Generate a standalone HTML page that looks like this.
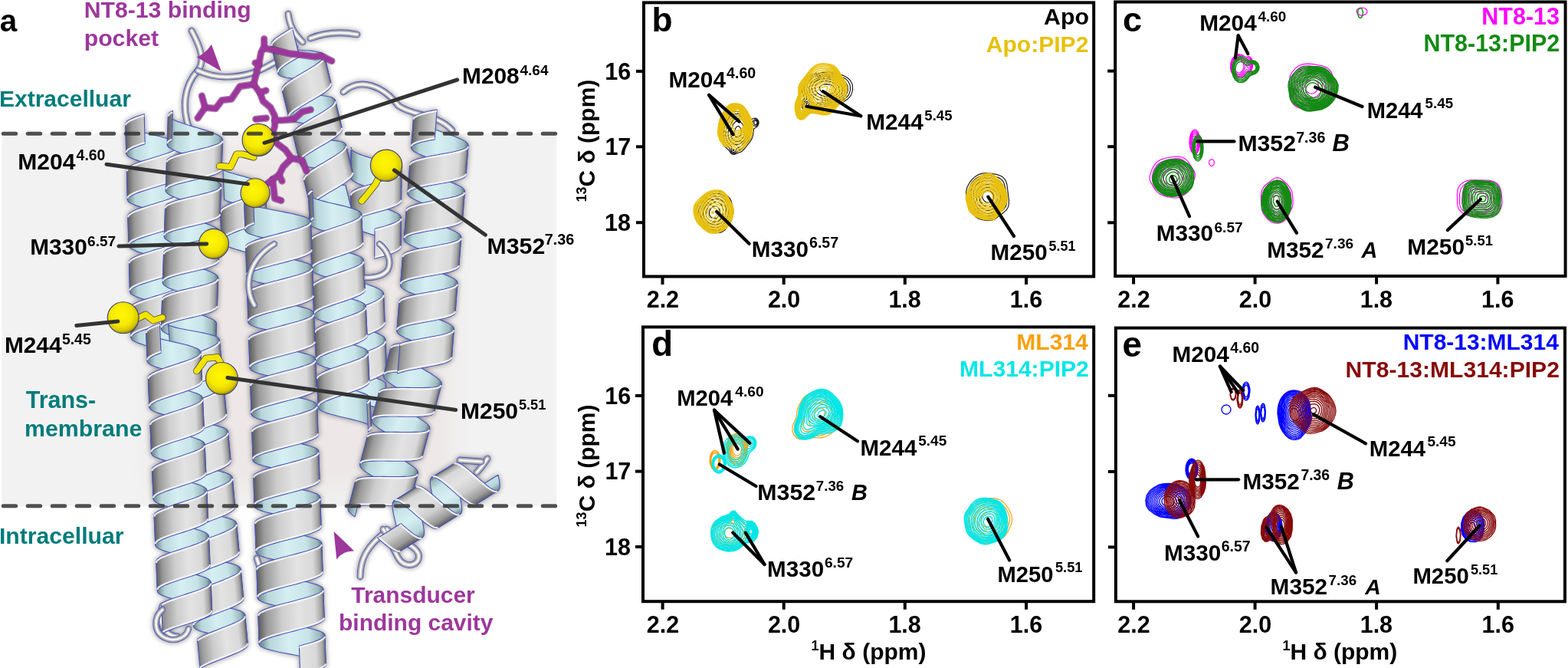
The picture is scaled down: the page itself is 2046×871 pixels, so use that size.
<!DOCTYPE html><html><head><meta charset="utf-8"><style>html,body{margin:0;padding:0;background:#fff;overflow:hidden}svg{display:block}</style></head><body><svg width="2046" height="871" viewBox="0 0 2046 871" font-family="'Liberation Sans', Arial, sans-serif" font-weight="bold"><rect width="2046" height="871" fill="#fff"/><rect x="2.4" y="174" width="723.6" height="486" fill="#f2f2f2"/><defs><filter id="ao" x="-10%" y="-10%" width="120%" height="120%"><feGaussianBlur in="SourceAlpha" stdDeviation="3.5"/><feComponentTransfer><feFuncA type="linear" slope="0.45"/></feComponentTransfer><feMerge><feMergeNode/><feMergeNode in="SourceGraphic"/></feMerge></filter></defs><defs><filter id="tb" x="-20%" y="-20%" width="140%" height="140%"><feGaussianBlur stdDeviation="18"/></filter><clipPath id="bandclip"><rect x="2.4" y="174" width="723.6" height="486"/></clipPath></defs><g clip-path="url(#bandclip)"><path d="M200 190 L590 190 L590 640 L200 640 Z" fill="#ede7e7" filter="url(#tb)"/></g><g filter="url(#ao)"><path d="M247 168 C237 140 240 112 258 92 C268 80 262 62 250 40" fill="none" stroke="#4b55b5" stroke-width="8.8" stroke-linecap="round" stroke-linejoin="round"/><path d="M247 168 C237 140 240 112 258 92 C268 80 262 62 250 40" fill="none" stroke="#a9a9a9" stroke-width="7" stroke-linecap="round" stroke-linejoin="round"/><path d="M247 168 C237 140 240 112 258 92 C268 80 262 62 250 40" fill="none" stroke="#f4f4f4" stroke-width="3.15" stroke-linecap="round" stroke-linejoin="round"/><path d="M258 92 C275 100 300 104 330 95 C350 88 365 78 385 62" fill="none" stroke="#4b55b5" stroke-width="8.8" stroke-linecap="round" stroke-linejoin="round"/><path d="M258 92 C275 100 300 104 330 95 C350 88 365 78 385 62" fill="none" stroke="#a9a9a9" stroke-width="7" stroke-linecap="round" stroke-linejoin="round"/><path d="M258 92 C275 100 300 104 330 95 C350 88 365 78 385 62" fill="none" stroke="#f4f4f4" stroke-width="3.15" stroke-linecap="round" stroke-linejoin="round"/><path d="M376 18 C378 35 385 45 395 55" fill="none" stroke="#4b55b5" stroke-width="8.8" stroke-linecap="round" stroke-linejoin="round"/><path d="M376 18 C378 35 385 45 395 55" fill="none" stroke="#a9a9a9" stroke-width="7" stroke-linecap="round" stroke-linejoin="round"/><path d="M376 18 C378 35 385 45 395 55" fill="none" stroke="#f4f4f4" stroke-width="3.15" stroke-linecap="round" stroke-linejoin="round"/><path d="M405 50 C420 44 440 40 466 45" fill="none" stroke="#4b55b5" stroke-width="8.8" stroke-linecap="round" stroke-linejoin="round"/><path d="M405 50 C420 44 440 40 466 45" fill="none" stroke="#a9a9a9" stroke-width="7" stroke-linecap="round" stroke-linejoin="round"/><path d="M405 50 C420 44 440 40 466 45" fill="none" stroke="#f4f4f4" stroke-width="3.15" stroke-linecap="round" stroke-linejoin="round"/><path d="M448 120 C470 100 500 112 520 138 C540 152 570 148 590 170" fill="none" stroke="#4b55b5" stroke-width="8.8" stroke-linecap="round" stroke-linejoin="round"/><path d="M448 120 C470 100 500 112 520 138 C540 152 570 148 590 170" fill="none" stroke="#a9a9a9" stroke-width="7" stroke-linecap="round" stroke-linejoin="round"/><path d="M448 120 C470 100 500 112 520 138 C540 152 570 148 590 170" fill="none" stroke="#f4f4f4" stroke-width="3.15" stroke-linecap="round" stroke-linejoin="round"/><path d="M470 752 C470 730 478 712 505 692" fill="none" stroke="#4b55b5" stroke-width="8.8" stroke-linecap="round" stroke-linejoin="round"/><path d="M470 752 C470 730 478 712 505 692" fill="none" stroke="#a9a9a9" stroke-width="7" stroke-linecap="round" stroke-linejoin="round"/><path d="M470 752 C470 730 478 712 505 692" fill="none" stroke="#f4f4f4" stroke-width="3.15" stroke-linecap="round" stroke-linejoin="round"/><path d="M505 690 C515 705 540 708 546 722 C550 738 528 742 520 728 C512 714 508 702 500 690" fill="none" stroke="#4b55b5" stroke-width="8.8" stroke-linecap="round" stroke-linejoin="round"/><path d="M505 690 C515 705 540 708 546 722 C550 738 528 742 520 728 C512 714 508 702 500 690" fill="none" stroke="#a9a9a9" stroke-width="7" stroke-linecap="round" stroke-linejoin="round"/><path d="M505 690 C515 705 540 708 546 722 C550 738 528 742 520 728 C512 714 508 702 500 690" fill="none" stroke="#f4f4f4" stroke-width="3.15" stroke-linecap="round" stroke-linejoin="round"/><path d="M622 616 C628 610 632 604 636 598" fill="none" stroke="#4b55b5" stroke-width="8.8" stroke-linecap="round" stroke-linejoin="round"/><path d="M622 616 C628 610 632 604 636 598" fill="none" stroke="#a9a9a9" stroke-width="7" stroke-linecap="round" stroke-linejoin="round"/><path d="M622 616 C628 610 632 604 636 598" fill="none" stroke="#f4f4f4" stroke-width="3.15" stroke-linecap="round" stroke-linejoin="round"/><path d="M335 728 C340 745 348 758 356 767" fill="none" stroke="#4b55b5" stroke-width="8.8" stroke-linecap="round" stroke-linejoin="round"/><path d="M335 728 C340 745 348 758 356 767" fill="none" stroke="#a9a9a9" stroke-width="7" stroke-linecap="round" stroke-linejoin="round"/><path d="M335 728 C340 745 348 758 356 767" fill="none" stroke="#f4f4f4" stroke-width="3.15" stroke-linecap="round" stroke-linejoin="round"/><path d="M212 790 C205 810 215 830 232 830" fill="none" stroke="#4b55b5" stroke-width="8.8" stroke-linecap="round" stroke-linejoin="round"/><path d="M212 790 C205 810 215 830 232 830" fill="none" stroke="#a9a9a9" stroke-width="7" stroke-linecap="round" stroke-linejoin="round"/><path d="M212 790 C205 810 215 830 232 830" fill="none" stroke="#f4f4f4" stroke-width="3.15" stroke-linecap="round" stroke-linejoin="round"/><path d="M600 600 L628 602" fill="none" stroke="#4b55b5" stroke-width="8.8" stroke-linecap="round" stroke-linejoin="round"/><path d="M600 600 L628 602" fill="none" stroke="#a9a9a9" stroke-width="7" stroke-linecap="round" stroke-linejoin="round"/><path d="M600 600 L628 602" fill="none" stroke="#f4f4f4" stroke-width="3.15" stroke-linecap="round" stroke-linejoin="round"/><linearGradient id="f0" gradientUnits="userSpaceOnUse" x1="448.0" y1="371.0" x2="500.0" y2="369.0"><stop offset="0" stop-color="#5e5e5e"/><stop offset="0.12" stop-color="#999"/><stop offset="0.35" stop-color="#cdcdcd"/><stop offset="0.6" stop-color="#e3e3e3"/><stop offset="0.85" stop-color="#d9d9d9"/><stop offset="0.95" stop-color="#a6a6a6"/><stop offset="1" stop-color="#666"/></linearGradient><linearGradient id="b0" gradientUnits="userSpaceOnUse" x1="448.0" y1="371.0" x2="500.0" y2="369.0"><stop offset="0" stop-color="#6a8286"/><stop offset="0.15" stop-color="#b8d6da"/><stop offset="0.45" stop-color="#d6eff3"/><stop offset="0.75" stop-color="#c8e4e8"/><stop offset="0.92" stop-color="#9ab8bc"/><stop offset="1" stop-color="#5a7276"/></linearGradient><path d="M447.4 355.1 L447.8 356.7 L448.9 358.2 L450.7 359.7 L453.1 361.2 L456.1 362.6 L459.5 364.1 L463.4 365.5 L467.5 366.9 L471.8 368.3 L476.1 369.7 L480.4 371.2 L484.6 372.6 L488.4 374.0 L491.8 375.4 L494.8 376.9 L497.2 378.4 L499.0 379.9 L500.1 381.4 L500.5 383.0 L502.1 422.0 L501.7 420.4 L500.6 418.9 L498.8 417.4 L496.4 415.9 L493.4 414.4 L490.0 413.0 L486.1 411.5 L482.0 410.1 L477.7 408.7 L473.3 407.3 L469.0 405.9 L464.9 404.5 L461.1 403.1 L457.6 401.6 L454.7 400.2 L452.3 398.7 L450.5 397.2 L449.4 395.6 L448.9 394.1Z" fill="url(#b0)" stroke="#4b55b5" stroke-width="1.15" stroke-linejoin="round"/><path d="M449.8 415.0 L450.2 416.6 L451.3 418.1 L453.1 419.7 L455.5 421.1 L458.5 422.6 L461.9 424.0 L465.8 425.5 L469.9 426.9 L474.2 428.3 L478.5 429.7 L482.8 431.1 L487.0 432.5 L490.8 433.9 L494.2 435.4 L497.2 436.9 L499.6 438.3 L501.4 439.8 L502.5 441.4 L502.9 442.9 L504.5 481.9 L504.1 480.3 L503.0 478.8 L501.2 477.3 L498.8 475.8 L495.8 474.4 L492.3 472.9 L488.5 471.5 L484.4 470.1 L480.1 468.7 L475.7 467.3 L471.4 465.9 L467.3 464.4 L463.5 463.0 L460.0 461.6 L457.1 460.1 L454.7 458.6 L452.9 457.1 L451.8 455.6 L451.3 454.0Z" fill="url(#b0)" stroke="#4b55b5" stroke-width="1.15" stroke-linejoin="round"/><path d="M452.2 475.0 L452.6 476.5 L453.7 478.1 L455.4 479.6 L457.8 481.0 L460.7 482.5 L464.1 483.9 L467.9 485.3 L472.0 486.7 L476.2 488.1 L480.5 489.5 L484.8 490.9 L488.9 492.3 L492.7 493.7 L496.2 495.1 L499.2 496.6 L501.7 498.1 L503.6 499.5 L505.1 538.5 L503.2 537.0 L500.8 535.6 L497.7 534.1 L494.3 532.7 L490.4 531.3 L486.3 529.9 L482.1 528.5 L477.8 527.1 L473.5 525.7 L469.4 524.3 L465.7 522.9 L462.3 521.4 L459.4 520.0 L457.0 518.5 L455.2 517.0 L454.1 515.5 L453.7 514.0Z" fill="url(#b0)" stroke="#4b55b5" stroke-width="1.15" stroke-linejoin="round"/><path d="M449.0 351.5 L448.1 352.7 L447.5 353.9 L447.4 355.1 L448.9 394.1 L449.1 392.9 L449.6 391.7 L450.6 390.5Z" fill="url(#f0)" stroke="#4b55b5" stroke-width="1.15" stroke-linejoin="round"/><path d="M449.1 353.3 L448.2 354.5 L447.6 355.7 L447.5 356.9 M450.5 388.7 L449.6 389.9 L449.0 391.1 L448.9 392.3" fill="none" stroke="#f6f6f6" stroke-opacity="0.9" stroke-width="2.2"/><path d="M500.5 383.0 L500.2 384.6 L499.3 386.2 L497.6 387.8 L495.3 389.5 L492.5 391.2 L489.1 392.9 L485.4 394.7 L481.4 396.4 L477.3 398.1 L473.0 399.9 L468.9 401.6 L464.9 403.4 L461.2 405.1 L457.8 406.8 L455.0 408.5 L452.7 410.2 L451.1 411.8 L450.1 413.5 L449.8 415.0 L451.3 454.0 L451.6 452.4 L452.6 450.8 L454.3 449.2 L456.6 447.5 L459.4 445.8 L462.7 444.1 L466.4 442.3 L470.4 440.6 L474.6 438.9 L478.8 437.1 L483.0 435.4 L487.0 433.6 L490.7 431.9 L494.0 430.2 L496.9 428.5 L499.2 426.8 L500.8 425.2 L501.8 423.6 L502.1 422.0Z" fill="url(#f0)" stroke="#4b55b5" stroke-width="1.15" stroke-linejoin="round"/><path d="M500.6 384.8 L500.3 386.4 L499.3 388.0 L497.7 389.6 L495.4 391.3 L492.5 393.0 L489.2 394.7 L485.5 396.5 L481.5 398.2 L477.3 399.9 L473.1 401.7 L468.9 403.4 L465.0 405.2 L461.2 406.9 L457.9 408.6 L455.1 410.3 L452.8 412.0 L451.1 413.6 L450.1 415.3 L449.9 416.8 M502.0 420.2 L501.7 421.8 L500.7 423.4 L499.1 425.0 L496.8 426.7 L494.0 428.4 L490.6 430.1 L486.9 431.8 L482.9 433.6 L478.8 435.3 L474.5 437.1 L470.4 438.8 L466.4 440.5 L462.7 442.3 L459.3 444.0 L456.5 445.7 L454.2 447.4 L452.5 449.0 L451.6 450.6 L451.3 452.2" fill="none" stroke="#f6f6f6" stroke-opacity="0.9" stroke-width="2.2"/><path d="M502.9 442.9 L502.6 444.5 L501.7 446.2 L500.0 447.8 L497.7 449.5 L494.9 451.2 L491.5 452.9 L487.8 454.6 L483.8 456.3 L479.7 458.1 L475.4 459.8 L471.3 461.6 L467.3 463.3 L463.6 465.1 L460.2 466.8 L457.4 468.5 L455.1 470.1 L453.5 471.8 L452.5 473.4 L452.2 475.0 L453.7 514.0 L454.0 512.4 L455.0 510.8 L456.7 509.1 L459.0 507.4 L461.8 505.7 L465.1 504.0 L468.8 502.3 L472.8 500.6 L477.0 498.8 L481.2 497.1 L485.4 495.3 L489.4 493.6 L493.1 491.8 L496.4 490.1 L499.3 488.4 L501.6 486.8 L503.2 485.1 L504.2 483.5 L504.5 481.9Z" fill="url(#f0)" stroke="#4b55b5" stroke-width="1.15" stroke-linejoin="round"/><path d="M503.0 444.7 L502.7 446.3 L501.7 448.0 L500.1 449.6 L497.8 451.3 L494.9 453.0 L491.6 454.7 L487.9 456.4 L483.9 458.1 L479.7 459.9 L475.5 461.6 L471.3 463.4 L467.4 465.1 L463.6 466.9 L460.3 468.6 L457.5 470.3 L455.2 471.9 L453.5 473.6 L452.5 475.2 L452.3 476.8 M504.4 480.1 L504.1 481.7 L503.1 483.3 L501.5 485.0 L499.2 486.6 L496.4 488.3 L493.0 490.0 L489.3 491.8 L485.3 493.5 L481.2 495.3 L476.9 497.0 L472.8 498.8 L468.8 500.5 L465.1 502.2 L461.7 503.9 L458.9 505.6 L456.6 507.3 L454.9 509.0 L454.0 510.6 L453.7 512.2" fill="none" stroke="#f6f6f6" stroke-opacity="0.9" stroke-width="2.2"/><linearGradient id="f1" gradientUnits="userSpaceOnUse" x1="286.0" y1="241.3" x2="346.0" y2="238.7"><stop offset="0" stop-color="#5e5e5e"/><stop offset="0.12" stop-color="#999"/><stop offset="0.35" stop-color="#cdcdcd"/><stop offset="0.6" stop-color="#e3e3e3"/><stop offset="0.85" stop-color="#d9d9d9"/><stop offset="0.95" stop-color="#a6a6a6"/><stop offset="1" stop-color="#666"/></linearGradient><linearGradient id="b1" gradientUnits="userSpaceOnUse" x1="286.0" y1="241.3" x2="346.0" y2="238.7"><stop offset="0" stop-color="#6a8286"/><stop offset="0.15" stop-color="#b8d6da"/><stop offset="0.45" stop-color="#d6eff3"/><stop offset="0.75" stop-color="#c8e4e8"/><stop offset="0.92" stop-color="#9ab8bc"/><stop offset="1" stop-color="#5a7276"/></linearGradient><path d="M290.9 221.5 L294.3 223.0 L298.2 224.4 L302.6 225.8 L307.4 227.2 L312.4 228.6 L317.5 230.0 L322.5 231.4 L327.3 232.8 L331.9 234.2 L335.9 235.7 L339.4 237.1 L342.3 238.6 L344.4 240.1 L345.7 241.6 L346.2 243.2 L347.8 282.2 L347.3 280.6 L346.0 279.1 L343.9 277.6 L341.1 276.1 L337.6 274.6 L333.5 273.2 L329.0 271.8 L324.1 270.4 L319.1 269.0 L314.0 267.6 L309.0 266.2 L304.3 264.8 L299.9 263.4 L295.9 262.0 L292.6 260.5Z" fill="url(#b1)" stroke="#4b55b5" stroke-width="1.15" stroke-linejoin="round"/><path d="M287.5 275.7 L288.0 277.3 L289.2 278.8 L291.3 280.3 L294.1 281.8 L297.5 283.2 L301.5 284.6 L305.9 286.0 L310.6 287.4 L315.6 288.8 L320.6 290.1 L325.5 291.5 L330.3 292.9 L334.7 294.3 L338.7 295.7 L342.1 297.1 L344.9 298.6 L346.9 300.1 L348.2 301.6 L348.7 303.2 L350.3 342.1 L349.9 340.6 L348.6 339.1 L346.5 337.6 L343.7 336.1 L340.3 334.7 L336.3 333.2 L331.9 331.9 L327.2 330.5 L322.2 329.1 L317.2 327.7 L312.3 326.4 L307.5 325.0 L303.1 323.6 L299.1 322.2 L295.7 320.7 L292.9 319.3 L290.9 317.8 L289.6 316.2 L289.1 314.7Z" fill="url(#b1)" stroke="#4b55b5" stroke-width="1.15" stroke-linejoin="round"/><path d="M346.2 243.2 L345.8 244.8 L344.7 246.4 L342.7 248.1 L340.1 249.8 L336.8 251.5 L333.0 253.3 L328.7 255.0 L324.1 256.8 L319.3 258.6 L314.4 260.4 L309.6 262.2 L304.9 263.9 L300.7 265.7 L296.8 267.4 L293.5 269.1 L290.9 270.8 L289.0 272.5 L287.8 274.1 L287.5 275.7 L289.1 314.7 L289.5 313.1 L290.6 311.5 L292.5 309.8 L295.2 308.1 L298.5 306.4 L302.3 304.7 L306.6 302.9 L311.2 301.1 L316.0 299.3 L320.9 297.5 L325.7 295.8 L330.3 294.0 L334.6 292.2 L338.5 290.5 L341.7 288.8 L344.4 287.1 L346.3 285.4 L347.5 283.8 L347.8 282.2Z" fill="url(#f1)" stroke="#4b55b5" stroke-width="1.15" stroke-linejoin="round"/><path d="M346.2 245.0 L345.9 246.6 L344.7 248.2 L342.8 249.9 L340.2 251.6 L336.9 253.3 L333.1 255.1 L328.8 256.8 L324.2 258.6 L319.3 260.4 L314.5 262.2 L309.6 263.9 L305.0 265.7 L300.7 267.5 L296.9 269.2 L293.6 270.9 L291.0 272.6 L289.0 274.3 L287.9 275.9 L287.6 277.5 M347.7 280.4 L347.4 282.0 L346.2 283.6 L344.3 285.3 L341.7 287.0 L338.4 288.7 L334.5 290.4 L330.3 292.2 L325.6 294.0 L320.8 295.7 L315.9 297.5 L311.1 299.3 L306.5 301.1 L302.2 302.9 L298.4 304.6 L295.1 306.3 L292.5 308.0 L290.5 309.7 L289.4 311.3 L289.0 312.9" fill="none" stroke="#f6f6f6" stroke-opacity="0.9" stroke-width="2.2"/><path d="M348.7 303.2 L348.2 305.0 L346.6 307.0 L344.0 308.9 L340.5 310.9 L336.1 313.0 L331.1 315.0 L332.7 354.0 L337.7 351.9 L342.1 349.9 L345.6 347.9 L348.3 345.9 L349.8 344.0 L350.3 342.1Z" fill="url(#f1)" stroke="#4b55b5" stroke-width="1.15" stroke-linejoin="round"/><path d="M348.8 305.0 L348.3 306.8 L346.7 308.8 L344.1 310.7 L340.5 312.7 L336.2 314.8 L331.2 316.8 M350.3 340.3 L349.8 342.2 L348.2 344.1 L345.6 346.1 L342.0 348.1 L337.7 350.1 L332.7 352.2" fill="none" stroke="#f6f6f6" stroke-opacity="0.9" stroke-width="2.2"/><linearGradient id="f2" gradientUnits="userSpaceOnUse" x1="164.0" y1="168.9" x2="234.0" y2="167.1"><stop offset="0" stop-color="#5e5e5e"/><stop offset="0.12" stop-color="#999"/><stop offset="0.35" stop-color="#cdcdcd"/><stop offset="0.6" stop-color="#e3e3e3"/><stop offset="0.85" stop-color="#d9d9d9"/><stop offset="0.95" stop-color="#a6a6a6"/><stop offset="1" stop-color="#666"/></linearGradient><linearGradient id="b2" gradientUnits="userSpaceOnUse" x1="164.0" y1="168.9" x2="234.0" y2="167.1"><stop offset="0" stop-color="#6a8286"/><stop offset="0.15" stop-color="#b8d6da"/><stop offset="0.45" stop-color="#d6eff3"/><stop offset="0.75" stop-color="#c8e4e8"/><stop offset="0.92" stop-color="#9ab8bc"/><stop offset="1" stop-color="#5a7276"/></linearGradient><path d="M163.8 161.5 L164.3 163.1 L165.8 164.6 L168.2 166.2 L171.4 167.7 L175.3 169.1 L179.9 170.6 L185.0 172.0 L190.5 173.5 L196.3 174.9 L202.1 176.3 L207.8 177.8 L213.4 179.2 L218.5 180.7 L223.1 182.1 L227.0 183.6 L230.2 185.1 L232.6 186.6 L234.1 188.2 L234.6 189.7 L235.6 228.7 L235.1 227.1 L233.6 225.6 L231.2 224.1 L228.0 222.6 L224.1 221.1 L219.5 219.7 L214.4 218.2 L208.8 216.8 L203.1 215.3 L197.3 213.9 L191.5 212.5 L186.0 211.0 L180.9 209.6 L176.3 208.1 L172.4 206.6 L169.2 205.2 L166.8 203.6 L165.3 202.1 L164.8 200.5Z" fill="url(#b2)" stroke="#4b55b5" stroke-width="1.15" stroke-linejoin="round"/><path d="M165.4 221.5 L165.9 223.1 L167.3 224.6 L169.7 226.1 L172.9 227.6 L176.9 229.1 L181.5 230.6 L186.6 232.0 L192.1 233.5 L197.8 234.9 L203.6 236.3 L209.4 237.8 L214.9 239.2 L220.0 240.6 L224.6 242.1 L228.6 243.6 L231.8 245.1 L234.1 246.6 L235.6 248.1 L236.1 249.7 L237.1 288.7 L236.6 287.1 L235.1 285.6 L232.8 284.1 L229.6 282.6 L225.6 281.1 L221.0 279.6 L215.9 278.2 L210.4 276.7 L204.7 275.3 L198.8 273.9 L193.1 272.5 L187.6 271.0 L182.5 269.6 L177.9 268.1 L173.9 266.6 L170.7 265.1 L168.3 263.6 L166.9 262.1 L166.4 260.5Z" fill="url(#b2)" stroke="#4b55b5" stroke-width="1.15" stroke-linejoin="round"/><path d="M166.9 281.5 L167.4 283.1 L168.9 284.6 L171.2 286.1 L174.4 287.6 L178.4 289.1 L183.0 290.6 L188.1 292.0 L193.6 293.4 L199.4 294.9 L205.2 296.3 L210.9 297.7 L216.4 299.2 L221.6 300.6 L226.2 302.1 L230.1 303.6 L233.3 305.1 L235.7 306.6 L237.1 308.1 L237.7 309.7 L238.7 348.7 L238.1 347.1 L236.7 345.6 L234.3 344.0 L231.1 342.6 L227.2 341.1 L222.6 339.6 L217.4 338.2 L211.9 336.7 L206.2 335.3 L200.4 333.9 L194.6 332.4 L189.1 331.0 L184.0 329.5 L179.4 328.1 L175.5 326.6 L172.3 325.1 L169.9 323.6 L168.4 322.1 L167.9 320.5Z" fill="url(#b2)" stroke="#4b55b5" stroke-width="1.15" stroke-linejoin="round"/><path d="M168.5 341.5 L169.0 343.0 L170.4 344.6 L172.8 346.1 L176.0 347.6 L179.9 349.1 L184.5 350.5 L189.7 352.0 L195.2 353.4 L200.9 354.9 L206.7 356.3 L212.5 357.7 L218.0 359.2 L223.1 360.6 L227.7 362.1 L231.7 363.5 L234.9 365.0 L237.2 366.6 L238.7 368.1 L239.2 369.7 L240.2 408.7 L239.7 407.1 L238.2 405.5 L235.9 404.0 L232.7 402.5 L228.7 401.1 L224.1 399.6 L219.0 398.1 L213.5 396.7 L207.7 395.3 L201.9 393.8 L196.2 392.4 L190.7 391.0 L185.6 389.5 L181.0 388.1 L177.0 386.6 L173.8 385.1 L171.4 383.6 L170.0 382.0 L169.5 380.5Z" fill="url(#b2)" stroke="#4b55b5" stroke-width="1.15" stroke-linejoin="round"/><path d="M170.0 401.5 L170.6 403.1 L172.2 404.7 L174.8 406.3 L178.3 407.9 L182.7 409.5 L187.7 411.0 L193.2 412.5 L199.1 414.0 L205.2 415.5 L211.4 417.0 L217.3 418.5 L222.8 420.1 L223.9 459.0 L218.3 457.5 L212.4 456.0 L206.2 454.5 L200.1 453.0 L194.2 451.5 L188.7 450.0 L183.7 448.4 L179.3 446.9 L175.8 445.3 L173.2 443.7 L171.6 442.1 L171.0 440.4Z" fill="url(#b2)" stroke="#4b55b5" stroke-width="1.15" stroke-linejoin="round"/><path d="M188.2 148.8 L182.3 150.7 L177.1 152.5 L172.5 154.4 L168.8 156.2 L166.0 158.0 L164.4 159.8 L163.8 161.5 L164.8 200.5 L165.4 198.8 L167.0 197.0 L169.8 195.2 L173.5 193.4 L178.1 191.5 L183.3 189.6 L189.2 187.8Z" fill="url(#f2)" stroke="#4b55b5" stroke-width="1.15" stroke-linejoin="round"/><path d="M188.2 150.6 L182.4 152.5 L177.1 154.3 L172.5 156.2 L168.8 158.0 L166.1 159.8 L164.4 161.6 L163.9 163.3 M189.1 186.0 L183.3 187.8 L178.0 189.7 L173.4 191.6 L169.7 193.4 L167.0 195.2 L165.3 197.0 L164.8 198.7" fill="none" stroke="#f6f6f6" stroke-opacity="0.9" stroke-width="2.2"/><path d="M234.6 189.7 L234.1 191.3 L232.8 192.9 L230.5 194.6 L227.4 196.2 L223.5 197.9 L219.0 199.6 L213.9 201.3 L208.5 203.0 L202.8 204.8 L197.1 206.5 L191.4 208.2 L186.0 209.9 L181.0 211.6 L176.5 213.3 L172.6 215.0 L169.5 216.7 L167.2 218.3 L165.8 219.9 L165.4 221.5 L166.4 260.5 L166.8 258.9 L168.2 257.3 L170.5 255.7 L173.6 254.0 L177.5 252.3 L182.0 250.6 L187.0 248.9 L192.4 247.2 L198.1 245.5 L203.8 243.7 L209.5 242.0 L214.9 240.3 L220.0 238.6 L224.5 236.9 L228.4 235.2 L231.5 233.6 L233.8 231.9 L235.1 230.3 L235.6 228.7Z" fill="url(#f2)" stroke="#4b55b5" stroke-width="1.15" stroke-linejoin="round"/><path d="M234.6 191.5 L234.2 193.1 L232.8 194.7 L230.5 196.4 L227.4 198.0 L223.5 199.7 L219.0 201.4 L214.0 203.1 L208.5 204.8 L202.9 206.6 L197.1 208.3 L191.5 210.0 L186.1 211.7 L181.0 213.4 L176.5 215.1 L172.6 216.8 L169.5 218.5 L167.2 220.1 L165.8 221.7 L165.4 223.3 M235.5 226.9 L235.1 228.5 L233.7 230.1 L231.4 231.8 L228.3 233.4 L224.4 235.1 L219.9 236.8 L214.9 238.5 L209.5 240.2 L203.8 241.9 L198.1 243.7 L192.4 245.4 L187.0 247.1 L181.9 248.8 L177.4 250.5 L173.5 252.2 L170.4 253.9 L168.1 255.5 L166.8 257.1 L166.3 258.7" fill="none" stroke="#f6f6f6" stroke-opacity="0.9" stroke-width="2.2"/><path d="M236.1 249.7 L235.7 251.3 L234.3 252.9 L232.0 254.6 L228.9 256.2 L225.0 257.9 L220.5 259.6 L215.5 261.3 L210.0 263.0 L204.4 264.7 L198.6 266.5 L193.0 268.2 L187.6 269.9 L182.5 271.6 L178.0 273.3 L174.1 275.0 L171.0 276.7 L168.7 278.3 L167.3 279.9 L166.9 281.5 L167.9 320.5 L168.3 318.9 L169.7 317.3 L172.0 315.6 L175.1 314.0 L179.0 312.3 L183.5 310.6 L188.6 308.9 L194.0 307.2 L199.6 305.5 L205.4 303.7 L211.0 302.0 L216.5 300.3 L221.5 298.6 L226.0 296.9 L229.9 295.2 L233.0 293.5 L235.3 291.9 L236.7 290.3 L237.1 288.7Z" fill="url(#f2)" stroke="#4b55b5" stroke-width="1.15" stroke-linejoin="round"/><path d="M236.2 251.5 L235.7 253.1 L234.3 254.7 L232.1 256.4 L228.9 258.0 L225.1 259.7 L220.6 261.4 L215.5 263.1 L210.1 264.8 L204.4 266.5 L198.7 268.3 L193.0 270.0 L187.6 271.7 L182.6 273.4 L178.0 275.1 L174.2 276.8 L171.1 278.5 L168.8 280.1 L167.4 281.7 L167.0 283.3 M237.1 286.9 L236.6 288.5 L235.3 290.1 L233.0 291.7 L229.9 293.4 L226.0 295.1 L221.5 296.8 L216.4 298.5 L211.0 300.2 L205.3 301.9 L199.6 303.7 L193.9 305.4 L188.5 307.1 L183.5 308.8 L179.0 310.5 L175.1 312.2 L172.0 313.8 L169.7 315.5 L168.3 317.1 L167.9 318.7" fill="none" stroke="#f6f6f6" stroke-opacity="0.9" stroke-width="2.2"/><path d="M237.7 309.7 L237.2 311.3 L235.8 312.9 L233.6 314.5 L230.4 316.2 L226.6 317.9 L222.1 319.6 L217.0 321.3 L211.6 323.0 L205.9 324.7 L200.2 326.4 L194.5 328.2 L189.1 329.9 L184.1 331.6 L179.5 333.3 L175.7 335.0 L172.5 336.6 L170.3 338.3 L168.9 339.9 L168.5 341.5 L169.5 380.5 L169.9 378.9 L171.3 377.3 L173.6 375.6 L176.7 374.0 L180.5 372.3 L185.1 370.6 L190.1 368.9 L195.5 367.2 L201.2 365.4 L206.9 363.7 L212.6 362.0 L218.0 360.3 L223.1 358.6 L227.6 356.9 L231.4 355.2 L234.6 353.5 L236.8 351.9 L238.2 350.3 L238.7 348.7Z" fill="url(#f2)" stroke="#4b55b5" stroke-width="1.15" stroke-linejoin="round"/><path d="M237.7 311.5 L237.3 313.1 L235.9 314.7 L233.6 316.3 L230.5 318.0 L226.6 319.7 L222.1 321.4 L217.1 323.1 L211.6 324.8 L206.0 326.5 L200.2 328.2 L194.6 330.0 L189.1 331.7 L184.1 333.4 L179.6 335.1 L175.7 336.8 L172.6 338.4 L170.3 340.1 L168.9 341.7 L168.5 343.3 M238.6 346.9 L238.2 348.5 L236.8 350.1 L234.5 351.7 L231.4 353.4 L227.5 355.1 L223.0 356.8 L218.0 358.5 L212.5 360.2 L206.9 361.9 L201.1 363.6 L195.5 365.4 L190.1 367.1 L185.0 368.8 L180.5 370.5 L176.6 372.2 L173.5 373.8 L171.2 375.5 L169.8 377.1 L169.4 378.7" fill="none" stroke="#f6f6f6" stroke-opacity="0.9" stroke-width="2.2"/><path d="M239.2 369.7 L238.8 371.3 L237.4 372.9 L235.1 374.5 L232.0 376.2 L228.1 377.9 L223.6 379.5 L218.6 381.3 L213.1 383.0 L207.5 384.7 L201.7 386.4 L196.1 388.2 L190.6 389.9 L185.6 391.6 L181.1 393.3 L177.2 395.0 L174.1 396.6 L171.8 398.3 L170.4 399.9 L170.0 401.5 L171.0 440.4 L171.4 438.9 L172.8 437.2 L175.1 435.6 L178.2 433.9 L182.1 432.3 L186.6 430.6 L191.6 428.9 L197.1 427.1 L202.7 425.4 L208.5 423.7 L214.1 422.0 L219.6 420.2 L224.6 418.5 L229.1 416.8 L233.0 415.2 L236.1 413.5 L238.4 411.9 L239.8 410.2 L240.2 408.7Z" fill="url(#f2)" stroke="#4b55b5" stroke-width="1.15" stroke-linejoin="round"/><path d="M239.2 371.5 L238.8 373.1 L237.4 374.7 L235.2 376.3 L232.0 378.0 L228.2 379.6 L223.6 381.3 L218.6 383.1 L213.2 384.8 L207.5 386.5 L201.8 388.2 L196.1 390.0 L190.7 391.7 L185.7 393.4 L181.1 395.1 L177.3 396.8 L174.1 398.4 L171.9 400.1 L170.5 401.7 L170.0 403.3 M240.2 406.9 L239.7 408.4 L238.3 410.1 L236.1 411.7 L232.9 413.4 L229.1 415.0 L224.6 416.7 L219.5 418.4 L214.1 420.2 L208.4 421.9 L202.7 423.6 L197.0 425.3 L191.6 427.1 L186.6 428.8 L182.0 430.5 L178.2 432.1 L175.0 433.8 L172.8 435.4 L171.4 437.1 L171.0 438.6" fill="none" stroke="#f6f6f6" stroke-opacity="0.9" stroke-width="2.2"/><linearGradient id="f3" gradientUnits="userSpaceOnUse" x1="219.0" y1="163.8" x2="291.0" y2="166.2"><stop offset="0" stop-color="#5e5e5e"/><stop offset="0.12" stop-color="#999"/><stop offset="0.35" stop-color="#cdcdcd"/><stop offset="0.6" stop-color="#e3e3e3"/><stop offset="0.85" stop-color="#d9d9d9"/><stop offset="0.95" stop-color="#a6a6a6"/><stop offset="1" stop-color="#666"/></linearGradient><linearGradient id="b3" gradientUnits="userSpaceOnUse" x1="219.0" y1="163.8" x2="291.0" y2="166.2"><stop offset="0" stop-color="#6a8286"/><stop offset="0.15" stop-color="#b8d6da"/><stop offset="0.45" stop-color="#d6eff3"/><stop offset="0.75" stop-color="#c8e4e8"/><stop offset="0.92" stop-color="#9ab8bc"/><stop offset="1" stop-color="#5a7276"/></linearGradient><path d="M219.5 149.8 L219.9 151.4 L221.3 153.0 L223.7 154.7 L226.9 156.3 L230.8 158.1 L235.5 159.8 L240.6 161.5 L246.2 163.3 L252.0 165.1 L257.9 166.8 L263.7 168.6 L269.3 170.4 L274.5 172.1 L279.1 173.8 L283.1 175.6 L286.3 177.2 L288.6 178.9 L290.0 180.5 L290.5 182.1 L289.2 221.1 L288.7 219.5 L287.3 217.9 L285.0 216.2 L281.8 214.5 L277.8 212.8 L273.2 211.1 L268.0 209.3 L262.4 207.6 L256.6 205.8 L250.7 204.0 L244.9 202.3 L239.4 200.5 L234.2 198.8 L229.6 197.0 L225.6 195.3 L222.4 193.6 L220.0 192.0 L218.6 190.4 L218.2 188.8Z" fill="url(#b3)" stroke="#4b55b5" stroke-width="1.15" stroke-linejoin="round"/><path d="M217.5 209.7 L218.0 211.3 L219.4 213.0 L221.7 214.6 L224.9 216.3 L228.9 218.0 L233.5 219.8 L238.7 221.5 L244.3 223.3 L250.1 225.0 L256.0 226.8 L261.8 228.6 L267.3 230.3 L272.5 232.1 L277.1 233.8 L281.1 235.5 L284.3 237.2 L286.7 238.9 L288.1 240.5 L288.5 242.1 L287.2 281.1 L286.8 279.5 L285.4 277.8 L283.0 276.2 L279.8 274.5 L275.9 272.8 L271.2 271.1 L266.1 269.3 L260.5 267.6 L254.7 265.8 L248.8 264.0 L243.0 262.2 L237.4 260.5 L232.2 258.7 L227.6 257.0 L223.6 255.3 L220.4 253.6 L218.1 251.9 L216.7 250.3 L216.2 248.7Z" fill="url(#b3)" stroke="#4b55b5" stroke-width="1.15" stroke-linejoin="round"/><path d="M215.6 269.7 L216.0 271.3 L217.4 272.9 L219.7 274.6 L222.9 276.3 L226.9 278.0 L231.5 279.7 L236.7 281.5 L242.3 283.2 L248.1 285.0 L254.0 286.8 L259.8 288.5 L265.4 290.3 L270.5 292.1 L275.2 293.8 L279.2 295.5 L282.4 297.2 L284.7 298.8 L286.1 300.5 L286.5 302.1 L285.3 341.0 L284.8 339.4 L283.4 337.8 L281.1 336.2 L277.9 334.5 L273.9 332.8 L269.3 331.0 L264.1 329.3 L258.5 327.5 L252.7 325.8 L246.8 324.0 L241.0 322.2 L235.4 320.4 L230.3 318.7 L225.6 317.0 L221.7 315.3 L218.5 313.6 L216.1 311.9 L214.7 310.3 L214.3 308.7Z" fill="url(#b3)" stroke="#4b55b5" stroke-width="1.15" stroke-linejoin="round"/><path d="M213.6 329.7 L214.0 331.3 L215.4 332.9 L217.8 334.6 L221.0 336.2 L224.9 338.0 L229.6 339.7 L234.8 341.4 L240.3 343.2 L246.1 345.0 L252.0 346.7 L257.8 348.5 L263.4 350.3 L268.6 352.0 L273.2 353.8 L277.2 355.5 L280.4 357.1 L282.7 358.8 L284.1 360.4 L284.6 362.0 L283.3 401.0 L282.9 399.4 L281.4 397.8 L279.1 396.1 L275.9 394.4 L271.9 392.7 L267.3 391.0 L262.1 389.3 L256.6 387.5 L250.8 385.7 L244.9 383.9 L239.1 382.2 L233.5 380.4 L228.3 378.7 L223.7 376.9 L219.7 375.2 L216.5 373.5 L214.2 371.9 L212.8 370.3 L212.3 368.7Z" fill="url(#b3)" stroke="#4b55b5" stroke-width="1.15" stroke-linejoin="round"/><path d="M211.6 389.7 L212.1 391.2 L213.4 392.8 L215.7 394.5 L218.9 396.1 L222.8 397.8 L227.3 399.5 L232.4 401.3 L237.9 403.0 L243.6 404.8 L249.5 406.5 L255.2 408.3 L260.8 410.0 L266.0 411.8 L270.6 413.5 L274.7 415.2 L278.0 416.8 L280.4 418.5 L282.0 420.1 L282.6 421.7 L281.3 460.7 L280.7 459.1 L279.1 457.5 L276.7 455.8 L273.4 454.2 L269.4 452.5 L264.7 450.7 L259.5 449.0 L254.0 447.3 L248.2 445.5 L242.4 443.8 L236.6 442.0 L231.1 440.3 L226.0 438.5 L221.5 436.8 L217.6 435.1 L214.5 433.5 L212.2 431.8 L210.8 430.2 L210.4 428.6Z" fill="url(#b3)" stroke="#4b55b5" stroke-width="1.15" stroke-linejoin="round"/><path d="M225.4 144.5 L222.2 146.2 L220.2 148.0 L219.5 149.8 L218.2 188.8 L218.9 187.0 L220.9 185.2 L224.1 183.5Z" fill="url(#f3)" stroke="#4b55b5" stroke-width="1.15" stroke-linejoin="round"/><path d="M225.3 146.3 L222.1 148.0 L220.1 149.8 L219.4 151.6 M224.1 181.7 L221.0 183.4 L219.0 185.2 L218.3 187.0" fill="none" stroke="#f6f6f6" stroke-opacity="0.9" stroke-width="2.2"/><path d="M290.5 182.1 L289.9 183.7 L288.4 185.2 L286.0 186.7 L282.7 188.2 L278.6 189.6 L273.8 191.1 L268.6 192.5 L262.9 193.9 L257.0 195.2 L251.0 196.6 L245.1 198.0 L239.4 199.4 L234.1 200.8 L229.4 202.2 L225.3 203.7 L222.0 205.2 L219.6 206.7 L218.1 208.2 L217.5 209.7 L216.2 248.7 L216.8 247.2 L218.3 245.6 L220.7 244.1 L224.0 242.7 L228.1 241.2 L232.9 239.8 L238.1 238.4 L243.8 237.0 L249.7 235.6 L255.7 234.2 L261.6 232.8 L267.3 231.4 L272.6 230.0 L277.3 228.6 L281.4 227.2 L284.7 225.7 L287.1 224.2 L288.6 222.7 L289.2 221.1Z" fill="url(#f3)" stroke="#4b55b5" stroke-width="1.15" stroke-linejoin="round"/><path d="M290.4 183.9 L289.9 185.5 L288.3 187.0 L285.9 188.5 L282.6 190.0 L278.5 191.4 L273.8 192.9 L268.5 194.3 L262.8 195.7 L256.9 197.0 L250.9 198.4 L245.0 199.8 L239.3 201.2 L234.1 202.6 L229.3 204.0 L225.3 205.5 L221.9 207.0 L219.5 208.5 L218.0 210.0 L217.5 211.5 M289.2 219.3 L288.7 220.9 L287.2 222.4 L284.8 223.9 L281.4 225.4 L277.4 226.8 L272.6 228.2 L267.4 229.6 L261.7 231.0 L255.8 232.4 L249.8 233.8 L243.9 235.2 L238.2 236.6 L232.9 238.0 L228.2 239.4 L224.1 240.9 L220.8 242.3 L218.4 243.8 L216.8 245.4 L216.3 246.9" fill="none" stroke="#f6f6f6" stroke-opacity="0.9" stroke-width="2.2"/><path d="M288.5 242.1 L288.0 243.6 L286.4 245.2 L284.0 246.7 L280.7 248.2 L276.6 249.6 L271.9 251.0 L266.6 252.4 L260.9 253.8 L255.0 255.2 L249.0 256.6 L243.1 258.0 L237.4 259.4 L232.2 260.8 L227.4 262.2 L223.3 263.7 L220.0 265.1 L217.6 266.6 L216.1 268.2 L215.6 269.7 L214.3 308.7 L214.8 307.1 L216.3 305.6 L218.8 304.1 L222.1 302.6 L226.1 301.2 L230.9 299.8 L236.2 298.4 L241.8 297.0 L247.8 295.6 L253.7 294.2 L259.7 292.8 L265.3 291.4 L270.6 290.0 L275.4 288.6 L279.4 287.1 L282.7 285.7 L285.2 284.2 L286.7 282.6 L287.2 281.1Z" fill="url(#f3)" stroke="#4b55b5" stroke-width="1.15" stroke-linejoin="round"/><path d="M288.4 243.9 L287.9 245.4 L286.4 247.0 L283.9 248.5 L280.6 250.0 L276.6 251.4 L271.8 252.8 L266.5 254.2 L260.9 255.6 L255.0 257.0 L249.0 258.4 L243.1 259.8 L237.4 261.2 L232.1 262.6 L227.4 264.0 L223.3 265.5 L220.0 266.9 L217.5 268.4 L216.0 270.0 L215.5 271.5 M287.3 279.3 L286.7 280.8 L285.2 282.4 L282.8 283.9 L279.5 285.3 L275.4 286.8 L270.7 288.2 L265.4 289.6 L259.7 291.0 L253.8 292.4 L247.8 293.8 L241.9 295.2 L236.2 296.6 L230.9 298.0 L226.2 299.4 L222.1 300.8 L218.8 302.3 L216.4 303.8 L214.9 305.3 L214.3 306.9" fill="none" stroke="#f6f6f6" stroke-opacity="0.9" stroke-width="2.2"/><path d="M286.5 302.1 L286.0 303.6 L284.5 305.1 L282.0 306.6 L278.7 308.1 L274.7 309.6 L269.9 311.0 L264.6 312.4 L259.0 313.8 L253.1 315.2 L247.1 316.6 L241.2 317.9 L235.5 319.3 L230.2 320.7 L225.5 322.2 L221.4 323.6 L218.1 325.1 L215.6 326.6 L214.1 328.1 L213.6 329.7 L212.3 368.7 L212.9 367.1 L214.4 365.6 L216.8 364.1 L220.1 362.6 L224.2 361.2 L228.9 359.7 L234.2 358.3 L239.9 356.9 L245.8 355.5 L251.8 354.2 L257.7 352.8 L263.4 351.4 L268.6 350.0 L273.4 348.5 L277.5 347.1 L280.8 345.6 L283.2 344.1 L284.7 342.6 L285.3 341.0Z" fill="url(#f3)" stroke="#4b55b5" stroke-width="1.15" stroke-linejoin="round"/><path d="M286.5 303.9 L285.9 305.4 L284.4 306.9 L282.0 308.4 L278.7 309.9 L274.6 311.4 L269.9 312.8 L264.6 314.2 L258.9 315.6 L253.0 317.0 L247.0 318.4 L241.1 319.7 L235.4 321.1 L230.1 322.5 L225.4 324.0 L221.3 325.4 L218.0 326.9 L215.6 328.4 L214.1 329.9 L213.5 331.5 M285.3 339.2 L284.8 340.8 L283.3 342.3 L280.8 343.8 L277.5 345.3 L273.4 346.7 L268.7 348.2 L263.4 349.6 L257.8 351.0 L251.8 352.4 L245.8 353.7 L239.9 355.1 L234.3 356.5 L229.0 357.9 L224.2 359.4 L220.2 360.8 L216.9 362.3 L214.4 363.8 L212.9 365.3 L212.4 366.9" fill="none" stroke="#f6f6f6" stroke-opacity="0.9" stroke-width="2.2"/><path d="M284.6 362.0 L284.0 363.6 L282.5 365.1 L280.1 366.6 L276.8 368.1 L272.7 369.5 L268.0 371.0 L262.7 372.4 L257.0 373.8 L251.1 375.1 L245.1 376.5 L239.2 377.9 L233.5 379.3 L228.2 380.7 L223.5 382.1 L219.4 383.6 L216.1 385.1 L213.7 386.6 L212.2 388.1 L211.6 389.7 L210.4 428.6 L210.9 427.1 L212.4 425.5 L214.8 424.0 L218.1 422.6 L222.2 421.1 L227.0 419.7 L232.2 418.3 L237.9 416.9 L243.8 415.5 L249.8 414.1 L255.7 412.7 L261.4 411.3 L266.7 409.9 L271.4 408.5 L275.5 407.1 L278.8 405.6 L281.2 404.1 L282.8 402.6 L283.3 401.0Z" fill="url(#f3)" stroke="#4b55b5" stroke-width="1.15" stroke-linejoin="round"/><path d="M284.5 363.8 L284.0 365.4 L282.5 366.9 L280.0 368.4 L276.7 369.9 L272.6 371.3 L267.9 372.8 L262.6 374.2 L257.0 375.6 L251.0 376.9 L245.0 378.3 L239.1 379.7 L233.5 381.1 L228.2 382.5 L223.4 383.9 L219.4 385.4 L216.1 386.9 L213.6 388.4 L212.1 389.9 L211.6 391.5 M283.4 399.2 L282.8 400.8 L281.3 402.3 L278.9 403.8 L275.6 405.3 L271.5 406.7 L266.7 408.1 L261.5 409.5 L255.8 410.9 L249.9 412.3 L243.9 413.7 L238.0 415.1 L232.3 416.5 L227.0 417.9 L222.3 419.3 L218.2 420.8 L214.9 422.2 L212.5 423.7 L211.0 425.3 L210.4 426.8" fill="none" stroke="#f6f6f6" stroke-opacity="0.9" stroke-width="2.2"/><linearGradient id="f4" gradientUnits="userSpaceOnUse" x1="218.1" y1="443.1" x2="285.9" y2="436.9"><stop offset="0" stop-color="#5e5e5e"/><stop offset="0.12" stop-color="#999"/><stop offset="0.35" stop-color="#cdcdcd"/><stop offset="0.6" stop-color="#e3e3e3"/><stop offset="0.85" stop-color="#d9d9d9"/><stop offset="0.95" stop-color="#a6a6a6"/><stop offset="1" stop-color="#666"/></linearGradient><linearGradient id="b4" gradientUnits="userSpaceOnUse" x1="218.1" y1="443.1" x2="285.9" y2="436.9"><stop offset="0" stop-color="#6a8286"/><stop offset="0.15" stop-color="#b8d6da"/><stop offset="0.45" stop-color="#d6eff3"/><stop offset="0.75" stop-color="#c8e4e8"/><stop offset="0.92" stop-color="#9ab8bc"/><stop offset="1" stop-color="#5a7276"/></linearGradient><path d="M219.4 423.4 L222.2 424.7 L225.7 425.9 L229.8 427.1 L234.4 428.2 L239.5 429.2 L244.8 430.3 L250.3 431.3 L255.9 432.3 L261.3 433.3 L266.5 434.4 L271.2 435.5 L275.5 436.6 L279.2 437.8 L282.2 439.0 L284.5 440.4 L285.9 441.8 L286.4 443.2 L290.0 482.1 L289.5 480.6 L288.1 479.2 L285.8 477.9 L282.8 476.6 L279.1 475.4 L274.8 474.3 L270.1 473.2 L264.9 472.2 L259.5 471.1 L253.9 470.1 L248.4 469.1 L243.1 468.1 L238.0 467.0 L233.4 465.9 L229.3 464.8 L225.8 463.5 L223.0 462.3Z" fill="url(#b4)" stroke="#4b55b5" stroke-width="1.15" stroke-linejoin="round"/><path d="M221.5 479.4 L222.1 480.9 L223.6 482.4 L226.0 483.7 L229.2 485.0 L233.2 486.2 L237.7 487.4 L242.8 488.5 L248.2 489.6 L253.9 490.7 L259.6 491.7 L265.3 492.8 L270.7 493.9 L275.8 495.0 L280.3 496.1 L284.3 497.4 L287.5 498.6 L289.9 500.0 L291.4 501.5 L292.0 503.0 L295.6 541.8 L295.0 540.3 L293.5 538.8 L291.1 537.5 L287.9 536.2 L283.9 535.0 L279.4 533.8 L274.3 532.7 L268.9 531.6 L263.2 530.5 L257.5 529.5 L251.8 528.4 L246.4 527.3 L241.3 526.2 L236.8 525.1 L232.8 523.8 L229.6 522.6 L227.2 521.2 L225.7 519.7 L225.1 518.2Z" fill="url(#b4)" stroke="#4b55b5" stroke-width="1.15" stroke-linejoin="round"/><path d="M227.0 539.1 L227.6 540.7 L229.2 542.1 L231.6 543.5 L234.8 544.8 L238.7 546.0 L243.3 547.1 L248.3 548.3 L253.8 549.3 L259.4 550.4 L265.1 551.5 L270.8 552.5 L276.2 553.6 L281.3 554.7 L285.9 555.9 L289.8 557.1 L293.0 558.4 L295.4 559.7 L296.9 561.2 L297.5 562.7 L301.1 601.6 L300.5 600.0 L299.0 598.6 L296.6 597.2 L293.4 595.9 L289.5 594.7 L284.9 593.5 L279.8 592.4 L274.4 591.3 L268.7 590.3 L263.0 589.2 L257.4 588.2 L251.9 587.1 L246.9 586.0 L242.3 584.8 L238.4 583.6 L235.2 582.3 L232.8 580.9 L231.2 579.5 L230.6 578.0Z" fill="url(#b4)" stroke="#4b55b5" stroke-width="1.15" stroke-linejoin="round"/><path d="M232.6 598.9 L233.2 600.4 L234.7 601.8 L237.1 603.2 L240.3 604.5 L244.2 605.7 L248.8 606.9 L253.9 608.0 L259.3 609.1 L264.9 610.1 L270.7 611.2 L276.3 612.3 L281.8 613.3 L286.8 614.5 L291.4 615.6 L295.3 616.8 L298.5 618.1 L300.9 619.5 L302.4 620.9 L303.1 622.5 L306.7 661.3 L306.0 659.8 L304.5 658.3 L302.1 657.0 L298.9 655.7 L295.0 654.5 L290.4 653.3 L285.4 652.2 L279.9 651.1 L274.3 650.0 L268.5 649.0 L262.9 647.9 L257.5 646.8 L252.4 645.7 L247.8 644.6 L243.9 643.3 L240.7 642.0 L238.3 640.7 L236.8 639.2 L236.2 637.7Z" fill="url(#b4)" stroke="#4b55b5" stroke-width="1.15" stroke-linejoin="round"/><path d="M238.1 658.6 L238.7 660.1 L240.2 661.6 L242.6 663.0 L245.8 664.2 L249.8 665.5 L254.3 666.6 L259.4 667.7 L264.8 668.8 L270.5 669.9 L276.2 670.9 L281.9 672.0 L287.3 673.1 L292.4 674.2 L296.9 675.4 L300.9 676.6 L304.1 677.9 L306.5 679.2 L308.0 680.7 L308.6 682.2 L312.2 721.0 L311.6 719.5 L310.1 718.1 L307.7 716.7 L304.5 715.4 L300.5 714.2 L296.0 713.0 L290.9 711.9 L285.5 710.8 L279.8 709.8 L274.1 708.7 L268.4 707.7 L263.0 706.6 L257.9 705.5 L253.4 704.3 L249.4 703.1 L246.2 701.8 L243.8 700.4 L242.3 699.0 L241.7 697.4Z" fill="url(#b4)" stroke="#4b55b5" stroke-width="1.15" stroke-linejoin="round"/><path d="M243.7 718.4 L244.3 719.9 L245.8 721.3 L248.2 722.7 L251.4 724.0 L255.3 725.2 L259.9 726.4 L264.9 727.5 L270.4 728.6 L276.0 729.6 L281.8 730.7 L287.4 731.7 L292.9 732.8 L297.9 733.9 L302.5 735.1 L306.4 736.3 L309.6 737.6 L312.0 739.0 L313.5 740.4 L314.1 742.0 L317.7 780.8 L317.1 779.3 L315.6 777.8 L313.2 776.5 L310.0 775.2 L306.1 773.9 L301.5 772.8 L296.5 771.7 L291.0 770.6 L285.4 769.5 L279.6 768.5 L274.0 767.4 L268.5 766.3 L263.5 765.2 L258.9 764.0 L255.0 762.8 L251.8 761.5 L249.4 760.2 L247.9 758.7 L247.3 757.2Z" fill="url(#b4)" stroke="#4b55b5" stroke-width="1.15" stroke-linejoin="round"/><path d="M249.2 778.1 L249.8 779.6 L251.3 781.1 L253.7 782.4 L256.9 783.7 L260.8 785.0 L265.4 786.1 L270.5 787.2 L275.9 788.3 L281.6 789.4 L287.3 790.4 L293.0 791.5 L298.4 792.6 L303.5 793.7 L308.0 794.9 L311.9 796.1 L315.2 797.4 L317.5 798.7 L319.1 800.2 L319.7 801.7 L323.3 840.5 L322.7 839.0 L321.1 837.6 L318.8 836.2 L315.5 834.9 L311.6 833.7 L307.1 832.5 L302.0 831.4 L296.6 830.3 L290.9 829.3 L285.2 828.2 L279.5 827.1 L274.1 826.1 L269.0 824.9 L264.4 823.8 L260.5 822.6 L257.3 821.3 L254.9 819.9 L253.4 818.5 L252.8 816.9Z" fill="url(#b4)" stroke="#4b55b5" stroke-width="1.15" stroke-linejoin="round"/><path d="M286.4 443.2 L286.1 444.9 L284.9 446.6 L282.8 448.3 L279.9 450.2 L276.2 452.1 L272.0 454.1 L267.2 456.1 L262.1 458.2 L256.7 460.3 L251.3 462.4 L245.9 464.4 L240.7 466.5 L236.0 468.5 L231.7 470.5 L228.1 472.4 L225.1 474.3 L223.0 476.1 L221.8 477.8 L221.5 479.4 L225.1 518.2 L225.4 516.6 L226.6 514.9 L228.7 513.1 L231.7 511.3 L235.3 509.3 L239.6 507.4 L244.3 505.3 L249.5 503.3 L254.9 501.2 L260.3 499.1 L265.7 497.0 L270.8 495.0 L275.6 492.9 L279.8 490.9 L283.5 489.0 L286.4 487.2 L288.5 485.4 L289.7 483.7 L290.0 482.1Z" fill="url(#f4)" stroke="#4b55b5" stroke-width="1.15" stroke-linejoin="round"/><path d="M286.6 445.0 L286.3 446.6 L285.1 448.3 L283.0 450.1 L280.1 452.0 L276.4 453.9 L272.1 455.9 L267.4 457.9 L262.2 460.0 L256.9 462.1 L251.4 464.1 L246.0 466.2 L240.9 468.3 L236.1 470.3 L231.9 472.3 L228.2 474.2 L225.3 476.1 L223.2 477.9 L222.0 479.6 L221.7 481.2 M289.9 480.3 L289.6 481.9 L288.3 483.6 L286.2 485.4 L283.3 487.2 L279.7 489.2 L275.4 491.1 L270.6 493.2 L265.5 495.2 L260.1 497.3 L254.7 499.4 L249.3 501.5 L244.2 503.5 L239.4 505.6 L235.1 507.6 L231.5 509.5 L228.6 511.3 L226.5 513.1 L225.3 514.8 L224.9 516.4" fill="none" stroke="#f6f6f6" stroke-opacity="0.9" stroke-width="2.2"/><path d="M292.0 503.0 L291.7 504.6 L290.4 506.3 L288.3 508.1 L285.4 509.9 L281.8 511.9 L277.5 513.8 L272.7 515.9 L267.6 517.9 L262.2 520.0 L256.8 522.1 L251.4 524.2 L246.3 526.2 L241.5 528.3 L237.2 530.3 L233.6 532.2 L230.7 534.0 L228.6 535.8 L227.4 537.5 L227.0 539.1 L230.6 578.0 L231.0 576.3 L232.2 574.6 L234.3 572.9 L237.2 571.0 L240.8 569.1 L245.1 567.1 L249.9 565.1 L255.0 563.0 L260.4 560.9 L265.8 558.8 L271.2 556.8 L276.3 554.7 L281.1 552.7 L285.4 550.7 L289.0 548.8 L291.9 546.9 L294.0 545.1 L295.3 543.4 L295.6 541.8Z" fill="url(#f4)" stroke="#4b55b5" stroke-width="1.15" stroke-linejoin="round"/><path d="M292.1 504.8 L291.8 506.4 L290.6 508.1 L288.5 509.9 L285.6 511.7 L282.0 513.6 L277.7 515.6 L272.9 517.7 L267.8 519.7 L262.4 521.8 L257.0 523.9 L251.6 526.0 L246.4 528.0 L241.7 530.1 L237.4 532.0 L233.8 534.0 L230.9 535.8 L228.8 537.6 L227.5 539.3 L227.2 540.9 M295.4 540.0 L295.1 541.6 L293.9 543.3 L291.8 545.1 L288.9 547.0 L285.2 548.9 L281.0 550.9 L276.2 552.9 L271.0 555.0 L265.7 557.1 L260.2 559.1 L254.9 561.2 L249.7 563.3 L244.9 565.3 L240.7 567.3 L237.0 569.2 L234.1 571.1 L232.0 572.9 L230.8 574.6 L230.5 576.2" fill="none" stroke="#f6f6f6" stroke-opacity="0.9" stroke-width="2.2"/><path d="M297.5 562.7 L297.2 564.3 L296.0 566.0 L293.9 567.8 L291.0 569.7 L287.3 571.6 L283.1 573.6 L278.3 575.6 L273.1 577.7 L267.8 579.8 L262.3 581.8 L257.0 583.9 L251.8 586.0 L247.0 588.0 L242.8 590.0 L239.1 591.9 L236.2 593.8 L234.1 595.6 L232.9 597.3 L232.6 598.9 L236.2 637.7 L236.5 636.1 L237.7 634.4 L239.8 632.6 L242.7 630.8 L246.4 628.8 L250.6 626.9 L255.4 624.8 L260.6 622.8 L265.9 620.7 L271.4 618.6 L276.7 616.5 L281.9 614.4 L286.7 612.4 L290.9 610.4 L294.6 608.5 L297.5 606.7 L299.6 604.9 L300.8 603.2 L301.1 601.6Z" fill="url(#f4)" stroke="#4b55b5" stroke-width="1.15" stroke-linejoin="round"/><path d="M297.7 564.5 L297.4 566.1 L296.1 567.8 L294.0 569.6 L291.1 571.5 L287.5 573.4 L283.2 575.4 L278.5 577.4 L273.3 579.5 L267.9 581.5 L262.5 583.6 L257.1 585.7 L252.0 587.8 L247.2 589.8 L242.9 591.8 L239.3 593.7 L236.4 595.6 L234.3 597.3 L233.1 599.0 L232.7 600.7 M301.0 599.8 L300.6 601.4 L299.4 603.1 L297.3 604.9 L294.4 606.7 L290.8 608.6 L286.5 610.6 L281.7 612.6 L276.6 614.7 L271.2 616.8 L265.8 618.9 L260.4 621.0 L255.2 623.0 L250.5 625.1 L246.2 627.0 L242.6 629.0 L239.7 630.8 L237.6 632.6 L236.3 634.3 L236.0 635.9" fill="none" stroke="#f6f6f6" stroke-opacity="0.9" stroke-width="2.2"/><path d="M303.1 622.5 L302.7 624.1 L301.5 625.8 L299.4 627.6 L296.5 629.4 L292.9 631.3 L288.6 633.3 L283.8 635.4 L278.7 637.4 L273.3 639.5 L267.9 641.6 L262.5 643.7 L257.4 645.7 L252.6 647.8 L248.3 649.7 L244.7 651.7 L241.8 653.5 L239.7 655.3 L238.4 657.0 L238.1 658.6 L241.7 697.4 L242.0 695.8 L243.3 694.1 L245.4 692.4 L248.3 690.5 L251.9 688.6 L256.2 686.6 L261.0 684.6 L266.1 682.5 L271.5 680.4 L276.9 678.3 L282.3 676.2 L287.4 674.2 L292.2 672.2 L296.5 670.2 L300.1 668.3 L303.0 666.4 L305.1 664.6 L306.3 662.9 L306.7 661.3Z" fill="url(#f4)" stroke="#4b55b5" stroke-width="1.15" stroke-linejoin="round"/><path d="M303.2 624.3 L302.9 625.9 L301.7 627.6 L299.6 629.4 L296.7 631.2 L293.0 633.1 L288.8 635.1 L284.0 637.1 L278.8 639.2 L273.5 641.3 L268.0 643.4 L262.7 645.5 L257.5 647.5 L252.7 649.6 L248.5 651.5 L244.8 653.5 L241.9 655.3 L239.8 657.1 L238.6 658.8 L238.3 660.4 M306.5 659.5 L306.2 661.1 L304.9 662.8 L302.8 664.6 L299.9 666.5 L296.3 668.4 L292.0 670.4 L287.3 672.4 L282.1 674.5 L276.7 676.5 L271.3 678.6 L265.9 680.7 L260.8 682.8 L256.0 684.8 L251.7 686.8 L248.1 688.7 L245.2 690.6 L243.1 692.3 L241.9 694.0 L241.5 695.7" fill="none" stroke="#f6f6f6" stroke-opacity="0.9" stroke-width="2.2"/><path d="M308.6 682.2 L308.3 683.8 L307.1 685.5 L305.0 687.3 L302.0 689.2 L298.4 691.1 L294.1 693.1 L289.4 695.1 L284.2 697.2 L278.8 699.2 L273.4 701.3 L268.0 703.4 L262.9 705.5 L258.1 707.5 L253.9 709.5 L250.2 711.4 L247.3 713.3 L245.2 715.0 L244.0 716.7 L243.7 718.4 L247.3 757.2 L247.6 755.6 L248.8 753.9 L250.9 752.1 L253.8 750.2 L257.4 748.3 L261.7 746.3 L266.5 744.3 L271.6 742.2 L277.0 740.2 L282.4 738.1 L287.8 736.0 L293.0 733.9 L297.7 731.9 L302.0 729.9 L305.6 728.0 L308.6 726.1 L310.7 724.4 L311.9 722.7 L312.2 721.0Z" fill="url(#f4)" stroke="#4b55b5" stroke-width="1.15" stroke-linejoin="round"/><path d="M308.8 684.0 L308.4 685.6 L307.2 687.3 L305.1 689.1 L302.2 691.0 L298.6 692.9 L294.3 694.9 L289.5 696.9 L284.4 698.9 L279.0 701.0 L273.6 703.1 L268.2 705.2 L263.1 707.3 L258.3 709.3 L254.0 711.3 L250.4 713.2 L247.5 715.1 L245.4 716.8 L244.1 718.5 L243.8 720.2 M312.0 719.3 L311.7 720.9 L310.5 722.6 L308.4 724.3 L305.5 726.2 L301.8 728.1 L297.6 730.1 L292.8 732.1 L287.6 734.2 L282.3 736.3 L276.8 738.4 L271.5 740.5 L266.3 742.5 L261.6 744.5 L257.3 746.5 L253.6 748.5 L250.7 750.3 L248.6 752.1 L247.4 753.8 L247.1 755.4" fill="none" stroke="#f6f6f6" stroke-opacity="0.9" stroke-width="2.2"/><path d="M314.1 742.0 L313.8 743.6 L312.6 745.3 L310.5 747.1 L307.6 748.9 L303.9 750.8 L299.7 752.8 L294.9 754.8 L289.8 756.9 L284.4 759.0 L278.9 761.1 L273.6 763.2 L268.4 765.2 L263.7 767.2 L259.4 769.2 L255.7 771.2 L252.8 773.0 L250.7 774.8 L249.5 776.5 L249.2 778.1 L252.8 816.9 L253.1 815.3 L254.3 813.6 L256.4 811.8 L259.3 810.0 L263.0 808.1 L267.3 806.1 L272.0 804.1 L277.2 802.0 L282.5 799.9 L288.0 797.8 L293.4 795.7 L298.5 793.7 L303.3 791.6 L307.5 789.7 L311.2 787.7 L314.1 785.9 L316.2 784.1 L317.4 782.4 L317.7 780.8Z" fill="url(#f4)" stroke="#4b55b5" stroke-width="1.15" stroke-linejoin="round"/><path d="M314.3 743.7 L314.0 745.4 L312.8 747.1 L310.7 748.8 L307.7 750.7 L304.1 752.6 L299.8 754.6 L295.1 756.6 L289.9 758.7 L284.6 760.8 L279.1 762.9 L273.7 765.0 L268.6 767.0 L263.8 769.0 L259.6 771.0 L255.9 772.9 L253.0 774.8 L250.9 776.6 L249.7 778.3 L249.4 779.9 M317.6 779.0 L317.2 780.6 L316.0 782.3 L313.9 784.1 L311.0 785.9 L307.4 787.9 L303.1 789.9 L298.3 791.9 L293.2 793.9 L287.8 796.0 L282.4 798.1 L277.0 800.2 L271.9 802.3 L267.1 804.3 L262.8 806.3 L259.2 808.2 L256.3 810.0 L254.2 811.8 L252.9 813.5 L252.6 815.1" fill="none" stroke="#f6f6f6" stroke-opacity="0.9" stroke-width="2.2"/><path d="M319.7 801.7 L319.4 803.3 L318.2 804.9 L316.3 806.6 L313.6 808.4 L310.2 810.2 L306.2 812.1 L301.7 814.1 L296.8 816.0 L291.7 818.0 L286.5 820.1 L281.3 822.1 L276.2 824.1 L271.4 826.0 L267.0 828.0 L263.2 829.8 L260.0 831.7 L257.5 833.4 L261.1 872.3 L263.6 870.5 L266.8 868.7 L270.6 866.8 L275.0 864.9 L279.8 862.9 L284.9 860.9 L290.1 858.9 L295.3 856.9 L300.4 854.9 L305.3 852.9 L309.8 850.9 L313.8 849.0 L317.2 847.2 L319.9 845.4 L321.8 843.7 L323.0 842.1 L323.3 840.5Z" fill="url(#f4)" stroke="#4b55b5" stroke-width="1.15" stroke-linejoin="round"/><path d="M319.8 803.5 L319.5 805.0 L318.4 806.7 L316.5 808.4 L313.8 810.2 L310.4 812.0 L306.4 813.9 L301.9 815.8 L297.0 817.8 L291.9 819.8 L286.6 821.8 L281.4 823.9 L276.4 825.9 L271.6 827.8 L267.2 829.8 L263.4 831.6 L260.2 833.5 L257.6 835.2 M323.1 838.7 L322.8 840.3 L321.7 841.9 L319.7 843.6 L317.0 845.4 L313.6 847.3 L309.6 849.2 L305.1 851.1 L300.3 853.1 L295.1 855.1 L289.9 857.1 L284.7 859.1 L279.6 861.1 L274.8 863.1 L270.5 865.0 L266.6 866.9 L263.4 868.7 L260.9 870.5" fill="none" stroke="#f6f6f6" stroke-opacity="0.9" stroke-width="2.2"/><linearGradient id="f5" gradientUnits="userSpaceOnUse" x1="191.0" y1="441.5" x2="261.0" y2="438.5"><stop offset="0" stop-color="#5e5e5e"/><stop offset="0.12" stop-color="#999"/><stop offset="0.35" stop-color="#cdcdcd"/><stop offset="0.6" stop-color="#e3e3e3"/><stop offset="0.85" stop-color="#d9d9d9"/><stop offset="0.95" stop-color="#a6a6a6"/><stop offset="1" stop-color="#666"/></linearGradient><linearGradient id="b5" gradientUnits="userSpaceOnUse" x1="191.0" y1="441.5" x2="261.0" y2="438.5"><stop offset="0" stop-color="#6a8286"/><stop offset="0.15" stop-color="#b8d6da"/><stop offset="0.45" stop-color="#d6eff3"/><stop offset="0.75" stop-color="#c8e4e8"/><stop offset="0.92" stop-color="#9ab8bc"/><stop offset="1" stop-color="#5a7276"/></linearGradient><path d="M190.6 432.3 L191.2 433.8 L192.7 435.3 L195.0 436.8 L198.3 438.3 L202.3 439.7 L206.9 441.0 L212.0 442.4 L217.6 443.7 L223.3 445.1 L229.2 446.4 L234.9 447.7 L240.5 449.0 L245.6 450.4 L250.2 451.8 L254.2 453.2 L257.5 454.6 L259.8 456.1 L261.3 457.6 L261.9 459.2 L263.6 498.1 L263.0 496.6 L261.5 495.1 L259.2 493.6 L255.9 492.1 L252.0 490.7 L247.3 489.4 L242.2 488.0 L236.6 486.7 L230.9 485.3 L225.0 484.0 L219.3 482.7 L213.7 481.4 L208.6 480.0 L204.0 478.6 L200.0 477.2 L196.8 475.8 L194.4 474.3 L192.9 472.8 L192.3 471.2Z" fill="url(#b5)" stroke="#4b55b5" stroke-width="1.15" stroke-linejoin="round"/><path d="M193.3 492.2 L193.8 493.8 L195.3 495.3 L197.7 496.8 L200.9 498.2 L204.9 499.6 L209.5 501.0 L214.7 502.3 L220.2 503.7 L226.0 505.0 L231.8 506.3 L237.6 507.7 L243.1 509.0 L248.2 510.3 L252.9 511.7 L256.9 513.1 L260.1 514.6 L262.5 516.0 L264.0 517.6 L264.5 519.1 L266.2 558.1 L265.7 556.5 L264.2 555.0 L261.8 553.5 L258.6 552.1 L254.6 550.7 L250.0 549.3 L244.8 548.0 L239.3 546.6 L233.5 545.3 L227.7 544.0 L221.9 542.6 L216.4 541.3 L211.2 539.9 L206.6 538.6 L202.6 537.2 L199.4 535.7 L197.0 534.2 L195.5 532.7 L195.0 531.2Z" fill="url(#b5)" stroke="#4b55b5" stroke-width="1.15" stroke-linejoin="round"/><path d="M195.9 552.2 L196.4 553.7 L197.9 555.2 L200.3 556.7 L203.5 558.1 L207.5 559.5 L212.1 560.9 L217.3 562.3 L222.8 563.6 L228.6 564.9 L234.4 566.3 L240.2 567.6 L245.7 568.9 L250.9 570.3 L255.5 571.7 L259.5 573.1 L262.7 574.5 L265.1 576.0 L266.6 577.5 L267.1 579.1 L268.8 618.0 L268.3 616.5 L266.8 614.9 L264.4 613.5 L261.2 612.0 L257.2 610.6 L252.6 609.2 L247.4 607.9 L241.9 606.6 L236.1 605.2 L230.3 603.9 L224.5 602.6 L219.0 601.2 L213.8 599.9 L209.2 598.5 L205.2 597.1 L202.0 595.7 L199.6 594.2 L198.1 592.7 L197.6 591.1Z" fill="url(#b5)" stroke="#4b55b5" stroke-width="1.15" stroke-linejoin="round"/><path d="M198.5 612.1 L199.1 613.7 L200.5 615.2 L202.9 616.6 L206.2 618.1 L210.1 619.5 L214.8 620.9 L219.9 622.2 L225.4 623.6 L231.2 624.9 L237.1 626.2 L242.8 627.5 L248.4 628.9 L253.5 630.2 L258.1 631.6 L262.1 633.0 L265.3 634.5 L267.7 635.9 L269.2 637.4 L269.8 639.0 L271.5 678.0 L270.9 676.4 L269.4 674.9 L267.0 673.4 L263.8 672.0 L259.8 670.6 L255.2 669.2 L250.1 667.8 L244.5 666.5 L238.8 665.2 L232.9 663.8 L227.2 662.5 L221.6 661.2 L216.5 659.8 L211.8 658.4 L207.9 657.0 L204.6 655.6 L202.3 654.1 L200.8 652.6 L200.2 651.1Z" fill="url(#b5)" stroke="#4b55b5" stroke-width="1.15" stroke-linejoin="round"/><path d="M201.1 672.0 L201.7 673.6 L203.2 675.1 L205.6 676.6 L208.8 678.0 L212.8 679.4 L217.4 680.8 L222.5 682.2 L228.1 683.5 L233.8 684.8 L239.7 686.2 L245.4 687.5 L251.0 688.8 L256.1 690.2 L260.8 691.5 L264.7 693.0 L268.0 694.4 L270.4 695.9 L271.8 697.4 L272.4 698.9 L274.1 737.9 L273.5 736.3 L272.1 734.8 L269.7 733.4 L266.4 731.9 L262.5 730.5 L257.8 729.1 L252.7 727.8 L247.2 726.4 L241.4 725.1 L235.5 723.8 L229.8 722.5 L224.3 721.1 L219.1 719.8 L214.5 718.4 L210.5 717.0 L207.3 715.5 L204.9 714.1 L203.4 712.6 L202.8 711.0Z" fill="url(#b5)" stroke="#4b55b5" stroke-width="1.15" stroke-linejoin="round"/><path d="M203.8 732.0 L204.3 733.5 L205.8 735.1 L208.2 736.5 L211.4 738.0 L215.4 739.4 L220.0 740.7 L225.2 742.1 L230.7 743.4 L236.5 744.8 L242.3 746.1 L248.1 747.4 L253.6 748.8 L258.8 750.1 L263.4 751.5 L267.4 752.9 L270.6 754.3 L273.0 755.8 L274.5 757.3 L275.0 758.9 L276.7 797.8 L276.2 796.3 L274.7 794.8 L272.3 793.3 L269.1 791.9 L265.1 790.5 L260.5 789.1 L255.3 787.7 L249.8 786.4 L244.0 785.1 L238.2 783.7 L232.4 782.4 L226.9 781.1 L221.7 779.7 L217.1 778.3 L213.1 776.9 L209.9 775.5 L207.5 774.0 L206.0 772.5 L205.5 770.9Z" fill="url(#b5)" stroke="#4b55b5" stroke-width="1.15" stroke-linejoin="round"/><path d="M208.4 421.3 L203.3 423.2 L198.9 425.1 L195.3 426.9 L192.7 428.8 L191.1 430.5 L190.6 432.3 L192.3 471.2 L192.8 469.5 L194.4 467.7 L197.0 465.9 L200.6 464.0 L205.0 462.1 L210.1 460.2Z" fill="url(#f5)" stroke="#4b55b5" stroke-width="1.15" stroke-linejoin="round"/><path d="M208.5 423.1 L203.4 425.0 L198.9 426.9 L195.4 428.7 L192.8 430.6 L191.2 432.3 L190.7 434.1 M210.0 458.4 L204.9 460.3 L200.5 462.2 L196.9 464.1 L194.3 465.9 L192.7 467.7 L192.3 469.4" fill="none" stroke="#f6f6f6" stroke-opacity="0.9" stroke-width="2.2"/><path d="M261.9 459.2 L261.5 460.8 L260.1 462.4 L257.9 464.1 L254.8 465.8 L250.9 467.6 L246.4 469.3 L241.4 471.1 L236.0 472.9 L230.4 474.8 L224.7 476.6 L219.1 478.4 L213.7 480.3 L208.7 482.1 L204.2 483.8 L200.4 485.6 L197.3 487.3 L195.0 489.0 L193.7 490.6 L193.3 492.2 L195.0 531.2 L195.4 529.6 L196.7 527.9 L199.0 526.3 L202.1 524.5 L205.9 522.8 L210.4 521.0 L215.4 519.2 L220.8 517.4 L226.4 515.6 L232.1 513.7 L237.8 511.9 L243.1 510.1 L248.2 508.3 L252.6 506.5 L256.5 504.8 L259.6 503.1 L261.8 501.4 L263.2 499.7 L263.6 498.1Z" fill="url(#f5)" stroke="#4b55b5" stroke-width="1.15" stroke-linejoin="round"/><path d="M262.0 461.0 L261.5 462.6 L260.2 464.2 L257.9 465.9 L254.9 467.6 L251.0 469.4 L246.5 471.1 L241.5 472.9 L236.1 474.7 L230.5 476.6 L224.8 478.4 L219.2 480.2 L213.8 482.0 L208.8 483.8 L204.3 485.6 L200.4 487.4 L197.3 489.1 L195.1 490.8 L193.7 492.4 L193.3 494.0 M263.5 496.3 L263.1 497.9 L261.7 499.6 L259.5 501.3 L256.4 503.0 L252.6 504.7 L248.1 506.5 L243.1 508.3 L237.7 510.1 L232.0 511.9 L226.3 513.8 L220.7 515.6 L215.3 517.4 L210.3 519.2 L205.8 521.0 L202.0 522.7 L198.9 524.5 L196.6 526.1 L195.3 527.8 L194.9 529.4" fill="none" stroke="#f6f6f6" stroke-opacity="0.9" stroke-width="2.2"/><path d="M264.5 519.1 L264.1 520.7 L262.7 522.4 L260.5 524.0 L257.4 525.7 L253.6 527.5 L249.1 529.3 L244.1 531.1 L238.7 532.9 L233.0 534.7 L227.3 536.5 L221.7 538.4 L216.3 540.2 L211.3 542.0 L206.8 543.8 L203.0 545.5 L199.9 547.2 L197.6 548.9 L196.3 550.6 L195.9 552.2 L197.6 591.1 L198.0 589.5 L199.3 587.9 L201.6 586.2 L204.7 584.5 L208.5 582.7 L213.0 581.0 L218.0 579.2 L223.4 577.3 L229.0 575.5 L234.8 573.7 L240.4 571.9 L245.8 570.0 L250.8 568.2 L255.3 566.5 L259.1 564.7 L262.2 563.0 L264.5 561.3 L265.8 559.7 L266.2 558.1Z" fill="url(#f5)" stroke="#4b55b5" stroke-width="1.15" stroke-linejoin="round"/><path d="M264.6 520.9 L264.2 522.5 L262.8 524.2 L260.6 525.8 L257.5 527.5 L253.6 529.3 L249.2 531.1 L244.1 532.9 L238.8 534.7 L233.1 536.5 L227.4 538.3 L221.8 540.2 L216.4 542.0 L211.4 543.8 L206.9 545.6 L203.1 547.3 L200.0 549.0 L197.7 550.7 L196.4 552.4 L196.0 554.0 M266.1 556.3 L265.7 557.9 L264.4 559.5 L262.1 561.2 L259.0 562.9 L255.2 564.7 L250.7 566.4 L245.7 568.2 L240.3 570.1 L234.7 571.9 L229.0 573.7 L223.3 575.5 L217.9 577.4 L212.9 579.2 L208.5 580.9 L204.6 582.7 L201.5 584.4 L199.3 586.1 L197.9 587.7 L197.5 589.3" fill="none" stroke="#f6f6f6" stroke-opacity="0.9" stroke-width="2.2"/><path d="M267.1 579.1 L266.7 580.7 L265.4 582.3 L263.1 584.0 L260.0 585.7 L256.2 587.4 L251.7 589.2 L246.7 591.0 L241.3 592.8 L235.7 594.7 L230.0 596.5 L224.3 598.3 L218.9 600.1 L213.9 601.9 L209.4 603.7 L205.6 605.5 L202.5 607.2 L200.3 608.9 L198.9 610.5 L198.5 612.1 L200.2 651.1 L200.6 649.5 L202.0 647.8 L204.2 646.1 L207.3 644.4 L211.2 642.7 L215.6 640.9 L220.7 639.1 L226.0 637.3 L231.7 635.5 L237.4 633.6 L243.0 631.8 L248.4 630.0 L253.4 628.2 L257.9 626.4 L261.7 624.7 L264.8 622.9 L267.1 621.3 L268.4 619.6 L268.8 618.0Z" fill="url(#f5)" stroke="#4b55b5" stroke-width="1.15" stroke-linejoin="round"/><path d="M267.2 580.9 L266.8 582.5 L265.5 584.1 L263.2 585.8 L260.1 587.5 L256.3 589.2 L251.8 591.0 L246.8 592.8 L241.4 594.6 L235.8 596.5 L230.0 598.3 L224.4 600.1 L219.0 601.9 L214.0 603.7 L209.5 605.5 L205.7 607.3 L202.6 609.0 L200.3 610.7 L199.0 612.3 L198.6 613.9 M268.8 616.2 L268.4 617.8 L267.0 619.5 L264.8 621.1 L261.7 622.9 L257.8 624.6 L253.3 626.4 L248.3 628.2 L242.9 630.0 L237.3 631.8 L231.6 633.7 L226.0 635.5 L220.6 637.3 L215.6 639.1 L211.1 640.9 L207.2 642.6 L204.1 644.3 L201.9 646.0 L200.5 647.7 L200.1 649.3" fill="none" stroke="#f6f6f6" stroke-opacity="0.9" stroke-width="2.2"/><path d="M269.8 639.0 L269.3 640.6 L268.0 642.2 L265.7 643.9 L262.7 645.6 L258.8 647.4 L254.3 649.2 L249.3 651.0 L243.9 652.8 L238.3 654.6 L232.6 656.4 L227.0 658.3 L221.6 660.1 L216.6 661.9 L212.1 663.7 L208.2 665.4 L205.1 667.1 L202.9 668.8 L201.5 670.4 L201.1 672.0 L202.8 711.0 L203.3 709.4 L204.6 707.8 L206.9 706.1 L209.9 704.4 L213.8 702.6 L218.3 700.8 L223.3 699.0 L228.7 697.2 L234.3 695.4 L240.0 693.6 L245.6 691.7 L251.0 689.9 L256.0 688.1 L260.5 686.3 L264.4 684.6 L267.5 682.9 L269.7 681.2 L271.1 679.6 L271.5 678.0Z" fill="url(#f5)" stroke="#4b55b5" stroke-width="1.15" stroke-linejoin="round"/><path d="M269.8 640.8 L269.4 642.4 L268.1 644.0 L265.8 645.7 L262.7 647.4 L258.9 649.2 L254.4 651.0 L249.4 652.8 L244.0 654.6 L238.4 656.4 L232.7 658.2 L227.0 660.1 L221.7 661.9 L216.6 663.7 L212.2 665.5 L208.3 667.2 L205.2 668.9 L203.0 670.6 L201.6 672.2 L201.2 673.8 M271.4 676.2 L271.0 677.8 L269.6 679.4 L267.4 681.1 L264.3 682.8 L260.4 684.5 L256.0 686.3 L250.9 688.1 L245.6 689.9 L239.9 691.8 L234.2 693.6 L228.6 695.4 L223.2 697.2 L218.2 699.0 L213.7 700.8 L209.9 702.6 L206.8 704.3 L204.5 706.0 L203.2 707.6 L202.8 709.2" fill="none" stroke="#f6f6f6" stroke-opacity="0.9" stroke-width="2.2"/><path d="M272.4 698.9 L272.0 700.5 L270.6 702.2 L268.4 703.9 L265.3 705.6 L261.4 707.3 L257.0 709.1 L251.9 710.9 L246.6 712.7 L240.9 714.5 L235.2 716.4 L229.6 718.2 L224.2 720.0 L219.2 721.8 L214.7 723.6 L210.9 725.3 L207.8 727.1 L205.5 728.7 L204.2 730.4 L203.8 732.0 L205.5 770.9 L205.9 769.3 L207.2 767.7 L209.5 766.0 L212.6 764.3 L216.4 762.6 L220.9 760.8 L225.9 759.0 L231.3 757.2 L236.9 755.3 L242.6 753.5 L248.3 751.7 L253.7 749.9 L258.7 748.1 L263.2 746.3 L267.0 744.5 L270.1 742.8 L272.3 741.1 L273.7 739.5 L274.1 737.9Z" fill="url(#f5)" stroke="#4b55b5" stroke-width="1.15" stroke-linejoin="round"/><path d="M272.5 700.7 L272.1 702.3 L270.7 704.0 L268.5 705.7 L265.4 707.4 L261.5 709.1 L257.0 710.9 L252.0 712.7 L246.6 714.5 L241.0 716.3 L235.3 718.2 L229.7 720.0 L224.3 721.8 L219.3 723.6 L214.8 725.4 L210.9 727.1 L207.9 728.9 L205.6 730.5 L204.3 732.2 L203.8 733.8 M274.0 736.1 L273.6 737.7 L272.3 739.3 L270.0 741.0 L266.9 742.7 L263.1 744.5 L258.6 746.3 L253.6 748.1 L248.2 749.9 L242.6 751.7 L236.9 753.5 L231.2 755.4 L225.8 757.2 L220.8 759.0 L216.3 760.8 L212.5 762.5 L209.4 764.2 L207.2 765.9 L205.8 767.5 L205.4 769.1" fill="none" stroke="#f6f6f6" stroke-opacity="0.9" stroke-width="2.2"/><path d="M275.0 758.9 L274.6 760.5 L273.3 762.1 L271.0 763.8 L268.0 765.5 L264.2 767.2 L259.7 769.0 L254.8 770.8 L249.4 772.6 L243.8 774.4 L238.2 776.2 L232.6 778.0 L227.2 779.8 L222.2 781.6 L217.7 783.4 L213.8 785.1 L210.6 786.9 L212.3 825.8 L215.5 824.1 L219.4 822.4 L223.9 820.6 L228.9 818.8 L234.3 817.0 L239.9 815.2 L245.5 813.4 L251.1 811.5 L256.5 809.7 L261.4 807.9 L265.9 806.2 L269.7 804.4 L272.8 802.7 L275.0 801.1 L276.3 799.4 L276.7 797.8Z" fill="url(#f5)" stroke="#4b55b5" stroke-width="1.15" stroke-linejoin="round"/><path d="M275.1 760.7 L274.7 762.3 L273.4 763.9 L271.1 765.6 L268.1 767.3 L264.3 769.0 L259.8 770.8 L254.9 772.6 L249.5 774.4 L243.9 776.2 L238.2 778.0 L232.6 779.8 L227.3 781.6 L222.2 783.4 L217.7 785.2 L213.9 786.9 L210.7 788.7 M276.6 796.0 L276.2 797.6 L274.9 799.3 L272.7 800.9 L269.6 802.6 L265.8 804.4 L261.4 806.1 L256.4 807.9 L251.1 809.7 L245.5 811.6 L239.8 813.4 L234.2 815.2 L228.8 817.0 L223.8 818.8 L219.3 820.6 L215.4 822.3 L212.3 824.0" fill="none" stroke="#f6f6f6" stroke-opacity="0.9" stroke-width="2.2"/><linearGradient id="f6" gradientUnits="userSpaceOnUse" x1="458.0" y1="211.7" x2="524.0" y2="212.3"><stop offset="0" stop-color="#5e5e5e"/><stop offset="0.12" stop-color="#999"/><stop offset="0.35" stop-color="#cdcdcd"/><stop offset="0.6" stop-color="#e3e3e3"/><stop offset="0.85" stop-color="#d9d9d9"/><stop offset="0.95" stop-color="#a6a6a6"/><stop offset="1" stop-color="#666"/></linearGradient><linearGradient id="b6" gradientUnits="userSpaceOnUse" x1="458.0" y1="211.7" x2="524.0" y2="212.3"><stop offset="0" stop-color="#6a8286"/><stop offset="0.15" stop-color="#b8d6da"/><stop offset="0.45" stop-color="#d6eff3"/><stop offset="0.75" stop-color="#c8e4e8"/><stop offset="0.92" stop-color="#9ab8bc"/><stop offset="1" stop-color="#5a7276"/></linearGradient><path d="M458.2 192.9 L458.6 194.4 L459.9 196.0 L462.1 197.6 L465.1 199.2 L468.8 200.9 L473.0 202.5 L477.8 204.1 L483.0 205.7 L488.3 207.4 L493.8 209.0 L499.1 210.6 L504.3 212.2 L509.0 213.9 L513.3 215.5 L517.0 217.1 L520.0 218.7 L522.1 220.3 L523.5 221.9 L523.9 223.5 L523.5 262.5 L523.1 260.9 L521.8 259.3 L519.6 257.7 L516.6 256.1 L513.0 254.5 L508.7 252.9 L503.9 251.2 L498.7 249.6 L493.4 248.0 L488.0 246.4 L482.6 244.7 L477.5 243.1 L472.7 241.5 L468.4 239.9 L464.7 238.2 L461.7 236.6 L459.6 235.0 L458.2 233.4 L457.8 231.9Z" fill="url(#b6)" stroke="#4b55b5" stroke-width="1.15" stroke-linejoin="round"/><path d="M457.6 252.9 L458.0 254.4 L459.4 256.0 L461.5 257.6 L464.5 259.2 L468.2 260.9 L472.5 262.5 L477.3 264.1 L482.4 265.7 L487.8 267.4 L493.2 269.0 L498.5 270.6 L503.7 272.2 L508.5 273.9 L512.8 275.5 L516.4 277.1 L519.4 278.7 L521.6 280.3 L522.9 281.9 L523.3 283.5 L523.0 322.5 L522.5 320.9 L521.2 319.3 L519.0 317.7 L516.1 316.1 L512.4 314.5 L508.1 312.9 L503.3 311.2 L498.2 309.6 L492.8 308.0 L487.4 306.4 L482.0 304.7 L476.9 303.1 L472.1 301.5 L467.8 299.9 L464.1 298.2 L461.2 296.6 L459.0 295.0 L457.7 293.4 L457.2 291.9Z" fill="url(#b6)" stroke="#4b55b5" stroke-width="1.15" stroke-linejoin="round"/><path d="M458.3 192.2 L458.2 192.4 L458.2 192.6 L458.2 192.9 L457.8 231.9 L457.8 231.6 L457.9 231.4 L457.9 231.2Z" fill="url(#f6)" stroke="#4b55b5" stroke-width="1.15" stroke-linejoin="round"/><path d="M458.3 194.0 L458.2 194.2 L458.2 194.4 L458.2 194.7 M457.9 229.4 L457.9 229.6 L457.8 229.8 L457.8 230.1" fill="none" stroke="#f6f6f6" stroke-opacity="0.9" stroke-width="2.2"/><path d="M523.9 223.5 L523.4 225.1 L522.1 226.6 L519.9 228.2 L516.9 229.7 L513.2 231.3 L508.9 232.8 L504.0 234.4 L498.9 235.9 L493.5 237.4 L488.0 238.9 L482.6 240.5 L477.5 242.0 L472.7 243.5 L468.3 245.1 L464.6 246.6 L461.6 248.2 L459.4 249.7 L458.1 251.3 L457.6 252.9 L457.2 291.9 L457.7 290.3 L459.1 288.7 L461.3 287.2 L464.3 285.6 L468.0 284.1 L472.3 282.5 L477.1 281.0 L482.3 279.5 L487.7 277.9 L493.1 276.4 L498.5 274.9 L503.7 273.4 L508.5 271.8 L512.8 270.3 L516.5 268.7 L519.5 267.2 L521.7 265.6 L523.1 264.1 L523.5 262.5Z" fill="url(#f6)" stroke="#4b55b5" stroke-width="1.15" stroke-linejoin="round"/><path d="M523.9 225.3 L523.4 226.9 L522.1 228.4 L519.9 230.0 L516.9 231.5 L513.2 233.1 L508.8 234.6 L504.0 236.2 L498.9 237.7 L493.5 239.2 L488.0 240.7 L482.6 242.3 L477.4 243.8 L472.6 245.3 L468.3 246.9 L464.6 248.4 L461.6 250.0 L459.4 251.5 L458.1 253.1 L457.6 254.7 M523.5 260.7 L523.1 262.3 L521.7 263.8 L519.5 265.4 L516.5 266.9 L512.8 268.5 L508.5 270.0 L503.7 271.6 L498.5 273.1 L493.1 274.6 L487.7 276.1 L482.3 277.7 L477.1 279.2 L472.3 280.7 L468.0 282.3 L464.3 283.8 L461.3 285.4 L459.1 286.9 L457.7 288.5 L457.3 290.1" fill="none" stroke="#f6f6f6" stroke-opacity="0.9" stroke-width="2.2"/><path d="M523.3 283.5 L522.8 285.2 L521.2 286.9 L518.7 288.6 L515.2 290.2 L511.0 291.9 L506.1 293.5 L500.7 295.2 L494.9 296.8 L489.0 298.5 L488.7 337.5 L494.6 335.8 L500.3 334.2 L505.7 332.5 L510.6 330.9 L514.8 329.2 L518.3 327.5 L520.8 325.9 L522.4 324.2 L523.0 322.5Z" fill="url(#f6)" stroke="#4b55b5" stroke-width="1.15" stroke-linejoin="round"/><path d="M523.3 285.3 L522.8 287.0 L521.2 288.7 L518.6 290.3 L515.2 292.0 L511.0 293.7 L506.1 295.3 L500.7 297.0 L494.9 298.6 L489.0 300.3 M523.0 320.7 L522.4 322.4 L520.9 324.1 L518.3 325.7 L514.9 327.4 L510.6 329.1 L505.7 330.7 L500.3 332.4 L494.6 334.0 L488.7 335.7" fill="none" stroke="#f6f6f6" stroke-opacity="0.9" stroke-width="2.2"/><linearGradient id="f7" gradientUnits="userSpaceOnUse" x1="508.3" y1="460.2" x2="581.7" y2="479.8"><stop offset="0" stop-color="#5e5e5e"/><stop offset="0.12" stop-color="#999"/><stop offset="0.35" stop-color="#cdcdcd"/><stop offset="0.6" stop-color="#e3e3e3"/><stop offset="0.85" stop-color="#d9d9d9"/><stop offset="0.95" stop-color="#a6a6a6"/><stop offset="1" stop-color="#666"/></linearGradient><linearGradient id="b7" gradientUnits="userSpaceOnUse" x1="508.3" y1="460.2" x2="581.7" y2="479.8"><stop offset="0" stop-color="#6a8286"/><stop offset="0.15" stop-color="#b8d6da"/><stop offset="0.45" stop-color="#d6eff3"/><stop offset="0.75" stop-color="#c8e4e8"/><stop offset="0.92" stop-color="#9ab8bc"/><stop offset="1" stop-color="#5a7276"/></linearGradient><path d="M510.4 452.2 L510.5 453.9 L511.6 455.8 L513.6 458.0 L516.5 460.4 L520.2 463.0 L524.6 465.8 L529.5 468.7 L534.9 471.8 L540.5 474.9 L546.1 478.0 L551.7 481.1 L557.0 484.2 L562.0 487.1 L566.3 489.9 L570.0 492.5 L573.0 495.0 L575.0 497.1 L576.1 499.1 L576.2 500.7 L566.1 538.4 L566.1 536.7 L565.0 534.8 L562.9 532.6 L560.0 530.2 L556.3 527.6 L551.9 524.8 L547.0 521.9 L541.7 518.8 L536.1 515.7 L530.4 512.6 L524.9 509.5 L519.5 506.4 L514.6 503.5 L510.2 500.7 L506.5 498.1 L503.6 495.7 L501.6 493.5 L500.5 491.6 L500.4 489.9Z" fill="url(#b7)" stroke="#4b55b5" stroke-width="1.15" stroke-linejoin="round"/><path d="M495.0 510.2 L495.1 511.9 L496.2 513.8 L498.2 515.9 L501.1 518.4 L504.8 521.0 L509.2 523.8 L514.1 526.7 L519.5 529.8 L525.1 532.9 L530.7 536.0 L536.3 539.1 L541.6 542.2 L546.6 545.1 L550.9 547.9 L554.6 550.5 L557.5 552.9 L559.6 555.1 L560.7 557.0 L560.8 558.7 L550.7 596.4 L550.6 594.7 L549.6 592.8 L547.5 590.6 L544.6 588.2 L540.9 585.6 L536.5 582.8 L531.6 579.9 L526.3 576.8 L520.7 573.7 L515.0 570.6 L509.5 567.5 L504.1 564.4 L499.2 561.5 L494.8 558.7 L491.1 556.0 L488.2 553.6 L486.2 551.5 L485.1 549.5 L485.0 547.9Z" fill="url(#b7)" stroke="#4b55b5" stroke-width="1.15" stroke-linejoin="round"/><path d="M479.6 568.2 L479.7 569.8 L480.8 571.8 L482.8 573.9 L485.7 576.3 L489.4 579.0 L493.8 581.8 L498.7 584.7 L504.1 587.8 L509.6 590.9 L515.3 594.0 L520.9 597.1 L526.2 600.2 L531.1 603.1 L535.5 605.9 L539.2 608.5 L542.1 610.9 L544.2 613.1 L545.3 615.0 L545.4 616.7 L535.3 654.4 L535.2 652.7 L534.2 650.8 L532.1 648.6 L529.2 646.2 L525.5 643.6 L521.1 640.8 L516.2 637.9 L510.9 634.8 L505.3 631.7 L499.6 628.6 L494.1 625.4 L488.7 622.4 L483.8 619.5 L479.4 616.7 L475.7 614.0 L472.8 611.6 L470.8 609.5 L469.7 607.5 L469.6 605.9Z" fill="url(#b7)" stroke="#4b55b5" stroke-width="1.15" stroke-linejoin="round"/><path d="M464.2 626.2 L464.4 628.2 L466.0 630.5 L468.9 633.2 L473.0 636.2 L463.0 673.9 L458.9 670.9 L456.0 668.2 L454.4 665.9 L454.2 663.9Z" fill="url(#b7)" stroke="#4b55b5" stroke-width="1.15" stroke-linejoin="round"/><path d="M535.7 447.4 L528.9 447.5 L523.0 447.8 L518.0 448.4 L514.1 449.3 L511.6 450.6 L510.4 452.2 L500.4 489.9 L501.6 488.3 L504.1 487.0 L507.9 486.1 L512.9 485.5 L518.9 485.2 L525.7 485.0Z" fill="url(#f7)" stroke="#4b55b5" stroke-width="1.15" stroke-linejoin="round"/><path d="M535.2 449.1 L528.5 449.2 L522.5 449.6 L517.5 450.2 L513.7 451.1 L511.1 452.3 L509.9 453.9 M526.2 483.3 L519.4 483.4 L513.4 483.8 L508.4 484.4 L504.6 485.3 L502.0 486.5 L500.9 488.2" fill="none" stroke="#f6f6f6" stroke-opacity="0.9" stroke-width="2.2"/><path d="M576.2 500.7 L575.3 502.1 L573.4 503.2 L570.5 504.1 L566.8 504.8 L562.3 505.2 L557.1 505.4 L551.3 505.6 L545.2 505.6 L538.8 505.5 L532.3 505.4 L526.0 505.3 L519.8 505.3 L514.1 505.5 L508.9 505.7 L504.4 506.1 L500.6 506.8 L497.8 507.7 L495.9 508.8 L495.0 510.2 L485.0 547.9 L485.9 546.5 L487.8 545.4 L490.6 544.5 L494.4 543.8 L498.9 543.4 L504.1 543.1 L509.8 543.0 L515.9 543.0 L522.3 543.1 L528.8 543.2 L535.2 543.2 L541.3 543.2 L547.1 543.1 L552.3 542.9 L556.8 542.4 L560.5 541.8 L563.3 540.9 L565.2 539.8 L566.1 538.4Z" fill="url(#f7)" stroke="#4b55b5" stroke-width="1.15" stroke-linejoin="round"/><path d="M575.7 502.4 L574.8 503.8 L572.9 505.0 L570.1 505.9 L566.3 506.5 L561.8 506.9 L556.6 507.2 L550.9 507.3 L544.7 507.3 L538.4 507.2 L531.9 507.1 L525.5 507.1 L519.4 507.1 L513.6 507.2 L508.4 507.5 L503.9 507.9 L500.2 508.5 L497.3 509.4 L495.5 510.5 L494.5 511.9 M566.6 536.7 L565.7 538.1 L563.8 539.2 L561.0 540.1 L557.2 540.7 L552.7 541.1 L547.5 541.4 L541.8 541.5 L535.7 541.5 L529.3 541.4 L522.8 541.4 L516.4 541.3 L510.3 541.3 L504.5 541.4 L499.3 541.7 L494.8 542.1 L491.1 542.7 L488.3 543.6 L486.4 544.8 L485.5 546.1" fill="none" stroke="#f6f6f6" stroke-opacity="0.9" stroke-width="2.2"/><path d="M560.8 558.7 L559.9 560.1 L558.0 561.2 L555.1 562.1 L551.4 562.7 L546.9 563.2 L541.7 563.4 L535.9 563.5 L529.8 563.5 L523.4 563.5 L516.9 563.4 L510.6 563.3 L504.4 563.3 L498.7 563.4 L493.5 563.7 L489.0 564.1 L485.2 564.8 L482.4 565.7 L480.5 566.8 L479.6 568.2 L469.6 605.9 L470.5 604.5 L472.4 603.4 L475.2 602.5 L479.0 601.8 L483.5 601.4 L488.7 601.1 L494.4 601.0 L500.5 601.0 L506.9 601.1 L513.4 601.2 L519.8 601.2 L525.9 601.2 L531.7 601.1 L536.9 600.9 L541.4 600.4 L545.1 599.8 L547.9 598.9 L549.8 597.8 L550.7 596.4Z" fill="url(#f7)" stroke="#4b55b5" stroke-width="1.15" stroke-linejoin="round"/><path d="M560.3 560.4 L559.4 561.8 L557.5 563.0 L554.7 563.8 L550.9 564.5 L546.4 564.9 L541.2 565.2 L535.5 565.3 L529.3 565.3 L523.0 565.2 L516.5 565.1 L510.1 565.1 L504.0 565.1 L498.2 565.2 L493.0 565.4 L488.5 565.9 L484.8 566.5 L481.9 567.4 L480.0 568.5 L479.1 569.9 M551.2 594.7 L550.3 596.0 L548.4 597.2 L545.6 598.1 L541.8 598.7 L537.3 599.1 L532.1 599.4 L526.4 599.5 L520.3 599.5 L513.9 599.4 L507.4 599.4 L501.0 599.3 L494.9 599.3 L489.1 599.4 L483.9 599.7 L479.4 600.1 L475.7 600.7 L472.9 601.6 L471.0 602.7 L470.1 604.1" fill="none" stroke="#f6f6f6" stroke-opacity="0.9" stroke-width="2.2"/><path d="M545.4 616.7 L544.4 618.1 L542.6 619.2 L539.7 620.1 L536.0 620.7 L531.5 621.2 L526.3 621.4 L520.5 621.5 L514.4 621.5 L508.0 621.5 L501.5 621.4 L495.2 621.3 L489.0 621.3 L483.3 621.4 L478.1 621.7 L473.6 622.1 L469.8 622.8 L467.0 623.6 L465.1 624.8 L464.2 626.2 L454.2 663.9 L455.1 662.5 L457.0 661.3 L459.8 660.5 L463.6 659.8 L468.1 659.4 L473.3 659.1 L479.0 659.0 L485.1 659.0 L491.5 659.1 L498.0 659.2 L504.4 659.2 L510.5 659.2 L516.3 659.1 L521.5 658.9 L526.0 658.4 L529.7 657.8 L532.5 656.9 L534.4 655.8 L535.3 654.4Z" fill="url(#f7)" stroke="#4b55b5" stroke-width="1.15" stroke-linejoin="round"/><path d="M544.9 618.4 L544.0 619.8 L542.1 621.0 L539.2 621.8 L535.5 622.5 L531.0 622.9 L525.8 623.2 L520.1 623.3 L513.9 623.3 L507.6 623.2 L501.1 623.1 L494.7 623.1 L488.5 623.1 L482.8 623.2 L477.6 623.4 L473.1 623.9 L469.4 624.5 L466.5 625.4 L464.6 626.5 L463.7 627.9 M535.8 652.6 L534.9 654.0 L533.0 655.2 L530.2 656.0 L526.4 656.7 L521.9 657.1 L516.7 657.4 L511.0 657.5 L504.9 657.5 L498.5 657.4 L492.0 657.3 L485.6 657.3 L479.5 657.3 L473.7 657.4 L468.5 657.6 L464.0 658.1 L460.3 658.7 L457.4 659.6 L455.6 660.7 L454.6 662.1" fill="none" stroke="#f6f6f6" stroke-opacity="0.9" stroke-width="2.2"/><linearGradient id="f8" gradientUnits="userSpaceOnUse" x1="354.9" y1="62.6" x2="417.1" y2="47.4"><stop offset="0" stop-color="#5e5e5e"/><stop offset="0.12" stop-color="#999"/><stop offset="0.35" stop-color="#cdcdcd"/><stop offset="0.6" stop-color="#e3e3e3"/><stop offset="0.85" stop-color="#d9d9d9"/><stop offset="0.95" stop-color="#a6a6a6"/><stop offset="1" stop-color="#666"/></linearGradient><linearGradient id="b8" gradientUnits="userSpaceOnUse" x1="354.9" y1="62.6" x2="417.1" y2="47.4"><stop offset="0" stop-color="#6a8286"/><stop offset="0.15" stop-color="#b8d6da"/><stop offset="0.45" stop-color="#d6eff3"/><stop offset="0.75" stop-color="#c8e4e8"/><stop offset="0.92" stop-color="#9ab8bc"/><stop offset="1" stop-color="#5a7276"/></linearGradient><path d="M353.8 58.2 L354.6 59.6 L356.3 60.8 L358.7 61.9 L361.9 62.7 L365.7 63.4 L370.2 64.0 L375.1 64.4 L380.3 64.8 L385.7 65.1 L391.2 65.3 L396.7 65.7 L401.9 66.0 L406.8 66.4 L411.2 67.0 L415.1 67.7 L418.2 68.5 L420.7 69.6 L422.3 70.8 L423.1 72.2 L432.3 110.1 L431.5 108.7 L429.9 107.5 L427.5 106.4 L424.3 105.6 L420.4 104.9 L416.0 104.3 L411.1 103.9 L405.9 103.5 L400.4 103.2 L394.9 103.0 L389.5 102.7 L384.3 102.3 L379.4 101.9 L374.9 101.3 L371.1 100.6 L367.9 99.8 L365.5 98.7 L363.8 97.5 L363.0 96.1Z" fill="url(#b8)" stroke="#4b55b5" stroke-width="1.15" stroke-linejoin="round"/><path d="M368.0 116.5 L368.8 117.9 L370.4 119.1 L372.9 120.2 L376.0 121.0 L379.9 121.7 L384.3 122.3 L389.2 122.7 L394.4 123.1 L399.9 123.4 L405.4 123.7 L410.8 124.0 L416.1 124.3 L420.9 124.7 L425.4 125.3 L429.2 126.0 L432.4 126.8 L434.8 127.9 L436.5 129.1 L437.3 130.5 L446.5 168.4 L445.7 167.0 L444.0 165.8 L441.6 164.7 L438.4 163.9 L434.6 163.2 L430.2 162.6 L425.3 162.2 L420.0 161.9 L414.6 161.6 L409.1 161.3 L403.6 161.0 L398.4 160.6 L393.5 160.2 L389.1 159.6 L385.3 158.9 L382.1 158.1 L379.6 157.0 L378.0 155.8 L377.2 154.4Z" fill="url(#b8)" stroke="#4b55b5" stroke-width="1.15" stroke-linejoin="round"/><path d="M382.2 174.8 L383.0 176.2 L384.6 177.4 L387.0 178.5 L390.2 179.3 L394.1 180.0 L398.5 180.6 L403.4 181.0 L408.6 181.4 L414.0 181.7 L419.6 182.0 L425.0 182.3 L430.2 182.6 L435.1 183.1 L439.5 183.6 L443.4 184.3 L446.6 185.1 L449.0 186.2 L450.6 187.4 L451.4 188.8 L460.6 226.7 L459.8 225.3 L458.2 224.1 L455.8 223.0 L452.6 222.2 L448.7 221.5 L444.3 221.0 L439.4 220.5 L434.2 220.2 L428.8 219.9 L423.2 219.6 L417.8 219.3 L412.6 218.9 L407.7 218.5 L403.3 217.9 L399.4 217.2 L396.2 216.4 L393.8 215.3 L392.2 214.1 L391.4 212.7Z" fill="url(#b8)" stroke="#4b55b5" stroke-width="1.15" stroke-linejoin="round"/><path d="M396.3 233.1 L397.2 234.6 L398.9 235.8 L401.4 236.9 L404.8 237.7 L408.8 238.4 L413.4 239.0 L418.5 239.4 L424.0 239.7 L429.6 240.0 L435.3 240.3 L440.8 240.7 L446.1 241.1 L450.9 241.5 L460.2 279.4 L455.3 279.0 L450.0 278.6 L444.5 278.2 L438.8 277.9 L433.2 277.6 L427.7 277.3 L422.6 276.9 L418.0 276.3 L414.0 275.6 L410.6 274.8 L408.1 273.7 L406.4 272.5 L405.5 271.0Z" fill="url(#b8)" stroke="#4b55b5" stroke-width="1.15" stroke-linejoin="round"/><path d="M381.4 36.1 L376.4 39.0 L371.5 41.9 L367.0 44.7 L363.0 47.4 L359.5 49.9 L356.8 52.3 L354.9 54.5 L353.9 56.4 L353.8 58.2 L363.0 96.1 L363.1 94.3 L364.1 92.4 L366.0 90.2 L368.7 87.8 L372.2 85.3 L376.2 82.6 L380.8 79.8 L385.6 76.9 L390.6 73.9Z" fill="url(#f8)" stroke="#4b55b5" stroke-width="1.15" stroke-linejoin="round"/><path d="M381.8 37.8 L376.8 40.7 L372.0 43.6 L367.5 46.4 L363.4 49.1 L360.0 51.7 L357.3 54.1 L355.4 56.2 L354.3 58.2 L354.3 59.9 M390.2 72.2 L385.2 75.1 L380.3 78.0 L375.8 80.8 L371.8 83.5 L368.3 86.1 L365.6 88.5 L363.7 90.6 L362.7 92.6 L362.6 94.3" fill="none" stroke="#f6f6f6" stroke-opacity="0.9" stroke-width="2.2"/><path d="M423.1 72.2 L423.1 73.9 L422.2 75.7 L420.5 77.7 L418.0 80.0 L414.9 82.3 L411.3 84.9 L407.1 87.5 L402.6 90.2 L397.9 93.0 L393.2 95.7 L388.5 98.5 L384.0 101.2 L379.9 103.9 L376.2 106.4 L373.1 108.8 L370.6 111.0 L368.9 113.0 L368.1 114.8 L368.0 116.5 L377.2 154.4 L377.3 152.7 L378.1 150.9 L379.8 148.9 L382.3 146.7 L385.4 144.3 L389.1 141.8 L393.2 139.1 L397.7 136.4 L402.4 133.6 L407.1 130.9 L411.8 128.1 L416.3 125.4 L420.5 122.8 L424.1 120.2 L427.3 117.9 L429.7 115.6 L431.4 113.6 L432.3 111.8 L432.3 110.1Z" fill="url(#f8)" stroke="#4b55b5" stroke-width="1.15" stroke-linejoin="round"/><path d="M423.5 74.0 L423.5 75.6 L422.6 77.5 L420.9 79.5 L418.5 81.7 L415.4 84.1 L411.7 86.6 L407.5 89.2 L403.1 91.9 L398.4 94.7 L393.6 97.5 L388.9 100.3 L384.4 103.0 L380.3 105.6 L376.6 108.1 L373.5 110.5 L371.1 112.7 L369.4 114.8 L368.5 116.6 L368.4 118.2 M431.9 108.4 L431.8 110.0 L431.0 111.9 L429.3 113.9 L426.8 116.1 L423.7 118.5 L420.0 121.0 L415.9 123.6 L411.4 126.3 L406.7 129.1 L402.0 131.9 L397.3 134.7 L392.8 137.4 L388.6 140.0 L385.0 142.5 L381.8 144.9 L379.4 147.1 L377.7 149.2 L376.8 151.0 L376.8 152.6" fill="none" stroke="#f6f6f6" stroke-opacity="0.9" stroke-width="2.2"/><path d="M437.3 130.5 L437.2 132.2 L436.3 134.0 L434.6 136.0 L432.2 138.3 L429.1 140.6 L425.4 143.2 L421.3 145.8 L416.8 148.5 L412.1 151.3 L407.3 154.1 L402.6 156.8 L398.2 159.5 L394.0 162.2 L390.3 164.7 L387.2 167.1 L384.8 169.3 L383.1 171.3 L382.2 173.2 L382.2 174.8 L391.4 212.7 L391.4 211.1 L392.3 209.2 L394.0 207.2 L396.4 205.0 L399.5 202.6 L403.2 200.1 L407.4 197.4 L411.8 194.7 L416.5 192.0 L421.3 189.2 L426.0 186.4 L430.5 183.7 L434.6 181.1 L438.3 178.5 L441.4 176.2 L443.8 173.9 L445.5 171.9 L446.4 170.1 L446.5 168.4Z" fill="url(#f8)" stroke="#4b55b5" stroke-width="1.15" stroke-linejoin="round"/><path d="M437.7 132.3 L437.6 133.9 L436.8 135.8 L435.1 137.8 L432.6 140.0 L429.5 142.4 L425.8 144.9 L421.7 147.5 L417.2 150.3 L412.5 153.0 L407.8 155.8 L403.1 158.6 L398.6 161.3 L394.4 163.9 L390.8 166.4 L387.7 168.8 L385.2 171.0 L383.5 173.1 L382.6 174.9 L382.6 176.5 M446.1 166.7 L446.0 168.3 L445.1 170.2 L443.4 172.2 L441.0 174.4 L437.9 176.8 L434.2 179.3 L430.1 181.9 L425.6 184.7 L420.9 187.4 L416.1 190.2 L411.4 193.0 L406.9 195.7 L402.8 198.3 L399.1 200.8 L396.0 203.2 L393.6 205.4 L391.9 207.5 L391.0 209.3 L390.9 210.9" fill="none" stroke="#f6f6f6" stroke-opacity="0.9" stroke-width="2.2"/><path d="M451.4 188.8 L451.4 190.5 L450.5 192.3 L448.8 194.4 L446.4 196.6 L443.3 198.9 L439.6 201.5 L435.4 204.1 L431.0 206.8 L426.3 209.6 L421.5 212.4 L416.8 215.1 L412.3 217.8 L408.2 220.5 L404.5 223.0 L401.4 225.4 L399.0 227.6 L397.3 229.6 L396.4 231.5 L396.3 233.1 L405.5 271.0 L405.6 269.4 L406.5 267.5 L408.2 265.5 L410.6 263.3 L413.7 260.9 L417.4 258.4 L421.5 255.7 L426.0 253.0 L430.7 250.3 L435.5 247.5 L440.2 244.7 L444.6 242.0 L448.8 239.4 L452.5 236.8 L455.6 234.5 L458.0 232.2 L459.7 230.2 L460.6 228.4 L460.6 226.7Z" fill="url(#f8)" stroke="#4b55b5" stroke-width="1.15" stroke-linejoin="round"/><path d="M451.9 190.6 L451.8 192.2 L450.9 194.1 L449.2 196.1 L446.8 198.3 L443.7 200.7 L440.0 203.2 L435.9 205.8 L431.4 208.6 L426.7 211.3 L421.9 214.1 L417.2 216.9 L412.7 219.6 L408.6 222.2 L404.9 224.7 L401.8 227.1 L399.4 229.3 L397.7 231.4 L396.8 233.2 L396.7 234.8 M460.2 225.0 L460.2 226.6 L459.3 228.5 L457.6 230.5 L455.1 232.7 L452.0 235.1 L448.4 237.6 L444.2 240.2 L439.7 243.0 L435.0 245.7 L430.3 248.5 L425.6 251.3 L421.1 254.0 L417.0 256.6 L413.3 259.1 L410.2 261.5 L407.7 263.7 L406.0 265.8 L405.2 267.6 L405.1 269.2" fill="none" stroke="#f6f6f6" stroke-opacity="0.9" stroke-width="2.2"/><linearGradient id="f9" gradientUnits="userSpaceOnUse" x1="403.0" y1="266.6" x2="471.0" y2="263.4"><stop offset="0" stop-color="#5e5e5e"/><stop offset="0.12" stop-color="#999"/><stop offset="0.35" stop-color="#cdcdcd"/><stop offset="0.6" stop-color="#e3e3e3"/><stop offset="0.85" stop-color="#d9d9d9"/><stop offset="0.95" stop-color="#a6a6a6"/><stop offset="1" stop-color="#666"/></linearGradient><linearGradient id="b9" gradientUnits="userSpaceOnUse" x1="403.0" y1="266.6" x2="471.0" y2="263.4"><stop offset="0" stop-color="#6a8286"/><stop offset="0.15" stop-color="#b8d6da"/><stop offset="0.45" stop-color="#d6eff3"/><stop offset="0.75" stop-color="#c8e4e8"/><stop offset="0.92" stop-color="#9ab8bc"/><stop offset="1" stop-color="#5a7276"/></linearGradient><path d="M402.4 252.5 L402.9 254.1 L404.4 255.6 L406.7 257.1 L409.8 258.5 L413.7 259.9 L418.2 261.3 L423.2 262.6 L428.6 264.0 L434.2 265.3 L439.9 266.6 L445.5 267.9 L450.9 269.3 L455.9 270.6 L460.4 272.0 L464.2 273.4 L467.4 274.8 L469.7 276.3 L471.2 277.8 L471.7 279.4 L473.5 318.3 L473.0 316.8 L471.5 315.2 L469.2 313.8 L466.1 312.3 L462.2 310.9 L457.7 309.6 L452.7 308.2 L447.3 306.9 L441.7 305.6 L436.0 304.2 L430.4 302.9 L425.0 301.6 L420.0 300.2 L415.5 298.9 L411.6 297.5 L408.5 296.0 L406.2 294.6 L404.7 293.1 L404.2 291.5Z" fill="url(#b9)" stroke="#4b55b5" stroke-width="1.15" stroke-linejoin="round"/><path d="M405.2 312.5 L405.7 314.0 L407.2 315.5 L409.5 317.0 L412.6 318.5 L416.5 319.9 L421.0 321.2 L426.0 322.6 L431.4 323.9 L437.0 325.2 L442.7 326.5 L448.3 327.9 L453.7 329.2 L458.7 330.5 L463.2 331.9 L467.0 333.3 L470.2 334.8 L472.5 336.2 L473.9 337.7 L474.5 339.3 L476.3 378.3 L475.8 376.7 L474.3 375.2 L472.0 373.7 L468.8 372.3 L465.0 370.9 L460.5 369.5 L455.5 368.2 L450.1 366.8 L444.5 365.5 L438.8 364.2 L433.2 362.9 L427.8 361.5 L422.8 360.2 L418.3 358.8 L414.4 357.4 L411.3 356.0 L409.0 354.5 L407.5 353.0 L407.0 351.4Z" fill="url(#b9)" stroke="#4b55b5" stroke-width="1.15" stroke-linejoin="round"/><path d="M408.0 372.4 L408.5 374.0 L409.9 375.5 L412.3 377.0 L415.4 378.4 L419.3 379.8 L423.8 381.2 L428.8 382.5 L434.2 383.8 L439.8 385.2 L445.5 386.5 L451.1 387.8 L456.4 389.1 L461.4 390.5 L465.9 391.9 L469.8 393.3 L473.0 394.7 L475.3 396.2 L476.7 397.7 L477.3 399.2 L479.1 438.2 L478.5 436.6 L477.1 435.1 L474.8 433.6 L471.6 432.2 L467.8 430.8 L463.3 429.4 L458.2 428.1 L452.9 426.8 L447.3 425.4 L441.6 424.1 L436.0 422.8 L430.6 421.5 L425.6 420.1 L421.1 418.7 L417.2 417.3 L414.1 415.9 L411.7 414.4 L410.3 412.9 L409.8 411.4Z" fill="url(#b9)" stroke="#4b55b5" stroke-width="1.15" stroke-linejoin="round"/><path d="M410.7 432.3 L411.3 433.9 L412.7 435.4 L415.0 436.9 L418.2 438.3 L422.1 439.7 L426.6 441.1 L431.6 442.4 L436.9 443.8 L442.6 445.1 L448.2 446.4 L453.8 447.7 L459.2 449.1 L464.2 450.4 L468.7 451.8 L472.6 453.2 L475.7 454.6 L478.1 456.1 L479.5 457.6 L480.1 459.2 L481.9 498.1 L481.3 496.6 L479.9 495.1 L477.5 493.6 L474.4 492.1 L470.5 490.7 L466.0 489.4 L461.0 488.0 L455.6 486.7 L450.0 485.4 L444.4 484.1 L438.8 482.7 L433.4 481.4 L428.4 480.1 L423.9 478.7 L420.0 477.3 L416.9 475.8 L414.5 474.4 L413.1 472.9 L412.5 471.3Z" fill="url(#b9)" stroke="#4b55b5" stroke-width="1.15" stroke-linejoin="round"/><path d="M413.5 492.3 L414.1 493.8 L415.5 495.4 L417.8 496.8 L421.0 498.3 L424.8 499.7 L429.3 501.0 L434.3 502.4 L439.7 503.7 L445.3 505.0 L451.0 506.3 L456.6 507.7 L462.0 509.0 L467.0 510.3 L471.5 511.7 L475.4 513.1 L478.5 514.6 L480.8 516.0 L482.3 517.5 L482.8 519.1 L484.6 558.1 L484.1 556.5 L482.7 555.0 L480.3 553.5 L477.2 552.1 L473.3 550.7 L468.8 549.3 L463.8 548.0 L458.4 546.6 L452.8 545.3 L447.1 544.0 L441.5 542.7 L436.2 541.3 L431.2 540.0 L426.7 538.6 L422.8 537.2 L419.6 535.8 L417.3 534.3 L415.9 532.8 L415.3 531.2Z" fill="url(#b9)" stroke="#4b55b5" stroke-width="1.15" stroke-linejoin="round"/><path d="M407.5 246.8 L404.6 248.8 L402.9 250.7 L402.4 252.5 L404.2 291.5 L404.7 289.7 L406.5 287.8 L409.3 285.8Z" fill="url(#f9)" stroke="#4b55b5" stroke-width="1.15" stroke-linejoin="round"/><path d="M407.6 248.6 L404.7 250.6 L403.0 252.5 L402.5 254.3 M409.2 284.0 L406.4 286.0 L404.6 287.9 L404.1 289.7" fill="none" stroke="#f6f6f6" stroke-opacity="0.9" stroke-width="2.2"/><path d="M471.7 279.4 L471.3 281.0 L470.0 282.6 L467.8 284.3 L464.8 286.0 L461.1 287.8 L456.8 289.5 L451.9 291.3 L446.7 293.2 L441.2 295.0 L435.7 296.8 L430.2 298.7 L425.0 300.5 L420.1 302.3 L415.8 304.1 L412.0 305.8 L409.0 307.6 L406.9 309.2 L405.6 310.9 L405.2 312.5 L407.0 351.4 L407.4 349.8 L408.7 348.2 L410.9 346.5 L413.8 344.8 L417.6 343.0 L421.9 341.3 L426.8 339.5 L432.0 337.6 L437.5 335.8 L443.0 334.0 L448.5 332.1 L453.7 330.3 L458.6 328.5 L462.9 326.7 L466.6 325.0 L469.6 323.2 L471.8 321.6 L473.1 319.9 L473.5 318.3Z" fill="url(#f9)" stroke="#4b55b5" stroke-width="1.15" stroke-linejoin="round"/><path d="M471.8 281.2 L471.4 282.8 L470.1 284.4 L467.9 286.1 L464.9 287.8 L461.2 289.5 L456.8 291.3 L452.0 293.1 L446.7 295.0 L441.3 296.8 L435.8 298.6 L430.3 300.5 L425.1 302.3 L420.2 304.1 L415.8 305.9 L412.1 307.6 L409.1 309.4 L406.9 311.0 L405.6 312.7 L405.3 314.3 M473.4 316.5 L473.0 318.1 L471.7 319.8 L469.6 321.4 L466.6 323.2 L462.8 324.9 L458.5 326.7 L453.6 328.5 L448.4 330.3 L442.9 332.2 L437.4 334.0 L431.9 335.8 L426.7 337.7 L421.8 339.5 L417.5 341.2 L413.8 343.0 L410.8 344.7 L408.6 346.4 L407.3 348.0 L406.9 349.6" fill="none" stroke="#f6f6f6" stroke-opacity="0.9" stroke-width="2.2"/><path d="M474.5 339.3 L474.1 340.9 L472.8 342.5 L470.6 344.2 L467.6 345.9 L463.9 347.7 L459.5 349.5 L454.7 351.3 L449.4 353.1 L444.0 354.9 L438.5 356.8 L433.0 358.6 L427.8 360.4 L422.9 362.2 L418.5 364.0 L414.8 365.8 L411.8 367.5 L409.6 369.2 L408.3 370.8 L408.0 372.4 L409.8 411.4 L410.1 409.8 L411.5 408.1 L413.6 406.4 L416.6 404.7 L420.4 403.0 L424.7 401.2 L429.6 399.4 L434.8 397.6 L440.3 395.7 L445.8 393.9 L451.3 392.1 L456.5 390.2 L461.3 388.4 L465.7 386.6 L469.4 384.9 L472.4 383.2 L474.6 381.5 L475.9 379.8 L476.3 378.3Z" fill="url(#f9)" stroke="#4b55b5" stroke-width="1.15" stroke-linejoin="round"/><path d="M474.6 341.1 L474.2 342.7 L472.9 344.3 L470.7 346.0 L467.7 347.7 L464.0 349.5 L459.6 351.3 L454.8 353.1 L449.5 354.9 L444.1 356.7 L438.5 358.6 L433.1 360.4 L427.8 362.2 L423.0 364.0 L418.6 365.8 L414.9 367.6 L411.9 369.3 L409.7 371.0 L408.4 372.6 L408.0 374.2 M476.2 376.5 L475.8 378.1 L474.5 379.7 L472.3 381.4 L469.3 383.1 L465.6 384.8 L461.3 386.6 L456.4 388.4 L451.2 390.3 L445.7 392.1 L440.2 393.9 L434.7 395.8 L429.5 397.6 L424.6 399.4 L420.3 401.2 L416.5 402.9 L413.5 404.7 L411.4 406.3 L410.1 408.0 L409.7 409.6" fill="none" stroke="#f6f6f6" stroke-opacity="0.9" stroke-width="2.2"/><path d="M477.3 399.2 L476.9 400.8 L475.6 402.5 L473.4 404.1 L470.4 405.9 L466.7 407.6 L462.3 409.4 L457.5 411.2 L452.2 413.0 L446.8 414.9 L441.2 416.7 L435.8 418.5 L430.5 420.4 L425.7 422.2 L421.3 424.0 L417.6 425.7 L414.6 427.4 L412.4 429.1 L411.1 430.8 L410.7 432.3 L412.5 471.3 L412.9 469.7 L414.2 468.1 L416.4 466.4 L419.4 464.7 L423.1 462.9 L427.5 461.1 L432.3 459.3 L437.6 457.5 L443.0 455.7 L448.6 453.8 L454.0 452.0 L459.3 450.2 L464.1 448.4 L468.5 446.6 L472.2 444.8 L475.2 443.1 L477.4 441.4 L478.7 439.8 L479.1 438.2Z" fill="url(#f9)" stroke="#4b55b5" stroke-width="1.15" stroke-linejoin="round"/><path d="M477.4 401.0 L477.0 402.6 L475.7 404.3 L473.5 405.9 L470.5 407.7 L466.8 409.4 L462.4 411.2 L457.5 413.0 L452.3 414.8 L446.9 416.7 L441.3 418.5 L435.9 420.3 L430.6 422.2 L425.8 424.0 L421.4 425.8 L417.7 427.5 L414.7 429.2 L412.5 430.9 L411.2 432.5 L410.8 434.1 M479.0 436.4 L478.6 438.0 L477.3 439.6 L475.1 441.3 L472.1 443.0 L468.4 444.8 L464.0 446.6 L459.2 448.4 L454.0 450.2 L448.5 452.0 L443.0 453.9 L437.5 455.7 L432.3 457.5 L427.4 459.3 L423.1 461.1 L419.3 462.9 L416.3 464.6 L414.2 466.3 L412.8 467.9 L412.5 469.5" fill="none" stroke="#f6f6f6" stroke-opacity="0.9" stroke-width="2.2"/><path d="M480.1 459.2 L479.7 460.8 L478.4 462.4 L476.2 464.1 L473.2 465.8 L469.5 467.6 L465.1 469.3 L460.2 471.1 L455.0 473.0 L449.6 474.8 L444.0 476.6 L438.6 478.5 L433.3 480.3 L428.5 482.1 L424.1 483.9 L420.4 485.6 L417.4 487.4 L415.2 489.0 L413.9 490.7 L413.5 492.3 L415.3 531.2 L415.7 529.6 L417.0 528.0 L419.2 526.3 L422.2 524.6 L425.9 522.8 L430.3 521.1 L435.1 519.3 L440.4 517.4 L445.8 515.6 L451.4 513.8 L456.8 511.9 L462.1 510.1 L466.9 508.3 L471.3 506.5 L475.0 504.8 L478.0 503.0 L480.2 501.4 L481.5 499.7 L481.9 498.1Z" fill="url(#f9)" stroke="#4b55b5" stroke-width="1.15" stroke-linejoin="round"/><path d="M480.1 461.0 L479.7 462.6 L478.4 464.2 L476.3 465.9 L473.3 467.6 L469.5 469.4 L465.2 471.1 L460.3 472.9 L455.1 474.8 L449.6 476.6 L444.1 478.4 L438.6 480.3 L433.4 482.1 L428.5 483.9 L424.2 485.7 L420.5 487.4 L417.5 489.2 L415.3 490.8 L414.0 492.5 L413.6 494.1 M481.8 496.3 L481.4 497.9 L480.1 499.6 L477.9 501.2 L474.9 503.0 L471.2 504.7 L466.8 506.5 L462.0 508.3 L456.7 510.1 L451.3 512.0 L445.7 513.8 L440.3 515.6 L435.0 517.5 L430.2 519.3 L425.8 521.0 L422.1 522.8 L419.1 524.5 L416.9 526.2 L415.6 527.8 L415.2 529.4" fill="none" stroke="#f6f6f6" stroke-opacity="0.9" stroke-width="2.2"/><path d="M482.8 519.1 L482.4 520.7 L481.1 522.4 L478.8 524.1 L480.6 563.1 L482.9 561.4 L484.2 559.7 L484.6 558.1Z" fill="url(#f9)" stroke="#4b55b5" stroke-width="1.15" stroke-linejoin="round"/><path d="M482.9 520.9 L482.5 522.5 L481.1 524.2 L478.9 525.9 M484.6 556.3 L484.1 557.9 L482.8 559.6 L480.5 561.3" fill="none" stroke="#f6f6f6" stroke-opacity="0.9" stroke-width="2.2"/><linearGradient id="f10" gradientUnits="userSpaceOnUse" x1="319.0" y1="273.5" x2="405.0" y2="270.5"><stop offset="0" stop-color="#5e5e5e"/><stop offset="0.12" stop-color="#999"/><stop offset="0.35" stop-color="#cdcdcd"/><stop offset="0.6" stop-color="#e3e3e3"/><stop offset="0.85" stop-color="#d9d9d9"/><stop offset="0.95" stop-color="#a6a6a6"/><stop offset="1" stop-color="#666"/></linearGradient><linearGradient id="b10" gradientUnits="userSpaceOnUse" x1="319.0" y1="273.5" x2="405.0" y2="270.5"><stop offset="0" stop-color="#6a8286"/><stop offset="0.15" stop-color="#b8d6da"/><stop offset="0.45" stop-color="#d6eff3"/><stop offset="0.75" stop-color="#c8e4e8"/><stop offset="0.92" stop-color="#9ab8bc"/><stop offset="1" stop-color="#5a7276"/></linearGradient><path d="M318.6 261.3 L319.3 262.9 L321.0 264.4 L324.0 265.9 L327.9 267.3 L332.7 268.7 L338.4 270.1 L344.7 271.5 L351.5 272.8 L358.5 274.2 L365.7 275.5 L372.7 276.9 L379.5 278.2 L385.8 279.6 L391.4 281.0 L396.3 282.4 L400.2 283.8 L403.1 285.3 L404.9 286.8 L405.6 288.4 L406.9 327.4 L406.3 325.8 L404.5 324.3 L401.6 322.8 L397.6 321.4 L392.8 320.0 L387.1 318.6 L380.8 317.2 L374.0 315.8 L367.0 314.5 L359.8 313.2 L352.8 311.8 L346.0 310.5 L339.7 309.1 L334.1 307.7 L329.2 306.3 L325.3 304.9 L322.4 303.4 L320.6 301.9 L319.9 300.3Z" fill="url(#b10)" stroke="#4b55b5" stroke-width="1.15" stroke-linejoin="round"/><path d="M320.6 321.3 L321.3 322.8 L323.1 324.4 L326.0 325.8 L329.9 327.3 L334.8 328.7 L340.4 330.1 L346.7 331.5 L353.5 332.8 L360.6 334.2 L367.7 335.5 L374.8 336.8 L381.5 338.2 L387.8 339.6 L393.5 340.9 L398.3 342.4 L402.3 343.8 L405.2 345.3 L407.0 346.8 L407.6 348.4 L408.9 387.3 L408.3 385.8 L406.5 384.3 L403.6 382.8 L399.7 381.3 L394.8 379.9 L389.1 378.5 L382.8 377.2 L376.1 375.8 L369.0 374.5 L361.9 373.1 L354.8 371.8 L348.1 370.4 L341.8 369.1 L336.1 367.7 L331.2 366.3 L327.3 364.8 L324.4 363.3 L322.6 361.8 L322.0 360.3Z" fill="url(#b10)" stroke="#4b55b5" stroke-width="1.15" stroke-linejoin="round"/><path d="M322.7 381.3 L323.3 382.8 L325.1 384.3 L328.0 385.8 L332.0 387.3 L336.8 388.7 L342.5 390.1 L348.8 391.4 L355.5 392.8 L362.6 394.1 L369.7 395.5 L376.8 396.8 L383.6 398.1 L389.9 399.5 L395.5 400.9 L400.4 402.3 L404.3 403.8 L407.2 405.2 L409.0 406.8 L409.6 408.3 L411.0 447.3 L410.3 445.7 L408.5 444.2 L405.6 442.7 L401.7 441.3 L396.8 439.9 L391.2 438.5 L384.9 437.1 L378.1 435.8 L371.1 434.4 L363.9 433.1 L356.9 431.8 L350.1 430.4 L343.8 429.0 L338.1 427.7 L333.3 426.2 L329.3 424.8 L326.4 423.3 L324.6 421.8 L324.0 420.2Z" fill="url(#b10)" stroke="#4b55b5" stroke-width="1.15" stroke-linejoin="round"/><path d="M324.7 441.2 L325.4 442.8 L327.1 444.3 L330.1 445.8 L334.0 447.2 L338.8 448.6 L344.5 450.0 L350.8 451.4 L357.6 452.7 L364.6 454.1 L371.8 455.4 L378.8 456.8 L385.6 458.1 L391.9 459.5 L397.5 460.9 L402.4 462.3 L406.3 463.7 L409.2 465.2 L411.0 466.7 L411.7 468.3 L413.0 507.3 L412.4 505.7 L410.6 504.2 L407.7 502.7 L403.7 501.3 L398.9 499.8 L393.2 498.5 L386.9 497.1 L380.1 495.7 L373.1 494.4 L365.9 493.1 L358.9 491.7 L352.1 490.4 L345.8 489.0 L340.2 487.6 L335.3 486.2 L331.4 484.8 L328.5 483.3 L326.7 481.8 L326.0 480.2Z" fill="url(#b10)" stroke="#4b55b5" stroke-width="1.15" stroke-linejoin="round"/><path d="M326.7 501.2 L327.4 502.7 L329.2 504.3 L332.1 505.7 L336.0 507.2 L340.9 508.6 L346.5 510.0 L352.8 511.4 L359.6 512.7 L366.7 514.1 L373.8 515.4 L380.9 516.7 L387.6 518.1 L393.9 519.4 L399.6 520.8 L404.4 522.3 L408.4 523.7 L411.3 525.2 L413.1 526.7 L413.7 528.3 L415.0 567.2 L414.4 565.7 L412.6 564.2 L409.7 562.7 L405.8 561.2 L400.9 559.8 L395.2 558.4 L388.9 557.1 L382.2 555.7 L375.1 554.4 L368.0 553.0 L360.9 551.7 L354.2 550.3 L347.9 549.0 L342.2 547.6 L337.3 546.2 L333.4 544.7 L330.5 543.2 L328.7 541.7 L328.1 540.2Z" fill="url(#b10)" stroke="#4b55b5" stroke-width="1.15" stroke-linejoin="round"/><path d="M328.8 561.2 L329.4 562.7 L331.2 564.2 L334.1 565.7 L338.1 567.2 L342.9 568.6 L348.6 570.0 L354.9 571.3 L361.6 572.7 L368.7 574.0 L375.8 575.4 L382.9 576.7 L389.7 578.0 L396.0 579.4 L401.6 580.8 L406.5 582.2 L410.4 583.7 L413.3 585.1 L415.1 586.7 L415.7 588.2 L417.1 627.2 L416.4 625.6 L414.6 624.1 L411.7 622.6 L407.8 621.2 L402.9 619.8 L397.3 618.4 L391.0 617.0 L384.2 615.7 L377.2 614.3 L370.0 613.0 L363.0 611.7 L356.2 610.3 L349.9 608.9 L344.2 607.5 L339.4 606.1 L335.4 604.7 L332.5 603.2 L330.7 601.7 L330.1 600.1Z" fill="url(#b10)" stroke="#4b55b5" stroke-width="1.15" stroke-linejoin="round"/><path d="M330.8 621.1 L331.4 622.7 L333.2 624.2 L336.1 625.7 L340.1 627.1 L344.9 628.5 L350.6 629.9 L356.9 631.3 L363.7 632.6 L370.7 634.0 L377.9 635.3 L384.9 636.7 L391.7 638.0 L398.0 639.4 L403.6 640.8 L408.5 642.2 L412.4 643.6 L415.3 645.1 L417.1 646.6 L417.8 648.2 L419.1 687.2 L418.5 685.6 L416.7 684.1 L413.8 682.6 L409.8 681.2 L405.0 679.7 L399.3 678.4 L393.0 677.0 L386.2 675.6 L379.2 674.3 L372.0 673.0 L365.0 671.6 L358.2 670.3 L351.9 668.9 L346.3 667.5 L341.4 666.1 L337.5 664.7 L334.6 663.2 L332.8 661.7 L332.1 660.1Z" fill="url(#b10)" stroke="#4b55b5" stroke-width="1.15" stroke-linejoin="round"/><path d="M332.8 681.1 L333.5 682.6 L335.3 684.2 L338.2 685.6 L342.1 687.1 L347.0 688.5 L352.6 689.9 L358.9 691.3 L365.7 692.6 L372.8 693.9 L379.9 695.3 L387.0 696.6 L393.7 698.0 L400.0 699.3 L405.7 700.7 L410.5 702.1 L414.5 703.6 L417.4 705.1 L419.2 706.6 L419.8 708.2 L421.1 747.1 L420.5 745.6 L418.7 744.1 L415.8 742.6 L411.9 741.1 L407.0 739.7 L401.3 738.3 L395.0 737.0 L388.3 735.6 L381.2 734.3 L374.1 732.9 L367.0 731.6 L360.3 730.2 L354.0 728.9 L348.3 727.5 L343.4 726.1 L339.5 724.6 L336.6 723.1 L334.8 721.6 L334.2 720.1Z" fill="url(#b10)" stroke="#4b55b5" stroke-width="1.15" stroke-linejoin="round"/><path d="M334.9 741.0 L335.5 742.6 L337.3 744.1 L340.2 745.6 L344.2 747.1 L349.0 748.5 L354.7 749.9 L361.0 751.2 L367.7 752.6 L374.8 753.9 L381.9 755.3 L389.0 756.6 L395.8 757.9 L402.1 759.3 L407.7 760.7 L412.6 762.1 L416.5 763.6 L419.4 765.0 L421.2 766.6 L421.8 768.1 L423.2 807.1 L422.5 805.5 L420.7 804.0 L417.8 802.5 L413.9 801.1 L409.0 799.7 L403.4 798.3 L397.1 796.9 L390.3 795.6 L383.3 794.2 L376.1 792.9 L369.0 791.6 L362.3 790.2 L356.0 788.8 L350.3 787.4 L345.5 786.0 L341.5 784.6 L338.6 783.1 L336.8 781.6 L336.2 780.0Z" fill="url(#b10)" stroke="#4b55b5" stroke-width="1.15" stroke-linejoin="round"/><path d="M336.9 801.0 L337.5 802.6 L339.3 804.1 L342.2 805.6 L346.2 807.0 L351.0 808.4 L356.7 809.8 L363.0 811.2 L369.8 812.5 L376.8 813.9 L384.0 815.2 L391.0 816.6 L397.8 817.9 L404.1 819.3 L409.7 820.7 L414.6 822.1 L418.5 823.5 L421.4 825.0 L423.2 826.5 L423.9 828.1 L425.2 867.1 L424.6 865.5 L422.8 864.0 L419.9 862.5 L415.9 861.1 L411.1 859.6 L405.4 858.3 L399.1 856.9 L392.3 855.5 L385.3 854.2 L378.1 852.9 L371.1 851.5 L364.3 850.2 L358.0 848.8 L352.4 847.4 L347.5 846.0 L343.6 844.6 L340.7 843.1 L338.9 841.6 L338.2 840.0Z" fill="url(#b10)" stroke="#4b55b5" stroke-width="1.15" stroke-linejoin="round"/><path d="M330.5 253.6 L325.4 255.6 L321.6 257.5 L319.3 259.5 L318.6 261.3 L319.9 300.3 L320.7 298.4 L323.0 296.5 L326.7 294.5 L331.8 292.5Z" fill="url(#f10)" stroke="#4b55b5" stroke-width="1.15" stroke-linejoin="round"/><path d="M330.6 255.4 L325.5 257.4 L321.7 259.3 L319.4 261.3 L318.7 263.1 M331.8 290.7 L326.7 292.7 L322.9 294.7 L320.6 296.6 L319.9 298.5" fill="none" stroke="#f6f6f6" stroke-opacity="0.9" stroke-width="2.2"/><path d="M405.6 288.4 L405.0 290.0 L403.4 291.6 L400.6 293.3 L396.7 295.0 L392.0 296.8 L386.4 298.5 L380.2 300.3 L373.6 302.1 L366.6 303.9 L359.6 305.8 L352.6 307.6 L346.0 309.4 L339.8 311.2 L334.2 312.9 L329.5 314.7 L325.7 316.4 L322.9 318.1 L321.2 319.7 L320.6 321.3 L322.0 360.3 L322.5 358.7 L324.2 357.0 L327.0 355.4 L330.8 353.6 L335.6 351.9 L341.1 350.1 L347.3 348.3 L354.0 346.5 L360.9 344.7 L368.0 342.9 L374.9 341.1 L381.6 339.3 L387.8 337.5 L393.3 335.7 L398.1 334.0 L401.9 332.3 L404.7 330.6 L406.4 329.0 L406.9 327.4Z" fill="url(#f10)" stroke="#4b55b5" stroke-width="1.15" stroke-linejoin="round"/><path d="M405.6 290.2 L405.1 291.8 L403.4 293.4 L400.6 295.1 L396.8 296.8 L392.0 298.6 L386.5 300.3 L380.3 302.1 L373.6 303.9 L366.7 305.7 L359.7 307.5 L352.7 309.4 L346.0 311.2 L339.9 313.0 L334.3 314.7 L329.6 316.5 L325.7 318.2 L322.9 319.9 L321.2 321.5 L320.7 323.1 M406.8 325.6 L406.3 327.2 L404.6 328.8 L401.8 330.5 L398.0 332.2 L393.2 333.9 L387.7 335.7 L381.5 337.5 L374.8 339.3 L367.9 341.1 L360.9 342.9 L353.9 344.7 L347.2 346.6 L341.1 348.3 L335.5 350.1 L330.8 351.8 L326.9 353.6 L324.1 355.2 L322.4 356.9 L321.9 358.5" fill="none" stroke="#f6f6f6" stroke-opacity="0.9" stroke-width="2.2"/><path d="M407.6 348.4 L407.1 350.0 L405.4 351.6 L402.6 353.3 L398.8 355.0 L394.0 356.7 L388.5 358.5 L382.3 360.3 L375.6 362.1 L368.7 363.9 L361.6 365.7 L354.7 367.5 L348.0 369.3 L341.8 371.1 L336.3 372.9 L331.5 374.6 L327.7 376.3 L324.9 378.0 L323.2 379.7 L322.7 381.3 L324.0 420.2 L324.5 418.6 L326.2 417.0 L329.0 415.3 L332.8 413.6 L337.6 411.9 L343.1 410.1 L349.3 408.3 L356.0 406.5 L362.9 404.7 L370.0 402.9 L376.9 401.1 L383.6 399.3 L389.8 397.5 L395.3 395.7 L400.1 394.0 L403.9 392.2 L406.7 390.6 L408.4 388.9 L408.9 387.3Z" fill="url(#f10)" stroke="#4b55b5" stroke-width="1.15" stroke-linejoin="round"/><path d="M407.7 350.2 L407.1 351.8 L405.5 353.4 L402.7 355.1 L398.8 356.8 L394.1 358.5 L388.5 360.3 L382.3 362.1 L375.7 363.9 L368.7 365.7 L361.7 367.5 L354.7 369.3 L348.1 371.1 L341.9 372.9 L336.3 374.7 L331.6 376.4 L327.8 378.1 L325.0 379.8 L323.3 381.5 L322.7 383.1 M408.9 385.5 L408.3 387.1 L406.7 388.8 L403.9 390.4 L400.0 392.2 L395.3 393.9 L389.7 395.7 L383.5 397.5 L376.9 399.3 L369.9 401.1 L362.9 402.9 L355.9 404.7 L349.3 406.5 L343.1 408.3 L337.5 410.1 L332.8 411.8 L329.0 413.5 L326.2 415.2 L324.5 416.8 L323.9 418.4" fill="none" stroke="#f6f6f6" stroke-opacity="0.9" stroke-width="2.2"/><path d="M409.6 408.3 L409.1 409.9 L407.4 411.6 L404.6 413.2 L400.8 414.9 L396.0 416.7 L390.5 418.5 L384.3 420.2 L377.6 422.0 L370.7 423.9 L363.7 425.7 L356.7 427.5 L350.0 429.3 L343.9 431.1 L338.3 432.9 L333.6 434.6 L329.7 436.3 L326.9 438.0 L325.2 439.6 L324.7 441.2 L326.0 480.2 L326.6 478.6 L328.3 477.0 L331.1 475.3 L334.9 473.6 L339.6 471.8 L345.2 470.1 L351.4 468.3 L358.0 466.5 L365.0 464.7 L372.0 462.8 L379.0 461.0 L385.6 459.2 L391.8 457.4 L397.4 455.7 L402.1 453.9 L405.9 452.2 L408.7 450.5 L410.4 448.9 L411.0 447.3Z" fill="url(#f10)" stroke="#4b55b5" stroke-width="1.15" stroke-linejoin="round"/><path d="M409.7 410.1 L409.2 411.7 L407.5 413.4 L404.7 415.0 L400.9 416.7 L396.1 418.5 L390.6 420.3 L384.4 422.0 L377.7 423.8 L370.8 425.7 L363.7 427.5 L356.8 429.3 L350.1 431.1 L343.9 432.9 L338.4 434.7 L333.6 436.4 L329.8 438.1 L327.0 439.8 L325.3 441.4 L324.8 443.0 M410.9 445.5 L410.4 447.1 L408.7 448.7 L405.9 450.4 L402.1 452.1 L397.3 453.9 L391.8 455.6 L385.6 457.4 L378.9 459.2 L372.0 461.0 L364.9 462.9 L358.0 464.7 L351.3 466.5 L345.1 468.3 L339.6 470.0 L334.8 471.8 L331.0 473.5 L328.2 475.2 L326.5 476.8 L326.0 478.4" fill="none" stroke="#f6f6f6" stroke-opacity="0.9" stroke-width="2.2"/><path d="M411.7 468.3 L411.1 469.9 L409.5 471.5 L406.7 473.2 L402.8 474.9 L398.1 476.7 L392.5 478.4 L386.3 480.2 L379.7 482.0 L372.7 483.8 L365.7 485.6 L358.7 487.5 L352.1 489.3 L345.9 491.1 L340.3 492.8 L335.6 494.6 L331.8 496.3 L329.0 498.0 L327.3 499.6 L326.7 501.2 L328.1 540.2 L328.6 538.6 L330.3 536.9 L333.1 535.3 L336.9 533.5 L341.7 531.8 L347.2 530.0 L353.4 528.2 L360.1 526.4 L367.0 524.6 L374.1 522.8 L381.0 521.0 L387.7 519.2 L393.9 517.4 L399.4 515.6 L404.2 513.9 L408.0 512.2 L410.8 510.5 L412.5 508.9 L413.0 507.3Z" fill="url(#f10)" stroke="#4b55b5" stroke-width="1.15" stroke-linejoin="round"/><path d="M411.7 470.1 L411.2 471.7 L409.5 473.3 L406.7 475.0 L402.9 476.7 L398.1 478.4 L392.6 480.2 L386.4 482.0 L379.7 483.8 L372.8 485.6 L365.8 487.4 L358.8 489.3 L352.1 491.1 L346.0 492.9 L340.4 494.6 L335.7 496.4 L331.8 498.1 L329.0 499.8 L327.3 501.4 L326.8 503.0 M412.9 505.5 L412.4 507.1 L410.7 508.7 L407.9 510.4 L404.1 512.1 L399.3 513.8 L393.8 515.6 L387.6 517.4 L380.9 519.2 L374.0 521.0 L366.9 522.8 L360.0 524.6 L353.3 526.4 L347.2 528.2 L341.6 530.0 L336.9 531.7 L333.0 533.5 L330.2 535.1 L328.5 536.8 L328.0 538.4" fill="none" stroke="#f6f6f6" stroke-opacity="0.9" stroke-width="2.2"/><path d="M413.7 528.3 L413.2 529.9 L411.5 531.5 L408.7 533.2 L404.9 534.9 L400.1 536.6 L394.6 538.4 L388.4 540.2 L381.7 542.0 L374.8 543.8 L367.7 545.6 L360.8 547.4 L354.1 549.2 L347.9 551.0 L342.4 552.8 L337.6 554.5 L333.8 556.2 L331.0 557.9 L329.3 559.6 L328.8 561.2 L330.1 600.1 L330.6 598.5 L332.3 596.9 L335.1 595.2 L338.9 593.5 L343.7 591.8 L349.2 590.0 L355.4 588.2 L362.1 586.4 L369.0 584.6 L376.1 582.8 L383.0 581.0 L389.7 579.2 L395.9 577.4 L401.4 575.6 L406.2 573.9 L410.0 572.1 L412.8 570.5 L414.5 568.8 L415.0 567.2Z" fill="url(#f10)" stroke="#4b55b5" stroke-width="1.15" stroke-linejoin="round"/><path d="M413.8 530.1 L413.2 531.7 L411.6 533.3 L408.8 535.0 L404.9 536.7 L400.2 538.4 L394.6 540.2 L388.4 542.0 L381.8 543.8 L374.8 545.6 L367.8 547.4 L360.8 549.2 L354.2 551.0 L348.0 552.8 L342.4 554.6 L337.7 556.3 L333.9 558.0 L331.1 559.7 L329.4 561.4 L328.8 563.0 M415.0 565.4 L414.4 567.0 L412.8 568.7 L410.0 570.3 L406.1 572.1 L401.4 573.8 L395.8 575.6 L389.6 577.4 L383.0 579.2 L376.0 581.0 L369.0 582.8 L362.0 584.6 L355.4 586.4 L349.2 588.2 L343.6 590.0 L338.9 591.7 L335.1 593.4 L332.3 595.1 L330.6 596.7 L330.0 598.3" fill="none" stroke="#f6f6f6" stroke-opacity="0.9" stroke-width="2.2"/><path d="M415.7 588.2 L415.2 589.8 L413.5 591.5 L410.7 593.1 L406.9 594.8 L402.1 596.6 L396.6 598.3 L390.4 600.1 L383.7 601.9 L376.8 603.8 L369.8 605.6 L362.8 607.4 L356.1 609.2 L350.0 611.0 L344.4 612.8 L339.7 614.5 L335.8 616.2 L333.0 617.9 L331.3 619.5 L330.8 621.1 L332.1 660.1 L332.7 658.5 L334.4 656.9 L337.2 655.2 L341.0 653.5 L345.7 651.7 L351.3 650.0 L357.5 648.2 L364.1 646.4 L371.1 644.6 L378.1 642.7 L385.1 640.9 L391.7 639.1 L397.9 637.3 L403.5 635.6 L408.2 633.8 L412.0 632.1 L414.8 630.4 L416.5 628.8 L417.1 627.2Z" fill="url(#f10)" stroke="#4b55b5" stroke-width="1.15" stroke-linejoin="round"/><path d="M415.8 590.0 L415.3 591.6 L413.6 593.3 L410.8 594.9 L407.0 596.6 L402.2 598.4 L396.7 600.1 L390.5 601.9 L383.8 603.7 L376.9 605.6 L369.8 607.4 L362.9 609.2 L356.2 611.0 L350.0 612.8 L344.5 614.6 L339.7 616.3 L335.9 618.0 L333.1 619.7 L331.4 621.3 L330.9 622.9 M417.0 625.4 L416.5 627.0 L414.8 628.6 L412.0 630.3 L408.2 632.0 L403.4 633.8 L397.9 635.5 L391.7 637.3 L385.0 639.1 L378.1 640.9 L371.0 642.8 L364.1 644.6 L357.4 646.4 L351.2 648.2 L345.7 649.9 L340.9 651.7 L337.1 653.4 L334.3 655.1 L332.6 656.7 L332.1 658.3" fill="none" stroke="#f6f6f6" stroke-opacity="0.9" stroke-width="2.2"/><path d="M417.8 648.2 L417.2 649.8 L415.6 651.4 L412.8 653.1 L408.9 654.8 L404.2 656.5 L398.6 658.3 L392.4 660.1 L385.8 661.9 L378.8 663.7 L371.8 665.5 L364.8 667.4 L358.2 669.2 L352.0 671.0 L346.4 672.7 L341.7 674.5 L337.9 676.2 L335.1 677.8 L333.4 679.5 L332.8 681.1 L334.2 720.1 L334.7 718.5 L336.4 716.8 L339.2 715.2 L343.0 713.4 L347.8 711.7 L353.3 709.9 L359.5 708.1 L366.2 706.3 L373.1 704.5 L380.2 702.7 L387.1 700.9 L393.8 699.1 L399.9 697.3 L405.5 695.5 L410.3 693.8 L414.1 692.1 L416.9 690.4 L418.6 688.8 L419.1 687.2Z" fill="url(#f10)" stroke="#4b55b5" stroke-width="1.15" stroke-linejoin="round"/><path d="M417.8 650.0 L417.3 651.6 L415.6 653.2 L412.8 654.9 L409.0 656.6 L404.2 658.3 L398.7 660.1 L392.5 661.9 L385.8 663.7 L378.9 665.5 L371.8 667.3 L364.9 669.2 L358.2 671.0 L352.1 672.8 L346.5 674.5 L341.8 676.3 L337.9 678.0 L335.1 679.6 L333.4 681.3 L332.9 682.9 M419.0 685.4 L418.5 687.0 L416.8 688.6 L414.0 690.3 L410.2 692.0 L405.4 693.7 L399.9 695.5 L393.7 697.3 L387.0 699.1 L380.1 700.9 L373.0 702.7 L366.1 704.5 L359.4 706.3 L353.3 708.1 L347.7 709.9 L343.0 711.6 L339.1 713.4 L336.3 715.0 L334.6 716.7 L334.1 718.3" fill="none" stroke="#f6f6f6" stroke-opacity="0.9" stroke-width="2.2"/><path d="M419.8 708.2 L419.3 709.8 L417.6 711.4 L414.8 713.1 L411.0 714.8 L406.2 716.5 L400.7 718.3 L394.5 720.1 L387.8 721.9 L380.9 723.7 L373.8 725.5 L366.9 727.3 L360.2 729.1 L354.0 730.9 L348.5 732.7 L343.7 734.4 L339.9 736.1 L337.1 737.8 L335.4 739.5 L334.9 741.0 L336.2 780.0 L336.7 778.4 L338.4 776.8 L341.2 775.1 L345.0 773.4 L349.8 771.7 L355.3 769.9 L361.5 768.1 L368.2 766.3 L375.1 764.5 L382.2 762.7 L389.1 760.9 L395.8 759.0 L402.0 757.3 L407.5 755.5 L412.3 753.7 L416.1 752.0 L418.9 750.4 L420.6 748.7 L421.1 747.1Z" fill="url(#f10)" stroke="#4b55b5" stroke-width="1.15" stroke-linejoin="round"/><path d="M419.9 710.0 L419.3 711.5 L417.6 713.2 L414.9 714.9 L411.0 716.6 L406.3 718.3 L400.7 720.1 L394.5 721.9 L387.9 723.7 L380.9 725.5 L373.9 727.3 L366.9 729.1 L360.3 730.9 L354.1 732.7 L348.5 734.5 L343.8 736.2 L340.0 737.9 L337.2 739.6 L335.5 741.2 L334.9 742.8 M421.1 745.3 L420.5 746.9 L418.8 748.6 L416.1 750.2 L412.2 752.0 L407.5 753.7 L401.9 755.5 L395.7 757.2 L389.1 759.1 L382.1 760.9 L375.1 762.7 L368.1 764.5 L361.5 766.3 L355.3 768.1 L349.7 769.9 L345.0 771.6 L341.2 773.3 L338.4 775.0 L336.7 776.6 L336.1 778.2" fill="none" stroke="#f6f6f6" stroke-opacity="0.9" stroke-width="2.2"/><path d="M421.8 768.1 L421.3 769.7 L419.6 771.4 L416.8 773.0 L413.0 774.7 L408.2 776.5 L402.7 778.2 L396.5 780.0 L389.8 781.8 L382.9 783.7 L375.9 785.5 L368.9 787.3 L362.2 789.1 L356.1 790.9 L350.5 792.7 L345.8 794.4 L341.9 796.1 L339.1 797.8 L337.4 799.4 L336.9 801.0 L338.2 840.0 L338.8 838.4 L340.5 836.8 L343.2 835.1 L347.1 833.4 L351.8 831.6 L357.4 829.9 L363.6 828.1 L370.2 826.3 L377.2 824.5 L384.2 822.6 L391.2 820.8 L397.8 819.0 L404.0 817.2 L409.6 815.5 L414.3 813.7 L418.1 812.0 L420.9 810.3 L422.6 808.7 L423.2 807.1Z" fill="url(#f10)" stroke="#4b55b5" stroke-width="1.15" stroke-linejoin="round"/><path d="M421.9 769.9 L421.4 771.5 L419.7 773.2 L416.9 774.8 L413.1 776.5 L408.3 778.3 L402.8 780.0 L396.6 781.8 L389.9 783.6 L383.0 785.5 L375.9 787.3 L369.0 789.1 L362.3 790.9 L356.1 792.7 L350.6 794.5 L345.8 796.2 L342.0 797.9 L339.2 799.6 L337.5 801.2 L337.0 802.8 M423.1 805.3 L422.6 806.9 L420.9 808.5 L418.1 810.2 L414.3 811.9 L409.5 813.7 L404.0 815.4 L397.8 817.2 L391.1 819.0 L384.2 820.8 L377.1 822.7 L370.2 824.5 L363.5 826.3 L357.3 828.1 L351.8 829.8 L347.0 831.6 L343.2 833.3 L340.4 835.0 L338.7 836.6 L338.2 838.2" fill="none" stroke="#f6f6f6" stroke-opacity="0.9" stroke-width="2.2"/><path d="M423.9 828.1 L423.3 829.7 L421.5 831.4 L418.6 833.1 L414.5 834.9 L409.6 836.7 L403.7 838.5 L397.3 840.3 L390.4 842.2 L391.7 881.2 L398.6 879.3 L405.1 877.5 L410.9 875.7 L415.9 873.9 L419.9 872.1 L422.8 870.4 L424.6 868.7 L425.2 867.1Z" fill="url(#f10)" stroke="#4b55b5" stroke-width="1.15" stroke-linejoin="round"/><path d="M423.9 829.9 L423.4 831.5 L421.6 833.2 L418.6 834.9 L414.6 836.7 L409.6 838.5 L403.8 840.3 L397.3 842.1 L390.4 844.0 M425.1 865.3 L424.6 866.9 L422.8 868.6 L419.8 870.3 L415.8 872.1 L410.8 873.9 L405.0 875.7 L398.5 877.5 L391.6 879.4" fill="none" stroke="#f6f6f6" stroke-opacity="0.9" stroke-width="2.2"/><linearGradient id="f11" gradientUnits="userSpaceOnUse" x1="539.1" y1="160.1" x2="612.9" y2="165.9"><stop offset="0" stop-color="#5e5e5e"/><stop offset="0.12" stop-color="#999"/><stop offset="0.35" stop-color="#cdcdcd"/><stop offset="0.6" stop-color="#e3e3e3"/><stop offset="0.85" stop-color="#d9d9d9"/><stop offset="0.95" stop-color="#a6a6a6"/><stop offset="1" stop-color="#666"/></linearGradient><linearGradient id="b11" gradientUnits="userSpaceOnUse" x1="539.1" y1="160.1" x2="612.9" y2="165.9"><stop offset="0" stop-color="#6a8286"/><stop offset="0.15" stop-color="#b8d6da"/><stop offset="0.45" stop-color="#d6eff3"/><stop offset="0.75" stop-color="#c8e4e8"/><stop offset="0.92" stop-color="#9ab8bc"/><stop offset="1" stop-color="#5a7276"/></linearGradient><path d="M539.6 153.7 L540.0 155.3 L541.4 157.0 L543.7 158.8 L546.9 160.6 L550.9 162.5 L555.6 164.5 L560.8 166.5 L566.5 168.5 L572.3 170.5 L578.3 172.6 L584.2 174.6 L589.8 176.7 L595.1 178.7 L599.8 180.6 L603.8 182.5 L607.0 184.3 L609.3 186.1 L610.7 187.8 L611.0 189.4 L608.0 228.3 L607.6 226.7 L606.3 225.0 L603.9 223.2 L600.7 221.4 L596.7 219.5 L592.0 217.5 L586.8 215.5 L581.2 213.5 L575.3 211.5 L569.3 209.4 L563.4 207.4 L557.8 205.4 L552.5 203.4 L547.9 201.4 L543.9 199.5 L540.6 197.7 L538.3 195.9 L537.0 194.2 L536.6 192.6Z" fill="url(#b11)" stroke="#4b55b5" stroke-width="1.15" stroke-linejoin="round"/><path d="M534.9 213.5 L535.3 215.2 L536.7 216.8 L539.0 218.6 L542.2 220.4 L546.2 222.3 L550.9 224.3 L556.1 226.3 L561.8 228.3 L567.7 230.4 L573.6 232.4 L579.5 234.5 L585.2 236.5 L590.4 238.5 L595.1 240.4 L599.1 242.3 L602.3 244.1 L604.6 245.9 L606.0 247.6 L606.4 249.2 L603.3 288.1 L603.0 286.5 L601.6 284.8 L599.3 283.0 L596.0 281.2 L592.0 279.3 L587.4 277.3 L582.1 275.4 L576.5 273.3 L570.6 271.3 L564.6 269.2 L558.7 267.2 L553.1 265.2 L547.9 263.2 L543.2 261.2 L539.2 259.3 L536.0 257.5 L533.6 255.7 L532.3 254.0 L531.9 252.4Z" fill="url(#b11)" stroke="#4b55b5" stroke-width="1.15" stroke-linejoin="round"/><path d="M530.3 273.4 L530.6 275.0 L532.0 276.7 L534.3 278.4 L537.5 280.3 L541.5 282.2 L546.2 284.1 L551.5 286.1 L557.1 288.1 L563.0 290.2 L569.0 292.2 L574.8 294.3 L580.5 296.3 L585.7 298.3 L590.4 300.2 L594.4 302.1 L597.6 304.0 L599.9 305.7 L601.3 307.4 L601.7 309.0 L598.7 347.9 L598.3 346.3 L596.9 344.6 L594.6 342.8 L591.4 341.0 L587.4 339.1 L582.7 337.2 L577.4 335.2 L571.8 333.1 L565.9 331.1 L560.0 329.1 L554.1 327.0 L548.4 325.0 L543.2 323.0 L538.5 321.0 L534.5 319.1 L531.3 317.3 L529.0 315.5 L527.6 313.9 L527.2 312.2Z" fill="url(#b11)" stroke="#4b55b5" stroke-width="1.15" stroke-linejoin="round"/><path d="M525.6 333.2 L526.0 334.8 L527.3 336.5 L529.7 338.2 L532.9 340.1 L536.9 342.0 L541.6 343.9 L546.8 345.9 L552.4 347.9 L558.3 350.0 L564.3 352.0 L570.2 354.1 L575.8 356.1 L581.0 358.1 L585.7 360.1 L589.7 361.9 L592.9 363.8 L595.3 365.6 L596.6 367.2 L597.0 368.9 L594.0 407.7 L593.6 406.1 L592.2 404.4 L589.9 402.7 L586.7 400.8 L582.7 398.9 L578.0 397.0 L572.8 395.0 L567.1 393.0 L561.2 390.9 L555.3 388.9 L549.4 386.8 L543.8 384.8 L538.5 382.8 L533.8 380.9 L529.8 379.0 L526.6 377.1 L524.3 375.4 L522.9 373.7 L522.5 372.1Z" fill="url(#b11)" stroke="#4b55b5" stroke-width="1.15" stroke-linejoin="round"/><path d="M520.9 393.0 L521.3 394.6 L522.7 396.3 L525.0 398.1 L528.2 399.9 L532.2 401.8 L536.9 403.7 L542.1 405.7 L547.8 407.8 L553.6 409.8 L559.6 411.9 L565.5 413.9 L571.1 415.9 L576.4 417.9 L581.1 419.9 L585.1 421.8 L588.3 423.6 L590.6 425.4 L592.0 427.1 L592.3 428.7 L589.3 467.6 L588.9 465.9 L587.6 464.2 L585.2 462.5 L582.0 460.6 L578.0 458.8 L573.3 456.8 L568.1 454.8 L562.5 452.8 L556.6 450.7 L550.6 448.7 L544.7 446.6 L539.1 444.6 L533.8 442.6 L529.2 440.7 L525.2 438.8 L521.9 436.9 L519.6 435.2 L518.2 433.5 L517.9 431.9Z" fill="url(#b11)" stroke="#4b55b5" stroke-width="1.15" stroke-linejoin="round"/><path d="M570.2 143.0 L564.0 144.1 L558.2 145.3 L553.0 146.6 L548.5 147.9 L544.8 149.2 L542.0 150.6 L540.3 152.1 L539.6 153.7 L536.6 192.6 L537.2 191.0 L539.0 189.5 L541.7 188.1 L545.4 186.7 L549.9 185.4 L555.2 184.2 L561.0 183.0 L567.2 181.9Z" fill="url(#f11)" stroke="#4b55b5" stroke-width="1.15" stroke-linejoin="round"/><path d="M570.1 144.8 L563.9 145.9 L558.1 147.1 L552.8 148.4 L548.3 149.6 L544.6 151.0 L541.9 152.4 L540.1 153.9 L539.5 155.5 M567.3 180.1 L561.1 181.2 L555.3 182.4 L550.1 183.7 L545.6 184.9 L541.9 186.3 L539.1 187.7 L537.4 189.2 L536.7 190.8" fill="none" stroke="#f6f6f6" stroke-opacity="0.9" stroke-width="2.2"/><path d="M611.0 189.4 L610.4 190.9 L608.8 192.4 L606.2 193.8 L602.8 195.1 L598.5 196.3 L593.6 197.5 L588.1 198.7 L582.2 199.8 L576.1 200.9 L569.9 202.0 L563.8 203.1 L557.9 204.2 L552.4 205.4 L547.5 206.6 L543.2 207.9 L539.8 209.2 L537.2 210.6 L535.6 212.0 L534.9 213.5 L531.9 252.4 L532.5 250.9 L534.1 249.4 L536.7 248.0 L540.2 246.7 L544.4 245.5 L549.3 244.3 L554.8 243.1 L560.7 242.0 L566.8 240.9 L573.1 239.8 L579.2 238.7 L585.1 237.6 L590.6 236.4 L595.5 235.2 L599.7 234.0 L603.2 232.7 L605.8 231.3 L607.4 229.8 L608.0 228.3Z" fill="url(#f11)" stroke="#4b55b5" stroke-width="1.15" stroke-linejoin="round"/><path d="M610.9 191.2 L610.3 192.7 L608.7 194.2 L606.1 195.6 L602.6 196.9 L598.4 198.1 L593.5 199.3 L588.0 200.5 L582.1 201.6 L576.0 202.7 L569.7 203.8 L563.6 204.9 L557.7 206.0 L552.2 207.2 L547.3 208.4 L543.1 209.6 L539.6 211.0 L537.0 212.3 L535.4 213.8 L534.8 215.3 M608.1 226.5 L607.5 228.0 L605.9 229.5 L603.3 230.9 L599.9 232.2 L595.6 233.4 L590.7 234.6 L585.2 235.8 L579.3 236.9 L573.2 238.0 L567.0 239.1 L560.9 240.2 L555.0 241.3 L549.5 242.5 L544.6 243.7 L540.3 244.9 L536.9 246.3 L534.3 247.6 L532.7 249.1 L532.0 250.6" fill="none" stroke="#f6f6f6" stroke-opacity="0.9" stroke-width="2.2"/><path d="M606.4 249.2 L605.7 250.8 L604.1 252.2 L601.6 253.6 L598.1 254.9 L593.9 256.2 L588.9 257.4 L583.4 258.5 L577.6 259.6 L571.4 260.7 L565.2 261.8 L559.1 262.9 L553.2 264.1 L547.7 265.2 L542.8 266.4 L538.5 267.7 L535.1 269.0 L532.5 270.4 L530.9 271.8 L530.3 273.4 L527.2 312.2 L527.8 310.7 L529.5 309.3 L532.0 307.9 L535.5 306.6 L539.7 305.3 L544.7 304.1 L550.2 302.9 L556.0 301.8 L562.2 300.7 L568.4 299.6 L574.5 298.5 L580.4 297.4 L585.9 296.2 L590.8 295.0 L595.1 293.8 L598.5 292.5 L601.1 291.1 L602.7 289.6 L603.3 288.1Z" fill="url(#f11)" stroke="#4b55b5" stroke-width="1.15" stroke-linejoin="round"/><path d="M606.2 251.0 L605.6 252.5 L604.0 254.0 L601.4 255.4 L598.0 256.7 L593.7 258.0 L588.8 259.2 L583.3 260.3 L577.4 261.4 L571.3 262.5 L565.1 263.6 L558.9 264.7 L553.1 265.9 L547.6 267.0 L542.6 268.2 L538.4 269.5 L534.9 270.8 L532.4 272.2 L530.7 273.6 L530.1 275.2 M603.5 286.3 L602.8 287.8 L601.2 289.3 L598.7 290.7 L595.2 292.0 L591.0 293.2 L586.0 294.4 L580.5 295.6 L574.7 296.7 L568.5 297.8 L562.3 298.9 L556.2 300.0 L550.3 301.2 L544.8 302.3 L539.9 303.5 L535.6 304.8 L532.2 306.1 L529.6 307.5 L528.0 308.9 L527.4 310.4" fill="none" stroke="#f6f6f6" stroke-opacity="0.9" stroke-width="2.2"/><path d="M601.7 309.0 L601.1 310.6 L599.5 312.0 L596.9 313.4 L593.4 314.7 L589.2 316.0 L584.2 317.2 L578.8 318.3 L572.9 319.5 L566.7 320.6 L560.5 321.7 L554.4 322.8 L548.5 323.9 L543.0 325.0 L538.1 326.2 L533.9 327.5 L530.4 328.8 L527.8 330.2 L526.2 331.6 L525.6 333.2 L522.5 372.1 L523.2 370.5 L524.8 369.1 L527.4 367.7 L530.8 366.4 L535.1 365.1 L540.0 363.9 L545.5 362.8 L551.4 361.6 L557.5 360.5 L563.7 359.4 L569.8 358.3 L575.7 357.2 L581.2 356.1 L586.1 354.9 L590.4 353.6 L593.8 352.3 L596.4 350.9 L598.0 349.5 L598.7 347.9Z" fill="url(#f11)" stroke="#4b55b5" stroke-width="1.15" stroke-linejoin="round"/><path d="M601.6 310.8 L600.9 312.4 L599.3 313.8 L596.7 315.2 L593.3 316.5 L589.0 317.8 L584.1 319.0 L578.6 320.1 L572.7 321.2 L566.6 322.4 L560.4 323.5 L554.3 324.6 L548.4 325.7 L542.9 326.8 L538.0 328.0 L533.7 329.3 L530.3 330.6 L527.7 332.0 L526.1 333.4 L525.4 335.0 M598.8 346.1 L598.2 347.7 L596.6 349.1 L594.0 350.5 L590.5 351.8 L586.3 353.1 L581.3 354.3 L575.9 355.4 L570.0 356.5 L563.8 357.6 L557.6 358.7 L551.5 359.8 L545.6 361.0 L540.1 362.1 L535.2 363.3 L531.0 364.6 L527.5 365.9 L524.9 367.3 L523.3 368.7 L522.7 370.3" fill="none" stroke="#f6f6f6" stroke-opacity="0.9" stroke-width="2.2"/><path d="M597.0 368.9 L596.4 370.4 L594.8 371.8 L592.2 373.2 L588.7 374.5 L584.5 375.8 L579.6 377.0 L574.1 378.1 L568.2 379.3 L562.1 380.4 L555.9 381.5 L549.7 382.6 L543.8 383.7 L538.4 384.9 L533.4 386.1 L529.2 387.3 L525.7 388.6 L523.2 390.0 L521.5 391.5 L520.9 393.0 L517.9 431.9 L518.5 430.3 L520.1 428.9 L522.7 427.5 L526.1 426.2 L530.4 424.9 L535.3 423.7 L540.8 422.6 L546.7 421.5 L552.8 420.4 L559.0 419.3 L565.2 418.2 L571.0 417.0 L576.5 415.9 L581.5 414.7 L585.7 413.4 L589.2 412.1 L591.7 410.7 L593.4 409.3 L594.0 407.7Z" fill="url(#f11)" stroke="#4b55b5" stroke-width="1.15" stroke-linejoin="round"/><path d="M596.9 370.6 L596.3 372.2 L594.6 373.6 L592.1 375.0 L588.6 376.3 L584.4 377.6 L579.4 378.8 L573.9 379.9 L568.1 381.1 L561.9 382.2 L555.7 383.3 L549.6 384.4 L543.7 385.5 L538.2 386.7 L533.3 387.9 L529.0 389.1 L525.6 390.4 L523.0 391.8 L521.4 393.3 L520.8 394.8 M594.1 405.9 L593.5 407.5 L591.9 408.9 L589.3 410.3 L585.9 411.6 L581.6 412.9 L576.7 414.1 L571.2 415.2 L565.3 416.4 L559.2 417.5 L553.0 418.6 L546.8 419.7 L540.9 420.8 L535.5 421.9 L530.5 423.1 L526.3 424.4 L522.8 425.7 L520.3 427.1 L518.6 428.5 L518.0 430.1" fill="none" stroke="#f6f6f6" stroke-opacity="0.9" stroke-width="2.2"/><path d="M592.3 428.7 L591.7 430.2 L590.2 431.6 L587.7 433.0 L584.3 434.3 L580.2 435.5 L575.4 436.7 L570.1 437.8 L564.3 438.9 L558.3 440.0 L552.2 441.1 L546.1 442.2 L540.3 443.3 L534.8 444.4 L529.8 445.6 L525.5 446.8 L521.9 448.1 L518.8 487.0 L522.4 485.7 L526.8 484.5 L531.8 483.3 L537.3 482.2 L543.1 481.1 L549.2 480.0 L555.3 478.9 L561.3 477.8 L567.0 476.7 L572.4 475.6 L577.2 474.4 L581.3 473.2 L584.6 471.9 L587.1 470.5 L588.7 469.1 L589.3 467.6Z" fill="url(#f11)" stroke="#4b55b5" stroke-width="1.15" stroke-linejoin="round"/><path d="M592.2 430.5 L591.6 432.0 L590.0 433.4 L587.5 434.8 L584.2 436.1 L580.1 437.3 L575.3 438.5 L569.9 439.6 L564.2 440.7 L558.2 441.8 L552.1 442.9 L546.0 444.0 L540.2 445.1 L534.7 446.2 L529.7 447.4 L525.3 448.6 L521.7 449.9 M589.4 465.8 L588.8 467.3 L587.3 468.7 L584.8 470.1 L581.4 471.4 L577.3 472.6 L572.5 473.8 L567.2 474.9 L561.4 476.0 L555.4 477.1 L549.3 478.2 L543.2 479.3 L537.4 480.4 L531.9 481.5 L526.9 482.7 L522.6 483.9 L519.0 485.2" fill="none" stroke="#f6f6f6" stroke-opacity="0.9" stroke-width="2.2"/><linearGradient id="f12" gradientUnits="userSpaceOnUse" x1="523.7" y1="717.5" x2="492.3" y2="666.5"><stop offset="0" stop-color="#5e5e5e"/><stop offset="0.12" stop-color="#999"/><stop offset="0.35" stop-color="#cdcdcd"/><stop offset="0.6" stop-color="#e3e3e3"/><stop offset="0.85" stop-color="#d9d9d9"/><stop offset="0.95" stop-color="#a6a6a6"/><stop offset="1" stop-color="#666"/></linearGradient><linearGradient id="b12" gradientUnits="userSpaceOnUse" x1="523.7" y1="717.5" x2="492.3" y2="666.5"><stop offset="0" stop-color="#6a8286"/><stop offset="0.15" stop-color="#b8d6da"/><stop offset="0.45" stop-color="#d6eff3"/><stop offset="0.75" stop-color="#c8e4e8"/><stop offset="0.92" stop-color="#9ab8bc"/><stop offset="1" stop-color="#5a7276"/></linearGradient><path d="M520.8 719.4 L521.9 718.2 L522.5 716.4 L522.8 713.9 L522.6 710.8 L522.2 707.1 L521.4 703.0 L520.4 698.5 L519.3 693.7 L518.0 688.7 L516.7 683.7 L515.4 678.8 L514.3 674.0 L513.3 669.5 L512.5 665.3 L512.1 661.7 L512.0 658.6 L512.2 656.1 L512.9 654.2 L514.0 653.1 L544.6 634.2 L543.5 635.3 L542.9 637.2 L542.6 639.7 L542.7 642.8 L543.2 646.4 L543.9 650.6 L544.9 655.1 L546.1 659.9 L547.4 664.8 L548.7 669.8 L549.9 674.8 L551.1 679.6 L552.1 684.1 L552.8 688.2 L553.3 691.9 L553.4 695.0 L553.2 697.5 L552.5 699.3 L551.4 700.5Z" fill="url(#b12)" stroke="#4b55b5" stroke-width="1.15" stroke-linejoin="round"/><path d="M570.1 688.9 L571.2 687.8 L571.9 685.9 L572.1 683.4 L572.0 680.3 L571.5 676.7 L570.8 672.6 L569.8 668.0 L568.6 663.3 L567.4 658.3 L566.1 653.3 L564.8 648.3 L563.7 643.5 L562.7 639.0 L561.9 634.9 L561.4 631.2 L561.3 628.1 L561.6 625.6 L562.2 623.8 L563.3 622.6 L594.0 603.7 L592.9 604.9 L592.2 606.7 L592.0 609.2 L592.1 612.3 L592.6 616.0 L593.3 620.1 L594.3 624.6 L595.5 629.4 L596.7 634.4 L598.0 639.4 L599.3 644.4 L600.5 649.1 L601.4 653.7 L602.2 657.8 L602.7 661.4 L602.8 664.6 L602.5 667.0 L601.9 668.9 L600.8 670.0Z" fill="url(#b12)" stroke="#4b55b5" stroke-width="1.15" stroke-linejoin="round"/><path d="M619.5 658.5 L620.7 657.1 L621.4 654.8 L621.5 651.7 L621.2 647.8 L620.4 643.3 L619.3 638.2 L650.0 619.3 L651.0 624.4 L651.8 628.9 L652.1 632.8 L652.0 635.9 L651.4 638.2 L650.1 639.6Z" fill="url(#b12)" stroke="#4b55b5" stroke-width="1.15" stroke-linejoin="round"/><path d="M492.7 701.4 L496.8 705.0 L500.8 708.5 L504.7 711.7 L508.3 714.5 L511.6 716.8 L514.5 718.5 L517.1 719.5 L519.2 719.8 L520.8 719.4 L551.4 700.5 L549.8 700.9 L547.7 700.6 L545.2 699.6 L542.2 697.9 L538.9 695.6 L535.3 692.8 L531.4 689.6 L527.4 686.1 L523.3 682.6Z" fill="url(#f12)" stroke="#4b55b5" stroke-width="1.15" stroke-linejoin="round"/><path d="M494.2 700.5 L498.3 704.1 L502.3 707.5 L506.2 710.7 L509.8 713.5 L513.1 715.8 L516.1 717.5 L518.6 718.6 L520.7 718.9 L522.3 718.4 M521.8 683.5 L525.9 687.1 L529.9 690.5 L533.8 693.7 L537.4 696.5 L540.7 698.8 L543.7 700.5 L546.2 701.6 L548.3 701.9 L549.9 701.4" fill="none" stroke="#f6f6f6" stroke-opacity="0.9" stroke-width="2.2"/><path d="M514.0 653.1 L515.5 652.6 L517.4 652.9 L519.8 653.8 L522.5 655.3 L525.5 657.3 L528.9 659.8 L532.5 662.7 L536.2 665.9 L540.1 669.3 L544.0 672.7 L547.9 676.1 L551.6 679.3 L555.2 682.2 L558.6 684.7 L561.6 686.7 L564.3 688.3 L566.7 689.1 L568.6 689.4 L570.1 688.9 L600.8 670.0 L599.3 670.5 L597.3 670.3 L595.0 669.4 L592.3 667.9 L589.2 665.8 L585.8 663.3 L582.3 660.4 L578.5 657.2 L574.6 653.8 L570.7 650.4 L566.9 647.0 L563.1 643.9 L559.5 640.9 L556.2 638.4 L553.1 636.4 L550.4 634.9 L548.1 634.0 L546.1 633.7 L544.6 634.2Z" fill="url(#f12)" stroke="#4b55b5" stroke-width="1.15" stroke-linejoin="round"/><path d="M515.5 652.1 L517.0 651.7 L518.9 651.9 L521.3 652.8 L524.0 654.3 L527.1 656.4 L530.4 658.9 L534.0 661.8 L537.8 665.0 L541.6 668.4 L545.5 671.8 L549.4 675.1 L553.2 678.3 L556.7 681.2 L560.1 683.7 L563.2 685.8 L565.9 687.3 L568.2 688.2 L570.2 688.4 L571.7 688.0 M543.1 635.1 L544.6 634.7 L546.5 634.9 L548.9 635.8 L551.6 637.3 L554.6 639.4 L558.0 641.9 L561.6 644.8 L565.3 648.0 L569.2 651.3 L573.1 654.8 L577.0 658.1 L580.7 661.3 L584.3 664.2 L587.7 666.7 L590.7 668.8 L593.5 670.3 L595.8 671.2 L597.7 671.4 L599.2 671.0" fill="none" stroke="#f6f6f6" stroke-opacity="0.9" stroke-width="2.2"/><path d="M563.3 622.6 L564.8 622.2 L566.8 622.4 L569.1 623.3 L571.8 624.8 L574.9 626.9 L578.3 629.4 L581.8 632.3 L585.6 635.5 L589.5 638.9 L593.4 642.3 L597.2 645.6 L601.0 648.8 L604.6 651.7 L607.9 654.3 L611.0 656.3 L613.7 657.8 L616.1 658.7 L618.0 658.9 L619.5 658.5 L650.1 639.6 L648.6 640.0 L646.7 639.8 L644.4 638.9 L641.6 637.4 L638.6 635.4 L635.2 632.8 L631.6 629.9 L627.9 626.7 L624.0 623.4 L620.1 620.0 L616.2 616.6 L612.5 613.4 L608.9 610.5 L605.5 608.0 L602.5 605.9 L599.8 604.4 L597.4 603.5 L595.5 603.3 L594.0 603.7Z" fill="url(#f12)" stroke="#4b55b5" stroke-width="1.15" stroke-linejoin="round"/><path d="M564.9 621.7 L566.4 621.2 L568.3 621.5 L570.7 622.4 L573.4 623.9 L576.4 625.9 L579.8 628.5 L583.4 631.4 L587.1 634.5 L591.0 637.9 L594.9 641.3 L598.8 644.7 L602.5 647.9 L606.1 650.8 L609.5 653.3 L612.5 655.4 L615.2 656.9 L617.6 657.8 L619.5 658.0 L621.0 657.5 M592.4 604.7 L594.0 604.2 L595.9 604.5 L598.2 605.4 L601.0 606.9 L604.0 608.9 L607.4 611.4 L611.0 614.4 L614.7 617.5 L618.6 620.9 L622.5 624.3 L626.3 627.7 L630.1 630.9 L633.7 633.8 L637.0 636.3 L640.1 638.4 L642.8 639.9 L645.2 640.8 L647.1 641.0 L648.6 640.5" fill="none" stroke="#f6f6f6" stroke-opacity="0.9" stroke-width="2.2"/><path d="M358 318 C345 326 334 336 328 352 C322 368 324 385 332 398" fill="none" stroke="#4b55b5" stroke-width="8.3" stroke-linecap="round" stroke-linejoin="round"/><path d="M358 318 C345 326 334 336 328 352 C322 368 324 385 332 398" fill="none" stroke="#a9a9a9" stroke-width="6.5" stroke-linecap="round" stroke-linejoin="round"/><path d="M358 318 C345 326 334 336 328 352 C322 368 324 385 332 398" fill="none" stroke="#f4f4f4" stroke-width="2.9250000000000003" stroke-linecap="round" stroke-linejoin="round"/><path d="M495 318 C505 326 512 340 506 352 C500 360 488 362 478 362" fill="none" stroke="#4b55b5" stroke-width="8.3" stroke-linecap="round" stroke-linejoin="round"/><path d="M495 318 C505 326 512 340 506 352 C500 360 488 362 478 362" fill="none" stroke="#a9a9a9" stroke-width="6.5" stroke-linecap="round" stroke-linejoin="round"/><path d="M495 318 C505 326 512 340 506 352 C500 360 488 362 478 362" fill="none" stroke="#f4f4f4" stroke-width="2.9250000000000003" stroke-linecap="round" stroke-linejoin="round"/><path d="M212 795 C200 805 200 825 216 832 C230 838 244 830 246 820" fill="none" stroke="#4b55b5" stroke-width="8.3" stroke-linecap="round" stroke-linejoin="round"/><path d="M212 795 C200 805 200 825 216 832 C230 838 244 830 246 820" fill="none" stroke="#a9a9a9" stroke-width="6.5" stroke-linecap="round" stroke-linejoin="round"/><path d="M212 795 C200 805 200 825 216 832 C230 838 244 830 246 820" fill="none" stroke="#f4f4f4" stroke-width="2.9250000000000003" stroke-linecap="round" stroke-linejoin="round"/></g><path d="M258 154 L267.6 140.2 L263.4 125" fill="none" stroke="#6a1f6a" stroke-opacity="0.55" stroke-width="9.5" stroke-linecap="round" stroke-linejoin="round"/><path d="M267.6 140.2 L281.3 141.6 L289.6 130.6 L302 129.2 L313 112.7 L331 110" fill="none" stroke="#6a1f6a" stroke-opacity="0.55" stroke-width="9.5" stroke-linecap="round" stroke-linejoin="round"/><path d="M331 110 L335 93.4 L337.8 83.7 L340.6 68.6 L344.7 60.3 L344.7 50.7" fill="none" stroke="#6a1f6a" stroke-opacity="0.55" stroke-width="9.5" stroke-linecap="round" stroke-linejoin="round"/><path d="M337.8 83.7 L333 82" fill="none" stroke="#6a1f6a" stroke-opacity="0.55" stroke-width="9.5" stroke-linecap="round" stroke-linejoin="round"/><path d="M344.7 63 L361 65.8 L377.8 70 L391.6 71.3 L410.8 74 L419 72.7 L432.9 79.6" fill="none" stroke="#6a1f6a" stroke-opacity="0.55" stroke-width="9.5" stroke-linecap="round" stroke-linejoin="round"/><path d="M331 110 L339.2 120.9 L343.3 132 L353 140.2 L358.5 151.2 L358.5 165 L355.7 173.3" fill="none" stroke="#6a1f6a" stroke-opacity="0.55" stroke-width="9.5" stroke-linecap="round" stroke-linejoin="round"/><path d="M339.2 120.9 L347 118" fill="none" stroke="#6a1f6a" stroke-opacity="0.55" stroke-width="9.5" stroke-linecap="round" stroke-linejoin="round"/><path d="M358.5 157 L369.5 156.8 L383.3 155.4 L394.3 145.7 L405.3 143" fill="none" stroke="#6a1f6a" stroke-opacity="0.55" stroke-width="9.5" stroke-linecap="round" stroke-linejoin="round"/><path d="M333.7 155.4 L347.5 154" fill="none" stroke="#6a1f6a" stroke-opacity="0.55" stroke-width="9.5" stroke-linecap="round" stroke-linejoin="round"/><path d="M355.7 173.3 L361.2 187 L372.3 195.3 L380.5 206.4 L394.3 209.1 L399.8 222.9" fill="none" stroke="#6a1f6a" stroke-opacity="0.55" stroke-width="9.5" stroke-linecap="round" stroke-linejoin="round"/><path d="M380.5 206.4 L369.5 217.4 L364 228.4 L355.7 233.9 L342 245 L331 247.7" fill="none" stroke="#6a1f6a" stroke-opacity="0.55" stroke-width="9.5" stroke-linecap="round" stroke-linejoin="round"/><path d="M355.7 233.9 L358.5 258.7 L366.8 261.5" fill="none" stroke="#6a1f6a" stroke-opacity="0.55" stroke-width="9.5" stroke-linecap="round" stroke-linejoin="round"/><path d="M364 228.4 L368 236" fill="none" stroke="#6a1f6a" stroke-opacity="0.55" stroke-width="9.5" stroke-linecap="round" stroke-linejoin="round"/><path d="M258 154 L267.6 140.2 L263.4 125" fill="none" stroke="#9c379c" stroke-width="6.8" stroke-linecap="round" stroke-linejoin="round"/><path d="M267.6 140.2 L281.3 141.6 L289.6 130.6 L302 129.2 L313 112.7 L331 110" fill="none" stroke="#9c379c" stroke-width="6.8" stroke-linecap="round" stroke-linejoin="round"/><path d="M331 110 L335 93.4 L337.8 83.7 L340.6 68.6 L344.7 60.3 L344.7 50.7" fill="none" stroke="#9c379c" stroke-width="6.8" stroke-linecap="round" stroke-linejoin="round"/><path d="M337.8 83.7 L333 82" fill="none" stroke="#9c379c" stroke-width="6.8" stroke-linecap="round" stroke-linejoin="round"/><path d="M344.7 63 L361 65.8 L377.8 70 L391.6 71.3 L410.8 74 L419 72.7 L432.9 79.6" fill="none" stroke="#9c379c" stroke-width="6.8" stroke-linecap="round" stroke-linejoin="round"/><path d="M331 110 L339.2 120.9 L343.3 132 L353 140.2 L358.5 151.2 L358.5 165 L355.7 173.3" fill="none" stroke="#9c379c" stroke-width="6.8" stroke-linecap="round" stroke-linejoin="round"/><path d="M339.2 120.9 L347 118" fill="none" stroke="#9c379c" stroke-width="6.8" stroke-linecap="round" stroke-linejoin="round"/><path d="M358.5 157 L369.5 156.8 L383.3 155.4 L394.3 145.7 L405.3 143" fill="none" stroke="#9c379c" stroke-width="6.8" stroke-linecap="round" stroke-linejoin="round"/><path d="M333.7 155.4 L347.5 154" fill="none" stroke="#9c379c" stroke-width="6.8" stroke-linecap="round" stroke-linejoin="round"/><path d="M355.7 173.3 L361.2 187 L372.3 195.3 L380.5 206.4 L394.3 209.1 L399.8 222.9" fill="none" stroke="#9c379c" stroke-width="6.8" stroke-linecap="round" stroke-linejoin="round"/><path d="M380.5 206.4 L369.5 217.4 L364 228.4 L355.7 233.9 L342 245 L331 247.7" fill="none" stroke="#9c379c" stroke-width="6.8" stroke-linecap="round" stroke-linejoin="round"/><path d="M355.7 233.9 L358.5 258.7 L366.8 261.5" fill="none" stroke="#9c379c" stroke-width="6.8" stroke-linecap="round" stroke-linejoin="round"/><path d="M364 228.4 L368 236" fill="none" stroke="#9c379c" stroke-width="6.8" stroke-linecap="round" stroke-linejoin="round"/><path d="M331.0 205.0 L316.6 201.0 L308.8 201.0 L301.0 217.6 L286.3 216.6" fill="none" stroke="#4a4a3a" stroke-width="9.1" stroke-linecap="round" stroke-linejoin="round"/><path d="M331.0 205.0 L316.6 201.0 L308.8 201.0 L301.0 217.6 L286.3 216.6" fill="none" stroke="#f2e400" stroke-width="7.5" stroke-linecap="round" stroke-linejoin="round"/><path d="M497.0 226.0 L490.0 240.0 L478.0 255.0 L472.0 262.0" fill="none" stroke="#4a4a3a" stroke-width="9.1" stroke-linecap="round" stroke-linejoin="round"/><path d="M497.0 226.0 L490.0 240.0 L478.0 255.0 L472.0 262.0" fill="none" stroke="#f2e400" stroke-width="7.5" stroke-linecap="round" stroke-linejoin="round"/><path d="M178.0 416.0 L190.0 410.0 L200.0 418.0 L212.0 414.0" fill="none" stroke="#4a4a3a" stroke-width="9.1" stroke-linecap="round" stroke-linejoin="round"/><path d="M178.0 416.0 L190.0 410.0 L200.0 418.0 L212.0 414.0" fill="none" stroke="#f2e400" stroke-width="7.5" stroke-linecap="round" stroke-linejoin="round"/><path d="M256.6 483.7 L268.6 467.3 L283.5 465.8 L297.0 488.0" fill="none" stroke="#4a4a3a" stroke-width="9.1" stroke-linecap="round" stroke-linejoin="round"/><path d="M256.6 483.7 L268.6 467.3 L283.5 465.8 L297.0 488.0" fill="none" stroke="#f2e400" stroke-width="7.5" stroke-linecap="round" stroke-linejoin="round"/><radialGradient id="s1" cx="0.45" cy="0.4" r="0.62"><stop offset="0" stop-color="#fff800"/><stop offset="0.55" stop-color="#f6e900"/><stop offset="0.82" stop-color="#d9c900"/><stop offset="1" stop-color="#8c8000"/></radialGradient><circle cx="337.1" cy="182.4" r="21" fill="url(#s1)" stroke="#3c3c78" stroke-width="1.1"/><radialGradient id="s2" cx="0.45" cy="0.4" r="0.62"><stop offset="0" stop-color="#fff800"/><stop offset="0.55" stop-color="#f6e900"/><stop offset="0.82" stop-color="#d9c900"/><stop offset="1" stop-color="#8c8000"/></radialGradient><circle cx="333" cy="251.7" r="19" fill="url(#s2)" stroke="#3c3c78" stroke-width="1.1"/><radialGradient id="s3" cx="0.45" cy="0.4" r="0.62"><stop offset="0" stop-color="#fff800"/><stop offset="0.55" stop-color="#f6e900"/><stop offset="0.82" stop-color="#d9c900"/><stop offset="1" stop-color="#8c8000"/></radialGradient><circle cx="278.9" cy="317.9" r="19.5" fill="url(#s3)" stroke="#3c3c78" stroke-width="1.1"/><radialGradient id="s4" cx="0.45" cy="0.4" r="0.62"><stop offset="0" stop-color="#fff800"/><stop offset="0.55" stop-color="#f6e900"/><stop offset="0.82" stop-color="#d9c900"/><stop offset="1" stop-color="#8c8000"/></radialGradient><circle cx="160.7" cy="414.3" r="20.5" fill="url(#s4)" stroke="#3c3c78" stroke-width="1.1"/><radialGradient id="s5" cx="0.45" cy="0.4" r="0.62"><stop offset="0" stop-color="#fff800"/><stop offset="0.55" stop-color="#f6e900"/><stop offset="0.82" stop-color="#d9c900"/><stop offset="1" stop-color="#8c8000"/></radialGradient><circle cx="289.5" cy="493.5" r="21" fill="url(#s5)" stroke="#3c3c78" stroke-width="1.1"/><radialGradient id="s6" cx="0.45" cy="0.4" r="0.62"><stop offset="0" stop-color="#fff800"/><stop offset="0.55" stop-color="#f6e900"/><stop offset="0.82" stop-color="#d9c900"/><stop offset="1" stop-color="#8c8000"/></radialGradient><circle cx="504.1" cy="215.8" r="20.7" fill="url(#s6)" stroke="#3c3c78" stroke-width="1.1"/><line x1="4.2" y1="174.3" x2="726" y2="174.3" stroke="#333" stroke-opacity="0.85" stroke-width="5" stroke-linecap="round" stroke-dasharray="16.5 15.5"/><line x1="4.2" y1="659.7" x2="726" y2="659.7" stroke="#333" stroke-opacity="0.85" stroke-width="5" stroke-linecap="round" stroke-dasharray="16.5 15.5"/><path d="M256.6 74.5 Q268 70 275.9 58 L288.8 92.9 Z" fill="#9c379c"/><path d="M435.6 692.9 L462.3 718.6 Q447 718 439.3 729.6 Z" fill="#9c379c"/><line x1="344.9" y1="186.3" x2="596.7" y2="104.0" stroke="#333333" stroke-width="5" stroke-linecap="round"/><line x1="139.0" y1="214.3" x2="323.4" y2="240.0" stroke="#333333" stroke-width="5" stroke-linecap="round"/><line x1="154.9" y1="320.9" x2="269.7" y2="317.9" stroke="#333333" stroke-width="5" stroke-linecap="round"/><line x1="99.8" y1="424.6" x2="153.8" y2="418.9" stroke="#333333" stroke-width="5" stroke-linecap="round"/><line x1="296.9" y1="492.5" x2="594.7" y2="534.4" stroke="#333333" stroke-width="5" stroke-linecap="round"/><line x1="514.4" y1="221.9" x2="633.3" y2="306.2" stroke="#333333" stroke-width="5" stroke-linecap="round"/><text x="-0.3" y="40.9" font-size="40.38" fill="#000" style="">a</text><text x="109.7" y="22.9" font-size="30.20" fill="#9c379c" style="">NT8-13 binding</text><text x="109.7" y="60.4" font-size="30.21" fill="#9c379c" style="">pocket</text><text x="-1.1" y="138.6" font-size="30.04" fill="#007b7b" style="">Extracelluar</text><text x="33.7" y="532.1" font-size="30.51" fill="#007b7b" style="">Trans-</text><text x="32.0" y="569.3" font-size="30.32" fill="#007b7b" style="">membrane</text><text x="-1.1" y="708.8" font-size="30.17" fill="#007b7b" style="">Intracelluar</text><text x="458.3" y="785.7" font-size="29.96" fill="#9c379c" style="">Transducer</text><text x="442.0" y="822.4" font-size="29.97" fill="#9c379c" style="">binding cavity</text><text x="603.0" y="109.4" font-size="29.89" fill="#000" style="">M208</text><text x="678.5" y="97.5" font-size="19.01" fill="#000" style="">4.64</text><text x="23.3" y="221.2" font-size="30.03" fill="#000" style="">M204</text><text x="99.6" y="208.9" font-size="19.42" fill="#000" style="">4.60</text><text x="39.3" y="332.3" font-size="29.76" fill="#000" style="">M330</text><text x="114.1" y="320.8" font-size="19.03" fill="#000" style="">6.57</text><text x="635.6" y="331.2" font-size="30.22" fill="#000" style="">M352</text><text x="710.8" y="319.1" font-size="19.81" fill="#000" style="">7.36</text><text x="6.0" y="460.2" font-size="29.78" fill="#000" style="">M244</text><text x="80.9" y="448.6" font-size="19.44" fill="#000" style="">5.45</text><text x="600.9" y="545.8" font-size="30.05" fill="#000" style="">M250</text><text x="676.9" y="534.0" font-size="18.17" fill="#000" style="">5.51</text><rect x="840" y="3.4" width="587.2" height="357.1" fill="none" stroke="#000" stroke-width="4"/><line x1="864.5" y1="360.5" x2="864.5" y2="371.0" stroke="#000" stroke-width="4" stroke-linecap="butt"/><line x1="1022.7" y1="360.5" x2="1022.7" y2="371.0" stroke="#000" stroke-width="4" stroke-linecap="butt"/><line x1="1180.8" y1="360.5" x2="1180.8" y2="371.0" stroke="#000" stroke-width="4" stroke-linecap="butt"/><line x1="1339.1" y1="360.5" x2="1339.1" y2="371.0" stroke="#000" stroke-width="4" stroke-linecap="butt"/><line x1="830.0" y1="92.9" x2="840.0" y2="92.9" stroke="#000" stroke-width="4" stroke-linecap="butt"/><line x1="830.0" y1="191.3" x2="840.0" y2="191.3" stroke="#000" stroke-width="4" stroke-linecap="butt"/><line x1="830.0" y1="290.2" x2="840.0" y2="290.2" stroke="#000" stroke-width="4" stroke-linecap="butt"/><rect x="1455.2" y="2.5" width="587.3999999999999" height="357.5" fill="none" stroke="#000" stroke-width="4"/><line x1="1479.1" y1="360.0" x2="1479.1" y2="370.5" stroke="#000" stroke-width="4" stroke-linecap="butt"/><line x1="1637.6" y1="360.0" x2="1637.6" y2="370.5" stroke="#000" stroke-width="4" stroke-linecap="butt"/><line x1="1796.1" y1="360.0" x2="1796.1" y2="370.5" stroke="#000" stroke-width="4" stroke-linecap="butt"/><line x1="1954.4" y1="360.0" x2="1954.4" y2="370.5" stroke="#000" stroke-width="4" stroke-linecap="butt"/><line x1="1445.2" y1="92.6" x2="1455.2" y2="92.6" stroke="#000" stroke-width="4" stroke-linecap="butt"/><line x1="1445.2" y1="191.2" x2="1455.2" y2="191.2" stroke="#000" stroke-width="4" stroke-linecap="butt"/><line x1="1445.2" y1="290.3" x2="1455.2" y2="290.3" stroke="#000" stroke-width="4" stroke-linecap="butt"/><rect x="839" y="426.4" width="588.2" height="357.80000000000007" fill="none" stroke="#000" stroke-width="4"/><line x1="864.6" y1="784.2" x2="864.6" y2="794.7" stroke="#000" stroke-width="4" stroke-linecap="butt"/><line x1="1022.7" y1="784.2" x2="1022.7" y2="794.7" stroke="#000" stroke-width="4" stroke-linecap="butt"/><line x1="1180.8" y1="784.2" x2="1180.8" y2="794.7" stroke="#000" stroke-width="4" stroke-linecap="butt"/><line x1="1339.1" y1="784.2" x2="1339.1" y2="794.7" stroke="#000" stroke-width="4" stroke-linecap="butt"/><line x1="829.0" y1="515.9" x2="839.0" y2="515.9" stroke="#000" stroke-width="4" stroke-linecap="butt"/><line x1="829.0" y1="614.6" x2="839.0" y2="614.6" stroke="#000" stroke-width="4" stroke-linecap="butt"/><line x1="829.0" y1="713.0" x2="839.0" y2="713.0" stroke="#000" stroke-width="4" stroke-linecap="butt"/><rect x="1455.9" y="427.6" width="586.0999999999999" height="356.69999999999993" fill="none" stroke="#000" stroke-width="4"/><line x1="1479.1" y1="784.3" x2="1479.1" y2="794.8" stroke="#000" stroke-width="4" stroke-linecap="butt"/><line x1="1637.6" y1="784.3" x2="1637.6" y2="794.8" stroke="#000" stroke-width="4" stroke-linecap="butt"/><line x1="1796.1" y1="784.3" x2="1796.1" y2="794.8" stroke="#000" stroke-width="4" stroke-linecap="butt"/><line x1="1954.8" y1="784.3" x2="1954.8" y2="794.8" stroke="#000" stroke-width="4" stroke-linecap="butt"/><line x1="1445.9" y1="515.8" x2="1455.9" y2="515.8" stroke="#000" stroke-width="4" stroke-linecap="butt"/><line x1="1445.9" y1="614.9" x2="1455.9" y2="614.9" stroke="#000" stroke-width="4" stroke-linecap="butt"/><line x1="1445.9" y1="713.4" x2="1455.9" y2="713.4" stroke="#000" stroke-width="4" stroke-linecap="butt"/><text x="843.7" y="400.5" font-size="30.50" fill="#000" style="">2.2</text><text x="1001.9" y="400.5" font-size="30.50" fill="#000" style="">2.0</text><text x="1159.4" y="400.5" font-size="30.50" fill="#000" style="">1.8</text><text x="1317.8" y="400.5" font-size="30.50" fill="#000" style="">1.6</text><text x="1458.3" y="400.5" font-size="30.50" fill="#000" style="">2.2</text><text x="1616.8" y="400.5" font-size="30.50" fill="#000" style="">2.0</text><text x="1774.7" y="400.5" font-size="30.50" fill="#000" style="">1.8</text><text x="1933.1" y="400.5" font-size="30.50" fill="#000" style="">1.6</text><text x="843.8" y="824.5" font-size="30.50" fill="#000" style="">2.2</text><text x="1001.9" y="824.5" font-size="30.50" fill="#000" style="">2.0</text><text x="1159.4" y="824.5" font-size="30.50" fill="#000" style="">1.8</text><text x="1317.8" y="824.5" font-size="30.50" fill="#000" style="">1.6</text><text x="1458.3" y="824.5" font-size="30.50" fill="#000" style="">2.2</text><text x="1616.8" y="824.5" font-size="30.50" fill="#000" style="">2.0</text><text x="1774.7" y="824.5" font-size="30.50" fill="#000" style="">1.8</text><text x="1933.5" y="824.5" font-size="30.50" fill="#000" style="">1.6</text><text x="789.2" y="103.5" font-size="30.50" fill="#000" style="">16</text><text x="789.4" y="201.9" font-size="30.50" fill="#000" style="">17</text><text x="789.1" y="300.8" font-size="30.50" fill="#000" style="">18</text><text x="789.2" y="526.5" font-size="30.50" fill="#000" style="">16</text><text x="789.4" y="625.2" font-size="30.50" fill="#000" style="">17</text><text x="789.1" y="723.6" font-size="30.50" fill="#000" style="">18</text><text transform="translate(776.2,263.5) rotate(-90)" font-size="30"><tspan font-size="18" dy="-11.5">13</tspan><tspan dy="11.5">C δ (ppm)</tspan></text><text transform="translate(776.2,687.4) rotate(-90)" font-size="30"><tspan font-size="18" dy="-11.5">13</tspan><tspan dy="11.5">C δ (ppm)</tspan></text><text x="1058.6" y="859.9" font-size="30"><tspan font-size="18" dy="-11.5">1</tspan><tspan dy="11.5">H δ (ppm)</tspan></text><text x="1673.4" y="859.9" font-size="30"><tspan font-size="18" dy="-11.5">1</tspan><tspan dy="11.5">H δ (ppm)</tspan></text><text x="850.5" y="40.9" font-size="44.36" fill="#000" style="">b</text><text x="1465.1" y="41.2" font-size="45.13" fill="#000" style="">c</text><text x="850.2" y="464.4" font-size="45.54" fill="#000" style="">d</text><text x="1464.6" y="464.8" font-size="45.80" fill="#000" style="">e</text><text x="1362.0" y="32.1" font-size="30.32" fill="#000" style="">Apo</text><text x="1286.7" y="67.5" font-size="30.09" fill="#e8c10e" style="">Apo:PIP2</text><text x="1933.3" y="32.4" font-size="30.53" fill="#ff00ff" style="">NT8-13</text><text x="1857.5" y="67.1" font-size="30.45" fill="#148a14" style="">NT8-13:PIP2</text><text x="1326.3" y="456.1" font-size="30.06" fill="#f8a00a" style="">ML314</text><text x="1252.0" y="491.4" font-size="30.08" fill="#05e6e6" style="">ML314:PIP2</text><text x="1830.7" y="456.3" font-size="29.97" fill="#0000ff" style="">NT8-13:ML314</text><text x="1755.6" y="492.1" font-size="30.10" fill="#870a0a" style="">NT8-13:ML314:PIP2</text><path d="M957.9 201.4 955.9 201.2 953.8 199.9 950.4 195.2 945.0 190.4 942.8 187.4 941.3 181.4 941.9 170.4 943.7 161.4 950.1 149.4 952.4 147.2 955.4 145.8 962.9 145.3 968.4 146.2 972.9 148.1 975.8 150.4 980.4 155.5 984.9 154.0 987.4 154.5 989.7 157.4 990.1 160.9 988.4 164.8 983.5 167.9 982.7 175.9 981.3 180.4 978.6 184.9 971.9 193.5 967.4 197.8 957.9 201.4ZM958.4 199.9 956.4 199.9 954.4 198.7 951.4 192.5 947.5 188.4 945.5 185.4 944.1 179.9 944.3 171.4 946.5 161.9 951.9 152.4 954.4 150.1 956.9 148.9 963.9 148.2 970.9 150.3 973.7 152.4 976.1 155.4 979.5 163.9 980.2 174.9 978.0 181.4 971.4 190.1 967.4 194.0 958.4 199.9ZM986.4 164.5 983.4 163.9 981.8 160.9 982.6 157.4 985.4 155.4 987.9 156.5 989.1 159.4 988.6 162.4 986.4 164.5ZM957.9 198.5 956.4 198.4 954.9 197.1 954.1 190.9 949.9 185.9 948.0 182.4 946.9 177.4 947.1 170.9 949.5 162.4 953.8 154.9 958.4 151.6 964.4 151.0 969.9 153.2 974.0 157.9 977.0 166.9 977.5 174.9 976.0 179.9 972.6 184.9 967.4 190.2 961.8 193.4 959.5 197.4 957.9 198.5ZM986.9 162.4 984.9 162.5 983.8 160.9 984.0 158.4 985.4 157.1 986.9 157.4 987.8 158.9 987.9 160.9 986.9 162.4ZM961.4 188.9 957.4 188.0 952.9 183.9 950.5 178.9 949.9 173.4 951.5 165.9 955.0 158.4 958.9 154.8 963.4 153.9 967.9 155.5 971.3 159.4 974.0 166.4 974.8 173.4 973.7 178.4 970.5 183.4 965.9 187.4 961.4 188.9ZM957.4 196.5 956.4 195.9 956.9 194.6 957.9 195.3 957.4 196.5ZM962.9 184.5 959.4 184.1 956.3 181.9 954.2 178.4 953.5 173.9 954.4 168.4 957.0 161.9 959.4 158.9 962.9 157.7 965.9 158.6 968.8 161.9 971.0 167.4 971.7 172.4 971.1 176.4 969.3 179.9 966.4 182.9 962.9 184.5ZM963.4 178.9 961.4 178.9 959.7 177.9 958.4 175.9 958.0 173.4 959.6 167.4 961.4 165.1 962.9 164.4 964.4 164.8 965.9 166.4 967.7 171.9 966.5 176.4 963.4 178.9Z" fill="none" stroke="#141414" stroke-width="1.15" stroke-linejoin="round"/><path d="M1059.6 145.0 1055.1 145.1 1050.6 143.9 1047.3 141.4 1045.8 138.4 1046.3 134.4 1049.9 127.9 1046.4 119.4 1046.5 112.4 1048.7 105.4 1052.6 100.8 1057.6 97.8 1064.1 95.7 1074.6 94.3 1083.1 94.1 1090.6 95.3 1099.6 98.1 1105.6 101.3 1109.6 104.9 1112.4 110.4 1112.6 117.9 1110.3 124.4 1106.1 129.2 1100.6 132.7 1095.1 135.1 1088.1 136.8 1072.1 138.9 1064.1 143.5 1059.6 145.0ZM1058.6 143.9 1054.6 143.9 1051.1 142.7 1048.4 140.4 1047.4 137.9 1048.5 133.9 1053.2 128.4 1053.0 126.4 1049.6 119.9 1049.2 114.9 1051.3 106.9 1055.4 101.9 1060.1 99.1 1066.1 97.3 1074.6 96.0 1082.1 96.0 1089.6 97.2 1097.6 99.7 1102.8 102.4 1106.7 105.9 1109.3 111.4 1109.5 117.9 1107.7 123.4 1103.6 128.1 1097.6 131.8 1091.1 134.1 1070.1 136.8 1063.6 142.1 1058.6 143.9ZM1059.1 142.4 1055.6 142.7 1052.6 141.8 1050.1 139.9 1049.3 137.4 1049.8 135.4 1051.1 133.6 1057.0 129.9 1057.7 128.9 1057.1 126.9 1053.3 120.9 1052.4 115.9 1054.1 108.4 1058.1 103.2 1062.1 100.8 1067.6 99.0 1074.6 97.9 1081.1 97.9 1088.1 99.1 1095.1 101.3 1100.0 103.9 1103.6 107.2 1106.0 111.9 1106.3 117.9 1104.7 122.9 1101.1 126.9 1095.1 130.4 1088.1 132.7 1080.6 133.7 1067.6 134.0 1066.5 134.9 1063.6 139.9 1059.1 142.4ZM1082.1 131.4 1074.6 131.3 1067.1 129.7 1062.6 127.3 1058.5 123.4 1056.3 119.4 1055.8 114.4 1057.4 108.9 1060.6 104.9 1064.1 102.7 1069.1 100.9 1074.6 100.0 1079.6 100.0 1086.1 101.1 1092.6 103.2 1097.1 105.6 1100.2 108.4 1102.3 111.9 1103.1 115.9 1102.6 119.9 1100.8 123.4 1097.6 126.3 1093.1 128.8 1087.6 130.6 1082.1 131.4ZM1058.1 141.0 1054.6 140.8 1052.1 139.2 1051.5 136.9 1053.1 134.4 1055.6 133.2 1058.1 132.9 1060.1 133.2 1061.8 134.4 1062.5 136.4 1062.0 138.4 1060.6 139.9 1058.1 141.0ZM1083.6 128.9 1077.6 129.0 1071.6 127.8 1066.1 125.5 1062.1 122.4 1059.9 118.9 1059.2 114.9 1060.1 110.9 1062.5 107.4 1065.6 105.1 1069.1 103.6 1073.6 102.6 1078.1 102.5 1083.1 103.2 1089.1 105.0 1093.1 106.9 1096.3 109.4 1098.5 112.4 1099.5 115.9 1099.4 118.9 1098.1 121.9 1095.7 124.4 1092.1 126.6 1083.6 128.9ZM1058.1 138.5 1055.1 138.5 1054.2 137.4 1054.5 136.4 1056.1 135.5 1058.1 135.8 1059.0 136.9 1058.1 138.5ZM1085.1 126.0 1080.6 126.3 1075.6 125.6 1071.1 124.1 1067.1 121.7 1064.8 119.4 1063.4 116.4 1063.4 113.4 1064.8 110.4 1066.9 108.4 1069.6 106.9 1076.6 105.5 1084.6 106.8 1091.6 110.2 1093.8 112.4 1095.2 114.9 1095.6 117.4 1095.1 119.7 1091.6 123.5 1085.1 126.0ZM1082.1 122.9 1076.6 122.1 1071.6 119.4 1069.2 115.9 1069.3 113.9 1070.1 112.4 1073.6 110.3 1078.6 109.6 1084.1 110.6 1088.1 112.9 1090.4 116.4 1089.8 119.4 1086.7 121.9 1082.1 122.9Z" fill="none" stroke="#141414" stroke-width="1.15" stroke-linejoin="round"/><path d="M939.3 303.4 934.3 303.8 928.8 302.9 923.3 300.6 917.8 297.1 914.3 293.9 911.4 289.9 909.4 285.4 908.3 280.4 908.1 275.4 908.9 271.4 910.7 267.4 914.1 262.4 918.8 256.7 922.8 253.0 926.8 250.7 931.3 249.5 935.8 249.3 940.3 250.1 944.8 252.2 949.2 255.4 952.0 258.4 954.0 261.9 956.5 271.9 956.5 280.9 952.6 290.9 946.3 299.5 942.8 302.1 939.3 303.4ZM936.3 300.4 931.8 300.1 926.8 298.8 918.3 294.2 915.5 291.4 913.2 287.9 911.7 283.9 911.0 279.4 911.2 274.9 912.4 270.9 915.1 265.9 918.8 261.0 922.8 257.0 926.3 254.5 930.3 252.8 934.3 252.2 938.3 252.6 941.8 253.7 945.5 255.9 948.8 258.9 952.4 265.4 954.2 274.9 954.0 279.4 952.9 283.4 948.0 292.9 942.3 298.6 939.3 299.9 936.3 300.4ZM937.8 296.5 934.3 296.8 929.8 296.2 925.3 294.8 921.3 292.7 918.5 290.4 916.3 287.5 914.1 280.9 914.1 276.9 915.1 272.9 919.8 264.4 926.3 258.2 930.3 256.2 933.8 255.5 940.3 256.3 945.6 259.9 949.3 265.4 951.1 272.9 950.5 280.4 947.6 287.9 942.9 293.9 937.8 296.5ZM936.3 292.9 929.3 292.5 922.8 289.7 918.9 285.4 917.3 279.9 918.6 272.9 922.5 265.9 928.3 260.9 934.3 259.0 939.3 259.8 943.3 262.5 946.3 267.4 947.6 273.4 947.0 279.9 944.2 286.9 940.8 290.9 936.3 292.9ZM935.8 289.0 930.8 289.1 925.8 287.2 922.4 283.9 921.0 279.4 921.9 273.9 924.8 268.6 928.8 265.0 933.8 263.3 937.3 263.8 940.4 265.9 942.6 269.4 943.6 273.9 943.3 278.9 941.6 283.9 939.3 287.0 935.8 289.0ZM932.8 284.9 929.8 284.4 927.5 282.9 926.0 280.9 925.4 277.9 926.1 274.4 927.8 271.6 930.3 269.5 933.3 268.7 935.8 269.4 937.5 270.9 938.7 273.4 939.1 276.9 938.6 279.9 937.3 282.5 935.3 284.2 932.8 284.9Z" fill="none" stroke="#141414" stroke-width="1.15" stroke-linejoin="round"/><path d="M1294.1 287.2 1288.6 287.6 1282.1 286.8 1277.6 285.5 1273.6 283.1 1270.1 279.2 1266.4 272.7 1263.2 265.7 1261.4 259.2 1260.6 253.2 1260.9 248.2 1262.2 243.7 1264.8 238.7 1268.2 234.2 1272.1 230.6 1277.1 227.6 1281.6 226.1 1286.6 225.7 1293.6 226.3 1300.1 227.4 1305.1 229.0 1308.6 231.1 1311.1 233.7 1312.8 236.7 1313.9 240.7 1316.5 260.7 1316.4 266.2 1315.4 270.2 1313.2 273.7 1309.6 277.0 1299.1 285.1 1294.1 287.2ZM1293.1 284.2 1288.1 284.5 1282.1 283.6 1277.6 282.0 1274.6 279.9 1271.4 276.2 1268.3 270.7 1264.4 259.2 1263.7 253.7 1263.8 248.7 1264.7 244.7 1266.8 240.2 1269.6 236.2 1273.1 232.9 1277.6 230.3 1282.1 228.9 1287.1 228.4 1294.1 229.1 1300.1 230.5 1304.6 232.4 1307.5 234.7 1309.6 237.6 1312.2 246.7 1314.0 260.2 1313.6 265.2 1312.4 269.2 1309.1 273.6 1302.1 279.5 1297.1 282.8 1293.1 284.2ZM1292.6 281.2 1288.6 281.5 1284.1 280.8 1280.1 279.5 1276.6 277.4 1274.0 274.7 1271.4 270.7 1267.8 260.7 1266.8 250.2 1267.5 246.2 1269.0 242.2 1271.2 238.7 1274.2 235.7 1278.1 233.4 1282.1 232.2 1287.1 231.6 1293.1 232.1 1298.6 233.5 1302.6 235.5 1305.2 237.7 1307.2 240.7 1310.4 250.7 1311.3 261.2 1310.6 265.2 1309.2 268.7 1305.9 272.7 1300.6 277.3 1296.6 279.8 1292.6 281.2ZM1291.1 278.2 1287.1 278.0 1283.1 277.0 1279.6 275.3 1277.1 273.3 1272.9 266.7 1270.5 257.7 1270.5 249.2 1273.1 242.4 1275.4 239.7 1278.1 237.8 1285.1 235.6 1289.6 235.4 1294.1 236.0 1298.1 237.4 1301.1 239.4 1303.6 241.9 1305.6 245.3 1308.4 254.7 1308.2 262.7 1305.5 268.7 1302.3 272.2 1298.1 275.6 1294.6 277.4 1291.1 278.2ZM1292.6 274.3 1289.6 274.5 1286.1 273.9 1280.1 270.8 1276.2 265.7 1274.0 258.7 1273.9 251.7 1276.1 246.3 1280.5 242.2 1286.6 240.0 1293.1 240.2 1298.6 242.8 1302.8 247.7 1305.3 254.7 1305.3 260.7 1303.1 266.2 1298.1 271.5 1292.6 274.3ZM1291.1 269.7 1286.1 269.0 1282.1 266.6 1279.1 262.6 1277.5 257.2 1277.8 252.7 1279.9 248.7 1283.6 245.8 1288.1 244.4 1292.6 244.8 1297.0 247.2 1300.2 251.2 1301.7 255.7 1301.4 260.2 1299.3 264.7 1295.6 268.1 1291.1 269.7ZM1290.1 264.2 1287.1 263.7 1284.6 262.2 1282.9 260.2 1281.8 257.2 1282.0 254.2 1283.1 251.9 1285.1 250.0 1288.1 248.9 1291.1 249.1 1293.6 250.3 1295.8 252.7 1297.0 255.7 1296.8 258.7 1295.2 261.7 1293.1 263.4 1290.1 264.2Z" fill="none" stroke="#141414" stroke-width="1.15" stroke-linejoin="round"/><path d="M963.9 197.1 961.2 196.6 955.4 192.6 947.4 191.4 943.9 189.4 939.3 183.1 936.7 175.1 936.7 170.1 937.8 161.6 939.2 155.6 941.2 150.6 945.6 143.1 948.9 138.8 952.4 136.2 956.4 135.0 960.9 135.0 964.9 135.7 968.4 137.3 971.1 139.6 974.5 144.1 979.6 153.6 982.2 161.6 982.0 172.1 979.2 181.1 976.0 186.1 970.4 192.8 966.9 195.9 963.9 197.1ZM965.9 194.1 962.9 194.3 956.8 190.6 948.4 189.8 944.9 188.4 940.6 183.1 937.8 175.1 937.7 170.1 938.6 162.6 939.8 157.1 941.8 152.1 949.7 139.6 952.9 137.2 957.4 135.8 961.4 135.7 964.9 136.3 970.1 139.6 978.6 153.6 981.2 161.1 981.0 170.6 978.7 179.1 972.1 188.6 968.4 192.5 965.9 194.1ZM965.9 191.1 963.4 191.1 957.4 188.6 949.4 188.2 945.9 187.1 943.4 185.0 941.2 181.6 938.8 174.1 938.7 168.6 939.6 162.1 941.0 156.6 943.1 152.1 948.2 143.6 950.9 140.1 954.4 137.7 959.4 136.4 964.9 136.9 969.5 140.1 978.1 154.6 980.3 161.6 980.0 170.1 977.6 178.1 971.9 186.3 968.4 189.7 965.9 191.1ZM966.9 187.6 964.4 188.0 957.9 186.7 949.9 186.6 946.9 185.8 944.6 184.1 942.7 181.6 940.0 174.1 939.8 168.6 940.5 162.6 943.6 153.6 951.7 141.1 955.4 138.4 959.9 137.0 964.9 137.5 969.1 140.6 977.6 155.6 979.3 161.1 979.0 168.6 976.7 176.6 972.4 183.1 966.9 187.6ZM965.9 185.2 950.9 185.0 947.4 184.1 944.9 182.2 943.1 179.6 941.0 172.6 941.4 163.1 944.1 155.1 952.5 142.1 956.4 139.0 960.4 137.6 964.9 138.2 968.2 140.6 971.4 147.2 976.8 156.1 978.3 161.1 978.0 168.1 975.3 176.1 970.9 182.1 965.9 185.2ZM964.4 183.1 951.9 183.3 947.9 182.4 945.9 180.8 944.0 178.1 942.1 170.6 942.6 162.6 945.3 155.6 953.8 142.6 957.4 139.5 961.4 138.2 964.9 138.8 967.7 141.1 970.4 147.7 976.0 156.6 977.4 162.1 976.5 169.1 973.5 176.1 969.4 180.8 964.4 183.1ZM957.4 181.6 950.4 181.2 948.4 180.4 946.4 178.6 943.9 172.6 943.6 164.6 945.7 157.6 954.7 143.6 958.4 139.8 962.9 138.8 965.4 139.7 967.5 142.1 969.4 148.1 975.5 158.1 976.4 161.6 976.3 165.1 973.9 172.2 969.4 178.2 964.4 181.0 957.4 181.6ZM959.9 179.6 952.4 179.4 948.5 177.6 945.8 172.6 944.9 165.6 945.5 162.1 946.9 158.6 957.0 142.6 959.4 140.2 962.4 139.4 964.9 140.2 966.7 142.1 968.3 148.6 974.5 158.1 975.3 163.6 973.7 169.6 969.9 175.0 965.4 178.4 959.9 179.6ZM962.4 177.1 955.9 177.3 950.9 175.6 948.0 171.6 946.9 165.6 948.1 160.1 956.1 147.6 958.3 142.6 959.9 140.9 962.4 140.1 964.4 140.7 966.1 142.6 966.8 148.6 972.6 156.6 973.9 159.6 974.3 162.6 973.4 167.1 970.7 171.6 966.9 175.1 962.4 177.1ZM962.9 174.7 958.4 174.9 953.9 173.0 950.7 169.1 949.5 164.6 951.1 159.1 958.4 148.1 959.5 142.6 960.9 141.3 962.4 140.9 963.9 141.3 965.2 142.6 965.6 144.6 965.0 149.1 971.4 156.6 973.1 162.1 972.4 166.1 970.4 169.6 966.9 172.9 962.9 174.7ZM962.9 146.3 961.4 146.2 960.5 144.6 960.9 142.8 962.4 141.9 963.9 142.4 964.4 143.6 964.1 145.1 962.9 146.3ZM961.9 172.6 958.9 172.3 955.9 170.4 953.4 167.1 952.6 163.6 953.5 159.6 956.4 154.6 959.4 151.5 961.9 150.7 965.4 152.2 968.9 155.3 971.1 158.6 971.9 162.1 971.2 165.6 968.9 169.1 965.4 171.6 961.9 172.6ZM963.9 170.2 960.9 170.4 958.4 169.4 956.1 166.6 955.2 163.6 955.5 160.6 957.2 157.1 959.4 154.5 961.9 153.4 964.4 153.8 967.4 155.7 969.4 158.2 970.4 161.1 970.2 164.1 969.0 166.6 966.9 168.7 963.9 170.2Z" fill="none" stroke="#e8c10e" stroke-width="1.45" stroke-linejoin="round"/><path d="M1047.4 155.8 1043.9 155.9 1040.8 153.6 1038.5 148.6 1037.2 141.6 1037.7 134.6 1041.8 124.1 1041.9 114.1 1043.7 108.6 1057.1 91.1 1060.9 87.5 1064.9 84.8 1069.4 83.2 1073.9 82.8 1082.4 83.7 1087.4 85.4 1090.4 87.6 1092.9 90.4 1103.9 108.1 1104.9 112.6 1104.9 118.1 1104.2 125.1 1102.9 129.1 1100.9 131.6 1093.9 137.2 1086.6 145.6 1082.4 148.5 1078.4 149.7 1073.9 149.9 1060.4 147.3 1057.9 147.4 1055.8 148.6 1050.4 154.1 1047.4 155.8ZM1047.4 154.7 1043.9 154.7 1040.9 152.2 1038.7 147.1 1037.7 140.6 1038.5 134.1 1043.0 124.6 1043.1 114.1 1045.1 108.6 1058.4 91.9 1061.9 88.6 1065.9 86.1 1070.4 84.7 1075.4 84.7 1082.9 85.5 1087.9 87.5 1092.6 92.1 1102.8 109.1 1103.6 113.1 1103.5 118.1 1102.6 124.1 1101.2 128.1 1092.9 136.3 1086.4 144.1 1082.4 147.0 1078.4 148.3 1073.4 148.6 1057.9 146.1 1055.4 147.5 1050.4 152.9 1047.4 154.7ZM1046.9 153.7 1043.9 153.5 1041.2 151.1 1039.1 146.1 1038.3 140.1 1039.5 133.6 1044.4 124.6 1044.5 114.1 1046.6 108.6 1059.4 93.1 1062.9 90.0 1066.4 87.9 1071.4 86.7 1079.4 86.9 1084.4 87.7 1087.9 89.3 1092.1 93.6 1100.1 106.6 1101.6 110.1 1102.2 114.1 1101.9 118.6 1100.7 124.1 1099.1 127.6 1086.4 142.3 1081.9 145.7 1077.9 146.9 1072.4 147.3 1057.4 144.8 1055.4 146.0 1050.4 151.7 1046.9 153.7ZM1046.4 152.6 1043.4 152.0 1041.2 149.6 1039.6 145.1 1039.0 139.6 1040.4 133.6 1045.9 125.1 1045.8 114.6 1046.5 111.6 1048.2 108.6 1059.9 95.0 1066.4 90.2 1070.9 89.0 1079.9 88.9 1083.9 89.3 1087.4 90.7 1091.6 95.1 1098.7 107.1 1100.2 110.6 1100.7 114.1 1100.2 118.6 1098.8 123.6 1097.1 127.1 1086.2 140.6 1081.4 144.3 1076.9 145.7 1071.4 146.0 1057.4 143.4 1055.4 144.4 1049.9 150.9 1046.4 152.6ZM1047.4 151.2 1044.4 151.2 1041.9 149.0 1040.1 144.6 1039.7 139.6 1041.4 133.4 1047.5 126.1 1047.9 123.6 1047.2 114.6 1049.4 109.1 1059.9 97.5 1066.9 92.6 1071.4 91.4 1080.9 90.8 1084.4 91.2 1087.4 92.6 1091.7 97.6 1097.4 107.6 1098.8 111.6 1099.0 115.1 1098.2 119.6 1094.5 127.6 1085.7 139.1 1080.9 142.9 1076.4 144.3 1070.4 144.7 1056.9 141.8 1054.9 143.0 1050.4 149.2 1047.4 151.2ZM1046.9 150.2 1044.4 149.9 1042.1 147.6 1040.7 143.6 1040.4 139.1 1042.4 133.6 1048.4 128.6 1049.3 127.1 1049.6 124.1 1048.7 115.1 1049.5 112.1 1051.2 109.1 1060.4 99.6 1067.9 94.9 1073.4 93.5 1080.9 92.6 1084.4 93.0 1087.4 94.4 1090.4 97.9 1095.3 106.6 1096.8 110.1 1097.4 113.6 1096.7 118.1 1094.7 123.6 1087.8 134.1 1082.4 140.2 1079.4 141.9 1075.4 143.0 1067.4 143.2 1057.9 140.1 1055.9 140.1 1054.4 141.3 1050.4 147.8 1046.9 150.2ZM1047.4 148.8 1044.9 148.8 1042.9 147.1 1041.5 143.6 1041.2 139.1 1042.1 136.1 1043.9 133.5 1046.4 131.9 1050.4 130.7 1051.2 129.6 1051.5 126.1 1050.3 115.6 1051.0 112.6 1052.7 109.6 1060.9 101.7 1069.4 97.0 1080.4 94.4 1083.9 94.6 1086.9 96.0 1089.7 99.1 1093.5 106.1 1095.1 110.1 1095.6 113.6 1095.0 117.6 1092.9 123.1 1086.0 134.1 1080.4 139.6 1076.9 141.1 1072.4 142.0 1064.9 141.4 1056.9 137.7 1054.9 137.4 1053.9 138.4 1050.8 145.6 1047.4 148.8ZM1071.4 140.7 1066.9 140.5 1062.9 139.3 1058.9 136.9 1055.6 133.6 1054.2 130.6 1053.2 125.6 1052.1 118.1 1052.3 114.1 1053.6 111.1 1055.9 108.3 1063.9 102.4 1075.9 97.0 1080.4 96.1 1083.9 96.3 1088.0 99.1 1092.0 106.1 1093.8 111.6 1093.2 117.1 1089.1 126.6 1083.1 135.1 1077.9 139.0 1071.4 140.7ZM1046.4 147.7 1044.5 147.1 1043.2 145.6 1042.1 142.6 1042.1 139.6 1043.9 135.2 1045.9 133.8 1047.9 133.5 1050.9 135.1 1051.7 137.1 1051.7 139.6 1049.9 145.1 1048.4 146.8 1046.4 147.7ZM1071.4 139.1 1067.4 139.2 1063.9 138.2 1060.4 136.1 1057.7 133.1 1055.7 129.1 1054.5 124.1 1053.8 118.1 1054.3 114.1 1057.4 109.5 1064.4 104.7 1076.4 98.7 1080.4 97.8 1083.9 98.1 1087.7 101.1 1090.9 107.1 1092.1 112.1 1091.3 117.1 1087.1 126.6 1082.4 133.4 1077.4 137.2 1071.4 139.1ZM1046.4 146.2 1044.9 145.7 1043.9 144.6 1043.0 140.6 1044.0 137.1 1045.4 135.8 1046.9 135.4 1049.4 136.8 1050.2 140.1 1049.1 144.1 1046.4 146.2ZM1069.9 137.6 1066.4 137.4 1063.4 136.3 1060.9 134.4 1058.7 131.6 1056.9 127.6 1055.8 122.6 1055.6 118.1 1056.3 114.6 1057.7 112.1 1060.4 109.6 1073.9 101.8 1078.9 99.8 1083.4 99.9 1086.9 102.5 1089.5 107.6 1090.3 112.6 1089.2 117.6 1085.1 126.6 1081.1 132.1 1075.9 135.9 1069.9 137.6ZM1046.9 144.2 1045.4 144.1 1044.2 141.6 1044.6 139.1 1046.4 137.6 1047.9 138.3 1048.6 140.1 1048.2 142.6 1046.9 144.2ZM1070.9 135.6 1067.9 135.8 1064.9 135.1 1062.4 133.4 1060.4 131.1 1058.7 127.6 1057.7 123.6 1057.4 119.6 1058.0 116.1 1059.4 113.6 1061.9 111.2 1075.4 103.3 1079.4 101.7 1082.9 101.8 1085.9 104.0 1088.0 108.1 1088.5 112.1 1087.5 116.6 1084.0 124.6 1080.7 129.6 1075.9 133.6 1070.9 135.6ZM1069.4 133.6 1066.9 133.5 1064.6 132.6 1061.1 128.6 1059.3 122.1 1060.3 116.6 1063.9 112.7 1076.5 105.1 1079.9 103.9 1082.9 104.3 1085.4 106.9 1086.5 111.1 1085.9 115.1 1083.5 121.1 1080.7 126.1 1077.6 129.6 1073.4 132.4 1069.4 133.6ZM1070.4 130.7 1066.4 130.5 1063.1 127.6 1061.6 122.6 1062.4 118.1 1065.5 114.6 1076.9 107.9 1079.9 106.8 1081.9 107.2 1083.5 109.1 1084.0 112.1 1083.3 115.6 1081.2 120.6 1076.9 126.8 1073.9 129.1 1070.4 130.7ZM1070.4 126.7 1067.4 126.6 1065.7 125.1 1064.8 122.1 1065.7 119.1 1068.1 116.6 1072.3 114.1 1076.9 112.4 1078.9 112.5 1079.6 113.6 1079.6 115.6 1077.5 121.1 1074.4 124.6 1070.4 126.7Z" fill="none" stroke="#e8c10e" stroke-width="1.45" stroke-linejoin="round"/><path d="M933.5 304.2 928.0 304.1 923.0 302.2 918.0 298.7 912.4 293.1 908.9 288.6 906.8 284.1 905.5 278.6 905.1 272.6 905.8 268.6 907.9 264.6 912.8 259.1 918.4 254.1 923.0 250.9 927.0 249.1 931.0 248.1 936.5 248.0 940.5 248.5 943.5 249.7 948.2 254.1 955.8 267.6 957.1 272.1 957.4 276.6 955.2 286.1 953.2 290.6 950.4 294.6 947.0 297.8 942.5 300.8 938.0 303.0 933.5 304.2ZM934.0 302.7 929.0 302.8 924.5 301.6 920.0 298.8 915.4 294.6 911.1 289.6 908.5 285.1 906.8 279.6 906.3 274.1 906.8 270.1 908.5 266.4 918.0 256.1 926.0 250.9 930.0 249.7 935.0 249.3 942.0 250.6 946.9 254.6 954.2 266.6 955.7 271.1 956.1 275.1 954.2 285.1 950.0 293.1 947.0 296.2 942.5 299.3 938.5 301.4 934.0 302.7ZM934.5 301.2 930.0 301.5 926.0 300.7 922.0 298.7 918.0 295.5 913.1 290.1 910.1 285.6 908.3 280.6 907.6 275.6 908.1 271.1 909.6 267.6 918.4 257.6 922.0 254.6 926.0 252.4 933.5 250.9 940.5 251.9 945.5 255.3 952.7 266.1 954.2 270.1 954.8 274.1 953.1 283.6 951.2 288.6 949.0 292.1 942.5 297.8 934.5 301.2ZM931.0 300.1 927.0 299.6 923.0 297.8 915.6 291.1 910.5 283.1 909.3 279.1 909.1 274.6 909.8 271.1 911.6 267.6 921.0 257.1 927.5 253.4 935.0 252.7 941.5 254.5 947.0 259.6 952.3 268.1 953.3 271.6 953.4 275.6 950.8 285.6 946.7 292.6 943.3 295.6 939.0 298.1 935.0 299.6 931.0 300.1ZM931.5 298.6 928.0 298.4 924.5 297.1 918.2 292.1 912.2 283.6 910.9 279.6 910.5 276.1 911.1 272.6 912.4 269.6 920.5 259.6 926.0 255.7 932.0 254.6 939.0 255.9 945.0 259.9 950.4 267.1 952.0 273.6 951.6 277.6 949.8 283.6 945.8 291.1 942.7 294.1 939.0 296.4 935.5 297.9 931.5 298.6ZM934.0 296.6 930.5 297.1 927.5 296.7 921.7 293.6 915.3 286.1 913.2 282.1 912.3 278.6 913.0 272.6 917.4 265.6 923.5 259.1 929.0 256.8 935.5 257.5 943.0 260.9 948.0 265.8 950.4 271.6 949.7 278.6 945.5 288.4 940.5 293.6 934.0 296.6ZM932.5 295.2 927.0 294.9 922.0 291.9 916.5 285.1 914.1 278.6 914.8 273.1 919.2 266.1 924.0 261.0 929.0 259.1 934.0 259.9 943.5 263.9 947.1 267.6 948.7 272.1 947.6 279.1 943.2 288.1 938.5 292.6 932.5 295.2ZM932.5 293.2 927.5 293.1 923.0 290.6 918.2 284.6 916.1 279.1 916.6 274.1 919.5 268.6 924.0 263.6 928.0 261.7 932.0 262.1 942.0 265.8 945.3 268.6 946.7 272.1 945.9 277.6 941.7 286.1 937.5 290.7 932.5 293.2ZM931.0 291.2 927.0 290.8 923.5 288.5 919.8 283.6 918.1 278.6 918.8 274.1 921.2 269.6 924.5 266.0 928.0 264.5 931.5 264.9 941.0 268.5 943.3 270.6 944.2 273.1 943.1 278.1 938.9 285.6 935.0 289.5 931.0 291.2ZM931.5 288.2 928.0 288.4 925.0 286.8 922.3 283.6 920.7 279.6 920.6 276.1 922.1 272.1 924.5 269.1 927.5 267.5 931.0 267.7 936.5 269.9 939.5 272.0 940.5 274.1 940.0 277.6 937.5 282.6 934.5 286.3 931.5 288.2ZM930.5 284.7 928.0 284.8 926.0 283.6 924.4 281.6 923.4 278.6 923.5 276.1 924.5 273.5 926.3 271.6 928.5 270.7 931.0 270.9 933.7 272.1 935.4 273.6 936.3 275.6 936.1 278.1 934.7 281.1 932.5 283.6 930.5 284.7ZM930.5 278.3 929.5 278.4 928.8 277.6 928.9 276.6 930.0 275.8 931.6 276.6 930.5 278.3Z" fill="none" stroke="#e8c10e" stroke-width="1.45" stroke-linejoin="round"/><path d="M1293.2 286.9 1287.7 286.8 1280.7 285.2 1273.7 282.5 1268.7 279.3 1265.8 276.3 1263.8 272.8 1260.4 259.8 1260.5 255.8 1261.9 250.8 1264.9 243.8 1268.2 238.8 1272.7 234.3 1278.7 230.0 1284.2 227.2 1288.7 226.2 1292.7 226.6 1296.2 228.0 1300.0 230.8 1304.3 235.3 1308.4 240.8 1311.5 246.3 1313.5 251.8 1314.4 256.8 1313.4 264.3 1309.3 272.8 1299.7 283.8 1296.7 285.8 1293.2 286.9ZM1293.7 285.4 1288.7 285.6 1283.2 284.5 1274.7 281.5 1269.7 278.6 1266.8 275.8 1264.7 272.3 1261.5 260.3 1261.6 256.3 1262.8 251.8 1266.0 244.8 1269.2 240.1 1273.7 235.7 1279.7 231.2 1284.7 228.7 1288.7 227.7 1292.7 228.2 1296.2 229.8 1304.1 237.3 1310.5 246.8 1312.5 251.8 1313.3 256.3 1312.3 263.8 1308.5 271.8 1299.7 282.0 1296.7 284.2 1293.7 285.4ZM1293.7 283.9 1289.2 284.2 1283.7 283.2 1275.7 280.6 1270.7 277.8 1267.7 275.0 1265.7 271.8 1262.7 260.8 1262.8 256.8 1263.8 252.8 1267.0 246.3 1270.0 241.8 1274.2 237.5 1279.7 233.2 1284.2 230.6 1288.2 229.5 1291.7 229.7 1295.2 231.1 1303.2 238.4 1309.5 247.3 1312.1 255.8 1311.4 262.8 1307.6 270.8 1299.2 280.6 1296.7 282.6 1293.7 283.9ZM1293.2 282.4 1289.2 282.7 1283.7 281.7 1275.7 279.2 1271.2 276.6 1268.3 273.8 1266.5 270.8 1263.9 261.3 1264.0 257.3 1265.1 253.3 1271.4 242.8 1275.2 238.8 1280.2 234.8 1284.2 232.4 1288.2 231.3 1291.7 231.6 1294.7 232.9 1303.2 240.4 1308.5 247.8 1310.9 255.8 1310.0 262.8 1306.3 270.3 1298.7 279.2 1296.2 281.1 1293.2 282.4ZM1292.7 280.8 1288.7 281.1 1283.7 280.2 1276.7 278.1 1272.2 275.8 1269.5 273.3 1267.6 270.3 1265.2 261.3 1265.3 257.3 1266.5 253.8 1273.6 242.8 1281.2 236.0 1284.7 234.1 1288.2 233.2 1291.2 233.5 1294.2 234.8 1302.7 241.9 1307.3 248.3 1309.5 255.3 1308.9 261.8 1305.3 269.3 1298.2 277.7 1295.7 279.6 1292.7 280.8ZM1290.7 279.3 1286.7 279.1 1280.2 277.7 1272.7 274.4 1270.2 272.0 1268.5 269.3 1266.5 261.3 1266.7 257.8 1268.0 254.3 1275.4 243.3 1281.7 237.7 1285.2 235.9 1288.2 235.3 1291.2 235.6 1294.2 237.0 1302.2 243.4 1306.4 249.3 1308.2 255.8 1307.1 262.8 1302.9 270.3 1296.7 276.9 1293.7 278.6 1290.7 279.3ZM1291.2 277.4 1287.7 277.5 1282.7 276.6 1274.2 273.6 1270.1 269.3 1268.0 262.3 1268.1 258.8 1269.1 255.8 1276.8 244.3 1282.2 239.3 1287.7 237.4 1293.2 238.6 1300.7 243.9 1304.8 249.3 1306.7 255.3 1305.8 261.8 1302.1 268.8 1296.7 274.8 1294.2 276.4 1291.2 277.4ZM1291.2 275.4 1283.7 275.1 1275.7 272.6 1271.6 268.8 1269.5 262.8 1269.6 259.8 1270.5 256.8 1277.7 245.8 1282.2 241.3 1287.2 239.4 1292.7 240.4 1299.2 244.6 1303.1 249.3 1305.0 254.8 1304.4 260.8 1301.3 267.3 1296.2 272.9 1291.2 275.4ZM1291.2 273.3 1284.7 273.4 1277.1 271.3 1273.2 268.1 1271.2 263.3 1271.2 260.3 1272.2 257.3 1278.6 247.3 1282.3 243.3 1286.7 241.4 1291.7 241.9 1297.7 245.4 1301.6 249.8 1303.3 254.8 1302.8 260.3 1300.0 266.3 1295.7 271.0 1291.2 273.3ZM1290.7 271.3 1284.7 271.5 1278.2 269.7 1274.6 266.8 1273.0 262.8 1273.9 257.8 1279.4 248.8 1283.2 244.8 1287.2 243.2 1291.7 243.8 1296.7 246.6 1299.9 250.3 1301.5 254.8 1301.1 259.8 1298.5 265.3 1294.7 269.4 1290.7 271.3ZM1290.2 269.4 1285.2 269.6 1279.7 268.2 1276.5 265.8 1275.0 262.3 1276.0 257.3 1280.6 249.8 1284.2 246.3 1287.7 245.1 1291.7 245.7 1295.7 248.0 1298.4 251.3 1299.6 255.3 1299.1 259.8 1297.0 264.3 1293.7 267.8 1290.2 269.4ZM1289.7 267.4 1285.2 267.6 1280.8 266.3 1278.3 264.3 1277.2 261.3 1278.0 257.3 1281.5 251.3 1284.7 248.2 1287.7 247.1 1291.2 247.5 1294.4 249.3 1296.5 251.8 1297.6 255.3 1297.2 259.3 1295.7 262.8 1293.2 265.6 1289.7 267.4ZM1288.7 265.4 1285.2 265.4 1282.2 264.4 1280.4 262.8 1279.6 260.3 1280.3 256.8 1283.0 252.3 1285.7 250.0 1288.7 249.2 1291.2 249.8 1293.4 251.3 1295.0 253.8 1295.4 256.3 1295.0 259.3 1293.5 262.3 1291.2 264.4 1288.7 265.4Z" fill="none" stroke="#e8c10e" stroke-width="1.45" stroke-linejoin="round"/><path d="M1779.9 19.6 1775.4 19.9 1771.9 18.4 1770.0 15.5 1770.9 12.5 1773.4 10.7 1776.4 10.0 1779.4 10.3 1782.4 11.8 1783.7 13.5 1783.9 16.0 1782.4 18.2 1779.9 19.6Z" fill="none" stroke="#ff00ff" stroke-width="1.15" stroke-linejoin="round"/><path d="M1619.2 101.0 1614.7 101.0 1610.2 98.7 1606.9 94.5 1605.4 89.0 1605.8 82.0 1608.0 76.5 1611.7 72.4 1616.2 70.6 1620.2 71.2 1625.2 74.2 1629.2 73.5 1631.2 74.0 1633.6 77.0 1634.8 82.0 1634.4 88.0 1632.3 93.0 1630.7 94.3 1626.7 95.3 1622.7 99.2 1619.2 101.0ZM1619.2 99.5 1614.7 99.6 1610.7 97.4 1607.8 93.5 1606.5 88.5 1606.8 82.5 1608.8 77.5 1612.2 73.8 1616.2 72.1 1620.2 72.8 1625.2 76.4 1628.7 75.1 1630.7 75.2 1632.8 77.5 1634.0 82.0 1633.8 87.0 1632.0 91.5 1630.2 92.8 1626.2 93.4 1622.2 97.8 1619.2 99.5ZM1618.7 98.1 1614.7 98.0 1611.2 96.0 1608.7 92.5 1607.6 88.0 1608.0 83.0 1609.7 78.5 1612.7 75.2 1616.2 73.8 1620.2 74.6 1625.2 79.2 1628.7 76.9 1630.7 76.9 1632.4 79.0 1633.3 82.5 1632.9 87.0 1631.2 90.4 1629.2 91.2 1626.2 90.5 1622.1 96.0 1618.7 98.1ZM1617.7 96.6 1614.7 96.3 1611.7 94.4 1609.7 91.0 1608.9 87.0 1609.5 82.5 1611.1 79.0 1613.7 76.5 1616.7 75.6 1619.2 76.1 1621.7 78.1 1623.8 81.5 1624.8 85.0 1624.4 88.5 1622.5 93.0 1620.2 95.5 1617.7 96.6ZM1629.7 89.1 1627.4 87.5 1626.4 84.5 1627.5 80.5 1629.7 78.6 1631.7 80.3 1632.4 84.0 1631.6 87.5 1629.7 89.1ZM1618.2 94.5 1615.7 94.7 1613.2 93.4 1611.4 91.0 1610.5 88.0 1610.5 84.5 1611.8 81.0 1613.7 78.7 1616.2 77.6 1618.7 78.0 1620.6 79.5 1622.1 82.0 1622.8 85.0 1622.7 88.0 1621.8 91.0 1620.2 93.2 1618.2 94.5ZM1630.2 86.3 1629.2 86.2 1628.5 84.5 1628.7 82.4 1629.7 81.3 1630.7 81.9 1631.1 83.5 1630.2 86.3Z" fill="none" stroke="#ff00ff" stroke-width="1.15" stroke-linejoin="round"/><path d="M1714.2 144.2 1703.7 143.6 1692.2 139.8 1689.2 137.6 1686.7 134.7 1683.3 127.2 1682.3 105.7 1683.5 98.7 1686.2 93.8 1690.7 88.8 1694.7 85.7 1699.2 83.9 1705.7 83.1 1713.2 83.6 1725.2 85.8 1731.7 88.4 1735.0 91.2 1737.4 94.7 1743.2 111.2 1744.2 117.2 1744.0 122.7 1742.7 127.2 1740.0 131.2 1734.7 136.0 1728.2 140.0 1721.2 142.9 1714.2 144.2ZM1712.7 141.7 1703.7 140.8 1693.7 136.9 1688.9 132.2 1686.4 125.7 1685.3 105.2 1686.4 99.2 1689.2 94.7 1693.7 90.0 1697.7 87.3 1701.7 86.0 1708.7 85.8 1720.2 87.4 1726.7 88.9 1730.7 90.8 1733.3 93.2 1735.4 96.7 1740.3 112.7 1740.9 118.2 1740.5 123.2 1739.1 127.2 1736.5 130.7 1731.7 134.7 1725.7 138.1 1718.7 140.7 1712.7 141.7ZM1714.7 138.7 1706.7 138.5 1697.8 135.2 1692.7 131.2 1690.0 125.7 1688.8 106.7 1689.4 101.2 1691.5 97.2 1695.0 93.2 1698.7 90.3 1702.2 88.9 1707.7 88.5 1718.2 89.8 1724.2 90.9 1728.2 92.5 1730.7 94.5 1732.5 97.2 1736.3 109.2 1737.4 115.2 1737.5 120.2 1736.6 124.2 1734.7 127.7 1731.7 130.9 1727.2 133.9 1720.2 137.2 1714.7 138.7ZM1713.7 135.7 1707.2 135.4 1700.7 132.6 1695.7 128.2 1693.5 123.2 1692.5 108.2 1693.4 102.2 1695.2 98.7 1698.2 95.3 1701.2 93.1 1704.2 92.1 1708.7 91.8 1718.7 92.8 1726.2 95.0 1728.3 96.7 1730.0 99.2 1733.0 108.7 1733.8 118.7 1733.0 122.7 1731.4 125.7 1728.5 128.7 1724.2 131.6 1718.2 134.5 1713.7 135.7ZM1712.7 132.3 1707.2 131.6 1702.0 128.7 1698.6 124.7 1696.7 119.2 1696.0 109.7 1697.1 103.7 1700.7 98.5 1703.2 96.8 1706.2 95.8 1716.7 95.8 1723.5 97.7 1727.2 101.7 1729.7 109.2 1729.8 117.2 1728.8 120.7 1727.2 123.7 1724.2 126.7 1720.2 129.5 1716.2 131.4 1712.7 132.3ZM1713.2 127.8 1708.7 127.6 1704.7 125.4 1701.6 121.7 1699.8 116.7 1699.3 110.2 1700.6 105.2 1703.5 101.7 1707.7 99.9 1714.7 99.6 1720.2 101.0 1723.7 104.1 1725.5 108.7 1725.6 114.7 1723.1 120.7 1718.7 125.3 1713.2 127.8ZM1711.7 122.2 1708.7 121.8 1705.7 119.7 1703.8 116.7 1703.0 113.2 1703.3 109.7 1704.7 106.9 1707.2 105.0 1710.2 104.2 1714.2 104.5 1717.3 105.7 1719.7 108.2 1720.5 111.2 1719.8 115.2 1717.8 118.7 1714.9 121.2 1711.7 122.2Z" fill="none" stroke="#ff00ff" stroke-width="1.15" stroke-linejoin="round"/><path d="M1559.9 200.9 1557.4 200.6 1554.7 197.7 1552.7 192.2 1552.0 186.2 1552.3 180.2 1553.8 174.2 1555.9 170.7 1558.9 169.0 1561.4 170.0 1563.7 173.2 1565.2 177.7 1566.0 184.2 1565.6 190.2 1564.2 195.7 1562.4 199.0 1559.9 200.9ZM1559.4 199.3 1556.9 198.5 1554.9 195.7 1553.3 190.7 1552.7 185.7 1553.1 180.2 1554.5 175.2 1556.4 172.0 1558.9 170.7 1561.4 171.8 1563.3 174.7 1564.7 179.2 1565.3 184.2 1564.8 190.2 1563.6 194.7 1561.9 197.7 1559.4 199.3ZM1559.9 197.2 1557.4 196.9 1555.6 194.7 1554.2 190.7 1553.6 186.2 1553.8 181.2 1555.0 176.7 1556.9 173.5 1558.9 172.6 1560.9 173.4 1562.6 175.7 1563.8 179.2 1564.4 184.2 1563.3 192.7 1561.8 195.7 1559.9 197.2ZM1559.4 195.3 1557.4 194.7 1556.0 192.7 1554.5 185.7 1555.6 178.2 1556.9 175.8 1558.9 174.6 1560.9 175.6 1562.2 177.7 1563.5 184.7 1562.5 191.7 1561.1 194.2 1559.4 195.3ZM1559.9 192.8 1558.4 192.9 1557.1 191.7 1555.5 186.2 1556.3 179.7 1557.4 177.8 1558.9 176.9 1561.2 178.7 1562.5 183.7 1562.0 189.2 1559.9 192.8Z" fill="none" stroke="#ff00ff" stroke-width="1.15" stroke-linejoin="round"/><path d="M1582.0 216.4 1579.5 216.1 1577.6 213.2 1578.0 209.7 1580.5 207.5 1583.0 208.2 1584.4 210.7 1584.1 214.2 1582.0 216.4Z" fill="none" stroke="#ff00ff" stroke-width="1.15" stroke-linejoin="round"/><path d="M1535.8 258.0 1531.3 258.0 1523.3 256.6 1517.8 255.1 1513.8 253.2 1510.3 250.6 1507.3 247.4 1501.1 236.9 1500.1 233.4 1500.2 229.9 1503.7 219.4 1508.4 212.4 1511.3 210.0 1514.8 208.1 1521.8 206.0 1531.8 204.3 1537.8 204.1 1542.8 205.2 1546.8 207.3 1550.1 210.4 1558.4 223.4 1559.4 227.9 1558.9 232.4 1556.5 238.9 1552.6 246.9 1549.3 250.9 1545.3 254.0 1540.3 256.7 1535.8 258.0ZM1535.8 254.9 1531.3 255.1 1525.3 254.2 1515.8 251.2 1509.8 246.3 1504.7 237.9 1503.5 234.4 1503.2 230.9 1505.3 222.4 1509.8 215.2 1512.8 212.6 1516.3 210.7 1522.8 208.5 1530.3 207.0 1536.3 206.6 1540.8 207.4 1544.3 209.1 1547.4 211.9 1554.8 223.4 1556.0 227.4 1555.7 231.9 1553.7 237.9 1550.1 245.4 1547.4 248.9 1543.8 251.8 1539.8 253.9 1535.8 254.9ZM1534.3 252.0 1529.3 251.9 1522.8 250.8 1518.3 249.3 1514.8 247.2 1511.5 243.9 1508.7 239.4 1506.8 234.9 1506.2 230.9 1506.7 226.9 1508.3 222.4 1510.5 218.9 1513.6 215.9 1517.3 213.5 1522.3 211.5 1533.3 209.4 1539.3 210.2 1544.3 213.4 1550.5 222.4 1552.0 225.9 1552.5 228.9 1550.9 236.4 1546.2 245.4 1540.8 250.0 1534.3 252.0ZM1534.3 248.5 1525.8 248.5 1521.3 247.3 1517.8 245.5 1514.8 243.0 1512.4 239.9 1510.5 235.9 1509.5 231.9 1509.5 228.4 1510.5 224.9 1514.3 219.4 1521.3 215.1 1529.8 212.7 1536.3 213.0 1541.0 215.4 1546.0 221.9 1548.5 228.4 1547.8 234.4 1544.2 241.9 1539.8 246.3 1534.3 248.5ZM1531.8 245.0 1525.3 245.0 1519.3 242.4 1514.9 237.4 1512.9 230.9 1513.8 225.9 1517.2 221.4 1523.3 217.7 1529.8 216.1 1534.8 216.6 1538.8 219.1 1542.5 224.4 1543.9 229.4 1543.2 234.4 1540.3 239.8 1536.3 243.3 1531.8 245.0ZM1530.3 240.4 1525.8 240.7 1521.8 238.9 1518.6 235.4 1517.2 230.9 1517.9 227.4 1520.3 224.2 1524.3 221.6 1528.8 220.4 1532.3 220.9 1535.3 222.8 1537.4 225.9 1538.3 229.4 1537.8 232.9 1536.3 236.0 1533.8 238.6 1530.3 240.4Z" fill="none" stroke="#ff00ff" stroke-width="1.15" stroke-linejoin="round"/><path d="M1668.2 291.1 1663.2 291.0 1658.7 289.3 1654.2 285.8 1649.8 280.6 1647.5 276.6 1646.4 273.1 1645.3 259.1 1645.9 250.1 1648.7 244.0 1652.2 240.5 1660.7 233.9 1663.7 232.2 1666.7 231.6 1669.7 232.2 1672.7 234.0 1679.7 240.3 1683.3 244.6 1686.0 250.6 1687.1 260.6 1687.0 266.1 1686.1 270.6 1680.4 282.6 1677.8 286.1 1675.2 288.4 1671.7 290.2 1668.2 291.1ZM1667.2 288.1 1662.7 287.6 1658.7 285.8 1654.7 282.6 1651.5 278.6 1648.6 271.6 1647.4 257.6 1648.2 250.1 1651.1 245.1 1661.2 237.2 1664.2 235.6 1666.7 235.2 1669.7 235.9 1672.7 237.7 1677.7 241.8 1681.2 245.7 1684.0 251.6 1685.0 261.1 1684.8 265.6 1683.8 270.1 1678.2 281.1 1673.2 286.2 1667.2 288.1ZM1668.2 284.6 1664.2 284.5 1660.7 283.3 1657.2 280.9 1654.2 277.6 1651.2 271.1 1649.6 259.1 1650.2 252.6 1652.7 247.7 1660.2 241.9 1666.2 239.5 1668.7 239.7 1671.7 241.0 1678.4 246.6 1681.4 252.1 1682.8 260.1 1681.9 268.1 1678.0 276.6 1673.6 282.1 1671.2 283.7 1668.2 284.6ZM1668.2 281.1 1665.2 281.2 1662.2 280.4 1659.2 278.5 1656.7 275.9 1653.8 270.1 1652.1 260.1 1652.7 254.1 1655.0 250.1 1660.2 246.4 1666.2 244.3 1671.2 245.4 1676.2 249.4 1679.0 254.1 1680.3 260.6 1679.6 267.1 1676.5 274.1 1672.7 278.9 1668.2 281.1ZM1667.2 277.6 1662.7 276.8 1658.9 273.6 1656.3 268.6 1655.0 261.6 1655.4 257.1 1657.2 253.5 1660.7 251.0 1665.7 249.6 1669.7 250.3 1673.7 253.1 1676.3 257.1 1677.3 261.6 1676.6 267.1 1674.1 272.6 1671.0 276.1 1667.2 277.6ZM1666.2 273.6 1663.2 272.7 1660.9 270.6 1659.3 267.6 1658.4 263.6 1658.6 260.1 1659.7 257.6 1661.7 255.8 1664.7 254.9 1667.7 255.3 1670.7 257.1 1672.7 259.9 1673.5 263.1 1673.0 267.1 1671.3 270.6 1669.2 272.7 1666.2 273.6Z" fill="none" stroke="#ff00ff" stroke-width="1.15" stroke-linejoin="round"/><path d="M1925.8 281.3 1918.8 281.6 1913.3 280.4 1907.3 277.0 1903.5 272.8 1901.6 266.8 1901.4 253.3 1901.9 247.8 1903.7 243.3 1906.3 240.1 1909.8 237.5 1914.3 235.6 1918.8 234.7 1942.3 235.1 1947.3 236.0 1951.3 237.7 1954.1 239.8 1956.4 242.8 1959.1 250.8 1960.1 264.3 1959.1 269.8 1957.5 273.8 1953.8 278.0 1947.8 280.6 1942.8 281.3 1925.8 281.3ZM1941.3 278.8 1917.8 278.9 1912.3 277.0 1907.7 273.3 1905.8 270.3 1904.6 266.3 1904.6 253.3 1906.1 246.3 1909.8 241.5 1912.8 239.6 1916.8 238.0 1925.8 237.0 1944.3 238.1 1948.8 239.7 1952.3 242.5 1954.5 246.3 1956.0 252.3 1957.0 262.3 1956.2 268.8 1954.3 272.8 1951.3 275.9 1946.8 278.0 1941.3 278.8ZM1926.8 276.3 1920.8 276.4 1916.3 275.5 1912.3 273.2 1909.5 269.8 1908.0 265.8 1907.7 259.8 1908.4 251.8 1910.2 246.8 1912.3 244.3 1915.3 242.1 1922.3 240.0 1940.3 240.5 1946.8 242.4 1950.3 245.8 1952.2 251.3 1953.6 263.3 1953.1 267.3 1951.9 270.3 1948.8 273.7 1944.3 275.7 1926.8 276.3ZM1940.3 273.4 1921.3 273.3 1917.3 272.1 1914.4 269.8 1911.9 264.8 1911.7 256.8 1913.0 250.3 1915.8 246.3 1920.3 243.7 1926.3 242.9 1940.3 244.0 1943.3 245.0 1945.8 246.8 1947.4 249.3 1948.6 253.3 1950.0 261.3 1949.8 265.8 1948.6 268.8 1946.8 270.9 1943.8 272.6 1940.3 273.4ZM1938.8 270.3 1923.8 270.0 1920.3 269.0 1918.1 267.3 1916.2 263.3 1916.0 256.8 1916.8 252.3 1919.1 248.8 1922.8 246.8 1927.3 246.4 1937.8 247.5 1942.3 249.9 1944.9 255.3 1946.1 260.8 1946.1 264.3 1945.3 266.6 1943.8 268.4 1938.8 270.3ZM1936.8 266.8 1926.8 266.5 1924.2 265.8 1922.3 264.5 1920.9 261.8 1920.6 257.8 1921.1 254.3 1922.7 251.8 1925.8 250.4 1929.8 250.4 1935.8 251.4 1938.8 253.3 1941.0 257.8 1941.6 262.8 1940.3 265.3 1936.8 266.8Z" fill="none" stroke="#ff00ff" stroke-width="1.15" stroke-linejoin="round"/><path d="M1776.0 23.3 1774.5 23.4 1773.2 22.5 1771.5 18.0 1772.2 13.0 1773.5 11.2 1775.0 10.5 1777.3 12.0 1778.5 16.0 1778.1 20.0 1776.0 23.3Z" fill="none" stroke="#148a14" stroke-width="1.45" stroke-linejoin="round"/><path d="M1621.4 107.5 1616.4 107.3 1612.1 104.4 1609.2 99.9 1607.6 93.4 1607.9 85.9 1609.9 79.9 1613.4 75.6 1617.9 73.8 1622.4 74.5 1628.9 78.6 1635.4 79.0 1638.4 80.0 1641.5 82.9 1643.0 86.9 1642.5 90.9 1640.3 94.4 1637.4 96.4 1631.4 98.5 1625.9 105.0 1621.4 107.5ZM1620.4 105.9 1616.9 105.6 1613.9 104.0 1611.4 101.1 1609.7 97.4 1608.9 92.4 1609.1 87.4 1610.2 82.9 1612.1 79.4 1615.4 76.5 1619.4 75.7 1622.4 76.6 1627.9 80.2 1634.9 80.1 1638.9 81.8 1640.8 83.9 1641.8 86.9 1641.6 89.9 1640.1 92.9 1636.9 95.4 1630.4 97.2 1624.9 103.8 1620.4 105.9ZM1620.4 104.0 1617.4 103.8 1614.7 102.4 1612.5 99.9 1611.0 96.4 1610.2 91.9 1610.5 87.4 1611.7 83.4 1613.6 80.4 1616.4 78.3 1619.4 77.9 1622.4 78.9 1627.4 82.3 1634.4 81.4 1638.4 83.1 1639.8 84.9 1640.5 87.4 1640.3 89.9 1638.9 92.4 1635.4 94.5 1629.4 95.5 1624.4 101.9 1620.4 104.0ZM1619.9 101.9 1617.4 101.7 1615.3 100.4 1613.3 97.9 1612.2 94.9 1612.1 87.9 1613.3 84.4 1614.9 82.1 1616.9 80.7 1619.4 80.3 1622.4 81.5 1626.9 85.3 1633.4 82.9 1635.9 83.3 1637.6 84.4 1639.1 87.9 1638.7 89.9 1637.4 91.8 1634.4 93.2 1628.4 93.0 1623.9 99.8 1619.9 101.9Z" fill="none" stroke="#148a14" stroke-width="1.45" stroke-linejoin="round"/><path d="M1710.2 145.0 1705.2 144.8 1700.7 143.3 1689.7 136.5 1685.7 133.0 1684.0 130.0 1683.1 126.5 1681.0 112.5 1681.5 107.0 1683.7 102.0 1687.6 96.5 1692.7 91.3 1697.2 88.3 1701.7 87.0 1709.2 86.6 1718.7 86.8 1725.2 87.8 1729.2 89.4 1733.2 92.3 1743.7 105.0 1746.2 111.0 1745.5 118.5 1743.5 124.5 1740.6 130.0 1737.2 134.5 1733.2 138.2 1729.2 140.7 1724.2 142.8 1710.2 145.0ZM1710.2 143.5 1705.2 143.2 1700.7 141.7 1691.2 135.9 1686.9 132.0 1685.3 129.0 1684.3 125.0 1682.6 113.5 1683.0 108.0 1684.9 103.5 1689.1 97.5 1693.7 92.8 1697.7 90.1 1702.7 88.7 1710.7 88.0 1718.7 88.1 1724.7 89.1 1728.7 90.7 1732.5 93.5 1741.9 105.0 1743.9 108.5 1744.7 111.5 1744.1 118.5 1741.9 124.5 1738.9 130.0 1735.5 134.5 1731.7 137.9 1727.7 140.3 1723.2 141.9 1710.2 143.5ZM1711.7 142.0 1705.7 141.7 1701.2 140.2 1693.2 135.5 1688.7 131.7 1686.8 128.5 1685.6 124.0 1684.1 114.5 1684.4 109.5 1686.2 105.0 1690.0 99.5 1694.2 94.9 1698.2 92.1 1703.2 90.4 1709.7 89.5 1716.7 89.3 1722.7 90.0 1726.7 91.3 1730.2 93.4 1738.1 102.0 1742.8 110.0 1743.4 113.5 1743.0 117.0 1741.4 122.0 1737.9 129.0 1734.7 133.5 1731.7 136.5 1727.7 139.0 1723.2 140.8 1711.7 142.0ZM1717.7 140.5 1707.7 140.3 1700.7 138.2 1691.2 132.0 1689.1 129.5 1687.6 126.0 1685.6 114.5 1685.8 111.0 1687.0 107.5 1690.1 102.5 1694.7 97.2 1698.7 94.1 1703.2 92.2 1709.7 90.8 1715.7 90.6 1721.7 91.2 1726.2 92.7 1730.2 95.3 1734.4 99.5 1738.9 105.5 1741.3 110.5 1741.8 114.5 1740.8 119.5 1737.9 126.0 1733.9 132.5 1730.7 135.8 1726.7 138.3 1722.7 139.7 1717.7 140.5ZM1720.2 139.1 1709.7 139.0 1701.2 136.7 1696.2 133.9 1692.7 131.2 1690.5 128.5 1689.0 125.0 1687.1 115.0 1687.4 111.5 1688.7 108.0 1692.2 102.9 1696.7 98.1 1700.7 95.2 1705.2 93.3 1710.2 92.1 1715.7 91.8 1721.2 92.5 1725.7 94.1 1729.7 96.7 1733.4 100.5 1737.5 106.0 1739.5 110.0 1740.2 114.0 1739.5 118.5 1733.7 130.5 1731.2 133.6 1728.2 136.1 1724.7 137.9 1720.2 139.1ZM1718.7 138.0 1713.2 138.0 1707.7 137.0 1702.2 135.3 1697.7 133.0 1694.4 130.5 1692.2 128.0 1689.3 120.0 1688.7 115.5 1689.1 112.0 1690.5 108.5 1692.8 105.0 1696.7 100.6 1700.7 97.4 1704.7 95.2 1709.7 93.6 1714.2 93.1 1718.7 93.4 1723.2 94.6 1726.7 96.4 1730.7 99.7 1734.4 104.0 1737.0 108.0 1738.4 112.0 1738.5 116.0 1737.4 120.0 1731.3 131.5 1728.7 134.2 1725.7 136.2 1718.7 138.0ZM1720.7 136.6 1716.2 136.9 1711.2 136.3 1700.7 132.7 1694.7 128.4 1692.8 125.5 1691.3 121.5 1690.4 114.0 1691.2 111.0 1693.2 107.5 1696.7 103.2 1700.8 99.5 1705.2 96.7 1709.2 95.2 1713.2 94.5 1717.7 94.6 1721.7 95.6 1725.2 97.3 1728.7 99.9 1732.2 103.5 1734.9 107.5 1736.4 111.0 1736.9 114.5 1736.4 118.0 1731.4 129.0 1726.8 134.0 1720.7 136.6ZM1719.2 135.5 1715.2 135.6 1710.7 134.8 1699.7 130.2 1695.2 126.0 1692.4 119.0 1692.1 115.5 1692.6 112.5 1696.2 106.4 1703.7 99.5 1707.7 97.3 1711.2 96.2 1718.2 96.2 1725.2 99.2 1731.4 105.0 1733.6 108.5 1734.9 112.0 1735.1 115.5 1734.4 119.0 1729.6 129.0 1725.2 133.5 1719.2 135.5ZM1720.2 134.0 1716.2 134.4 1712.2 133.8 1702.2 129.7 1697.2 125.6 1694.4 120.0 1694.2 114.0 1696.8 108.5 1703.7 101.5 1710.7 97.9 1717.2 97.7 1723.7 100.3 1729.7 105.7 1732.9 112.0 1732.9 118.0 1729.1 127.0 1725.2 131.7 1720.2 134.0ZM1717.2 133.0 1710.2 131.7 1702.0 127.5 1698.0 123.5 1696.0 118.0 1696.8 112.5 1700.4 107.0 1706.7 101.6 1712.7 99.3 1718.2 99.8 1724.1 103.0 1728.9 108.0 1731.1 113.5 1730.4 120.0 1726.6 128.0 1722.7 131.6 1717.2 133.0ZM1717.2 131.5 1711.2 130.5 1704.2 126.8 1700.2 123.0 1698.3 118.5 1698.7 113.5 1701.7 108.5 1706.7 103.9 1712.2 101.5 1717.2 101.8 1722.2 104.5 1726.6 109.0 1728.7 114.0 1728.3 120.0 1725.5 126.5 1722.1 130.0 1717.2 131.5ZM1718.7 129.6 1714.2 129.7 1708.7 127.5 1703.7 123.8 1701.0 119.5 1700.7 115.5 1702.6 111.0 1706.3 107.0 1710.7 104.5 1714.7 104.1 1719.2 105.9 1723.2 109.6 1725.6 114.0 1726.1 119.0 1724.7 124.0 1722.2 127.6 1718.7 129.6ZM1718.2 127.6 1714.7 127.9 1710.7 126.5 1706.6 123.5 1704.1 120.0 1703.5 117.0 1704.3 113.5 1706.7 110.3 1709.7 108.2 1712.7 107.6 1716.2 108.5 1719.7 111.2 1722.4 115.0 1723.3 118.5 1722.8 122.5 1721.2 125.5 1718.2 127.6Z" fill="none" stroke="#148a14" stroke-width="1.45" stroke-linejoin="round"/><path d="M1563.4 210.0 1560.4 208.8 1558.2 205.4 1556.7 200.4 1556.0 193.9 1556.3 187.9 1557.7 181.9 1559.9 177.8 1562.9 176.0 1565.4 177.0 1567.7 180.4 1569.3 185.4 1570.0 192.4 1569.6 198.9 1568.2 204.4 1565.9 208.5 1563.4 210.0ZM1563.9 207.6 1561.4 207.3 1559.1 204.4 1557.6 199.9 1556.9 194.4 1557.2 188.4 1558.5 182.9 1560.4 179.6 1562.9 178.2 1564.9 178.9 1567.0 181.9 1568.6 186.9 1569.1 191.9 1568.8 197.9 1567.7 202.4 1565.9 206.0 1563.9 207.6ZM1563.9 205.2 1561.9 205.1 1560.0 202.9 1558.6 199.4 1557.9 194.4 1558.1 189.4 1559.2 184.9 1560.9 181.7 1562.9 180.6 1564.9 181.5 1566.4 183.9 1568.1 191.9 1567.1 200.4 1565.7 203.4 1563.9 205.2ZM1563.4 202.5 1561.9 202.2 1560.4 200.2 1559.0 193.4 1560.1 186.4 1561.4 184.2 1562.9 183.4 1564.4 184.0 1565.7 185.9 1566.9 192.4 1566.1 198.9 1564.9 201.4 1563.4 202.5Z" fill="none" stroke="#148a14" stroke-width="1.45" stroke-linejoin="round"/><path d="M1533.9 256.0 1528.9 256.2 1523.9 255.5 1519.4 254.2 1514.9 251.8 1510.9 248.5 1507.5 244.5 1505.0 240.0 1504.0 236.0 1504.0 231.5 1505.2 226.5 1507.6 221.0 1510.9 216.0 1514.1 213.0 1517.9 210.7 1522.9 208.8 1528.4 207.8 1533.9 207.6 1538.9 208.2 1543.4 209.7 1548.4 212.4 1552.4 215.5 1554.9 218.5 1556.6 222.0 1557.6 226.5 1557.8 233.0 1557.2 238.5 1555.7 243.0 1553.5 246.5 1549.9 250.0 1545.4 252.7 1539.9 254.8 1533.9 256.0ZM1531.9 255.0 1526.9 254.8 1521.9 253.7 1517.4 251.8 1513.9 249.4 1509.9 245.5 1507.2 241.5 1505.6 237.5 1505.2 233.5 1505.9 229.0 1507.7 224.0 1510.5 219.0 1513.9 215.0 1517.9 212.2 1522.4 210.3 1527.9 209.1 1533.4 208.8 1537.9 209.4 1542.9 211.1 1547.9 213.9 1551.7 217.0 1554.0 220.0 1555.5 223.5 1556.3 232.5 1555.8 237.5 1554.7 241.5 1552.8 245.0 1550.1 248.0 1546.4 250.7 1541.9 252.9 1536.9 254.4 1531.9 255.0ZM1534.4 253.6 1525.4 253.3 1520.9 252.0 1516.9 249.9 1513.1 247.0 1510.0 243.5 1507.7 239.5 1506.7 236.0 1506.7 232.0 1507.7 227.5 1509.7 223.0 1512.6 218.5 1515.4 215.7 1518.9 213.3 1522.9 211.6 1527.9 210.4 1536.9 210.5 1544.9 213.8 1548.7 216.5 1551.6 219.5 1553.3 222.5 1554.4 226.5 1554.3 237.0 1553.2 241.0 1551.2 244.5 1548.4 247.6 1544.4 250.3 1539.9 252.3 1534.4 253.6ZM1531.9 252.5 1527.4 252.3 1522.9 251.3 1515.4 247.1 1512.2 244.0 1509.8 240.5 1508.4 237.0 1508.0 233.5 1508.5 229.5 1510.2 225.0 1512.9 220.5 1515.9 217.2 1519.4 214.7 1523.4 212.9 1532.4 211.4 1536.4 211.9 1540.4 213.2 1544.9 215.7 1548.4 218.6 1550.8 221.5 1552.2 224.5 1553.1 232.0 1551.8 240.0 1550.0 243.5 1547.9 246.1 1544.8 248.5 1540.9 250.5 1531.9 252.5ZM1533.9 251.0 1525.9 250.7 1518.4 247.5 1514.9 244.7 1512.1 241.5 1510.5 238.5 1509.6 235.0 1509.6 231.5 1510.7 227.5 1515.4 219.9 1521.4 215.3 1529.4 213.0 1536.9 213.5 1543.9 217.2 1549.0 222.5 1551.2 229.0 1550.7 237.5 1549.5 241.0 1547.6 244.0 1541.9 248.6 1533.9 251.0ZM1534.4 249.5 1526.9 249.4 1519.9 246.6 1514.1 241.5 1512.3 238.5 1511.3 235.5 1511.2 232.5 1511.9 229.0 1515.7 222.0 1521.4 217.2 1528.4 214.7 1534.9 214.7 1541.1 217.5 1546.8 223.0 1549.2 229.0 1549.1 236.5 1546.6 242.5 1541.4 247.1 1534.4 249.5ZM1533.9 248.1 1526.9 247.8 1520.9 245.3 1515.6 240.5 1513.1 235.0 1513.7 229.0 1517.4 222.8 1522.9 218.5 1529.4 216.3 1535.4 216.7 1540.5 219.5 1545.1 224.5 1547.2 230.5 1547.0 237.0 1544.7 242.0 1540.1 246.0 1533.9 248.1ZM1532.9 246.5 1526.9 246.1 1521.5 243.5 1517.0 239.0 1515.2 234.0 1516.0 229.0 1519.2 224.0 1524.4 220.0 1529.9 218.2 1534.9 218.8 1539.4 221.5 1543.4 226.5 1545.1 232.0 1544.6 237.5 1542.4 241.7 1538.4 244.8 1532.9 246.5ZM1532.9 244.6 1527.9 244.3 1523.4 242.2 1519.7 238.5 1517.9 234.0 1518.4 230.0 1520.9 225.9 1525.1 222.5 1529.9 220.8 1533.9 221.2 1537.6 223.5 1540.9 227.6 1542.5 232.5 1542.2 237.0 1540.4 240.5 1537.4 243.0 1532.9 244.6ZM1533.4 242.1 1529.4 242.2 1526.1 241.0 1523.2 238.5 1521.5 235.0 1521.5 231.5 1523.1 228.5 1525.9 225.8 1529.4 224.3 1532.4 224.3 1535.4 225.8 1537.8 228.5 1539.4 232.0 1539.6 235.5 1538.5 238.5 1536.4 240.7 1533.4 242.1ZM1531.4 239.1 1527.8 238.0 1526.4 236.5 1525.6 234.5 1525.8 232.5 1526.8 230.5 1528.4 229.1 1530.4 228.5 1533.9 229.7 1535.9 233.5 1534.9 237.2 1533.4 238.5 1531.4 239.1Z" fill="none" stroke="#148a14" stroke-width="1.45" stroke-linejoin="round"/><path d="M1669.0 290.0 1665.0 289.9 1661.0 288.7 1657.0 286.4 1653.5 283.4 1648.1 275.4 1646.6 270.9 1646.0 266.4 1646.1 260.4 1647.1 254.4 1648.7 249.4 1650.8 245.4 1654.0 241.4 1658.0 238.0 1662.0 236.0 1666.5 235.0 1670.0 235.4 1673.5 236.8 1676.5 239.3 1679.3 242.9 1683.2 251.9 1684.9 262.9 1684.2 272.4 1681.2 279.9 1675.0 287.2 1672.0 289.1 1669.0 290.0ZM1669.0 288.5 1665.5 288.6 1661.5 287.5 1658.0 285.6 1654.5 282.6 1651.6 278.9 1649.1 274.4 1647.2 265.9 1648.1 254.9 1651.6 246.4 1654.5 242.6 1658.0 239.6 1662.0 237.5 1666.0 236.6 1669.5 236.8 1672.5 238.0 1675.5 240.3 1678.0 243.4 1681.9 251.4 1683.8 262.4 1683.3 271.4 1680.6 278.4 1675.0 285.4 1672.0 287.5 1669.0 288.5ZM1669.0 286.9 1665.5 287.1 1662.0 286.2 1658.5 284.3 1655.2 281.4 1652.2 277.4 1650.2 273.4 1648.3 264.9 1649.2 254.9 1652.7 246.9 1655.5 243.4 1659.0 240.6 1662.5 238.9 1666.0 238.1 1669.0 238.3 1672.0 239.5 1677.1 244.4 1680.8 251.9 1682.6 262.4 1682.3 270.4 1679.8 277.4 1674.5 283.9 1669.0 286.9ZM1668.0 285.5 1665.0 285.5 1661.5 284.4 1655.7 279.9 1651.2 272.4 1649.5 263.9 1650.4 254.9 1653.9 247.4 1659.5 241.9 1663.0 240.3 1666.0 239.7 1669.0 240.0 1672.0 241.4 1676.8 246.4 1680.1 253.9 1681.5 262.9 1680.9 270.9 1678.6 276.9 1673.5 282.9 1671.0 284.5 1668.0 285.5ZM1667.0 283.9 1664.0 283.6 1661.0 282.5 1655.9 277.9 1652.2 270.9 1650.8 262.9 1651.7 254.9 1654.7 248.4 1660.0 243.4 1663.0 242.0 1666.0 241.4 1669.0 241.8 1671.5 243.0 1676.0 247.7 1679.0 254.9 1680.2 263.9 1679.5 270.9 1676.9 276.9 1672.0 282.0 1667.0 283.9ZM1668.0 282.0 1665.5 282.2 1662.5 281.4 1657.5 277.6 1653.7 270.9 1652.2 263.4 1652.8 255.9 1655.4 249.9 1660.0 245.2 1665.5 243.2 1670.5 244.3 1674.5 248.1 1677.3 253.9 1678.8 261.9 1678.5 268.9 1676.7 274.4 1672.8 279.4 1668.0 282.0ZM1668.5 279.9 1666.0 280.3 1663.5 279.9 1659.0 276.9 1655.6 271.4 1653.7 263.9 1653.9 257.4 1656.1 251.4 1660.0 247.1 1665.0 245.0 1669.5 245.8 1673.0 248.6 1675.8 253.9 1677.3 260.4 1677.3 267.4 1675.8 272.9 1672.5 277.4 1668.5 279.9ZM1668.0 278.0 1663.5 277.8 1659.5 274.9 1656.7 269.9 1655.2 263.4 1655.4 257.4 1657.3 252.4 1661.0 248.5 1665.0 246.9 1669.0 247.6 1672.0 250.1 1674.4 254.4 1675.7 260.4 1675.7 266.9 1674.4 271.9 1671.5 275.9 1668.0 278.0ZM1667.0 275.9 1663.5 275.5 1660.4 272.9 1658.0 267.9 1656.9 261.9 1657.3 256.9 1659.0 253.0 1662.0 250.1 1665.5 249.0 1668.9 249.9 1671.5 252.4 1673.3 256.4 1674.1 261.4 1673.9 266.9 1672.7 270.9 1670.1 274.4 1667.0 275.9ZM1667.5 272.9 1664.5 273.0 1662.0 271.1 1660.0 267.4 1659.0 262.9 1659.0 258.9 1660.0 255.4 1662.0 252.8 1665.0 251.5 1667.5 251.8 1669.6 253.4 1671.3 256.4 1672.1 259.9 1672.2 264.4 1671.3 268.4 1669.6 271.4 1667.5 272.9ZM1667.0 269.0 1665.0 269.1 1663.5 268.0 1661.5 262.9 1662.0 257.5 1663.5 255.5 1665.0 254.8 1666.5 254.9 1668.0 256.0 1669.8 260.4 1669.3 265.9 1667.0 269.0Z" fill="none" stroke="#148a14" stroke-width="1.45" stroke-linejoin="round"/><path d="M1939.0 284.3 1927.5 283.9 1919.5 282.4 1913.9 279.3 1910.3 274.3 1908.9 269.8 1908.4 265.3 1909.3 248.3 1910.4 244.3 1912.1 240.8 1914.3 238.3 1917.0 236.6 1920.5 235.6 1925.5 235.3 1945.0 236.7 1949.0 238.0 1951.8 239.8 1954.3 242.3 1956.3 245.8 1957.8 250.3 1958.3 255.8 1957.8 269.8 1956.6 274.8 1953.9 278.8 1949.5 282.0 1945.0 283.6 1939.0 284.3ZM1943.5 282.3 1931.5 282.7 1922.5 281.6 1916.5 279.2 1912.5 275.2 1910.8 271.3 1910.0 266.8 1910.6 250.3 1912.4 243.3 1914.0 240.8 1916.5 238.6 1920.0 237.2 1924.5 236.7 1942.5 237.7 1949.5 240.2 1954.0 244.8 1956.0 249.3 1956.9 254.8 1955.7 272.3 1954.1 275.8 1951.5 278.7 1948.0 280.9 1943.5 282.3ZM1941.5 280.9 1930.0 281.0 1922.5 280.0 1917.0 277.6 1913.6 273.8 1912.2 270.3 1911.5 265.8 1912.1 250.3 1914.0 243.8 1917.5 240.0 1921.0 238.6 1925.5 238.1 1942.0 239.1 1948.5 241.5 1952.9 246.3 1954.7 250.8 1955.4 255.8 1954.9 266.3 1953.9 271.8 1952.2 275.3 1949.5 277.9 1946.0 279.8 1941.5 280.9ZM1937.0 279.3 1928.0 279.2 1922.0 278.1 1917.5 275.7 1914.5 271.8 1913.1 265.3 1913.8 249.8 1915.7 244.3 1919.5 240.9 1923.0 239.9 1927.5 239.5 1942.0 240.6 1945.5 241.8 1948.5 243.7 1952.3 248.8 1953.7 253.3 1953.9 258.3 1953.1 267.3 1951.7 272.3 1949.5 275.3 1946.0 277.7 1942.0 278.9 1937.0 279.3ZM1938.0 277.3 1929.0 277.5 1923.5 276.7 1919.4 274.8 1916.4 271.3 1914.9 265.3 1915.5 250.8 1917.1 245.8 1920.5 242.6 1923.5 241.6 1928.0 241.1 1941.0 242.1 1947.0 244.8 1950.6 249.3 1952.0 253.3 1952.4 257.8 1951.7 265.3 1950.4 270.3 1948.5 273.3 1946.0 275.3 1942.5 276.7 1938.0 277.3ZM1937.0 275.3 1928.5 275.5 1924.0 274.8 1920.2 272.8 1917.9 269.8 1916.9 264.8 1917.4 251.3 1919.0 246.8 1922.0 244.2 1929.0 242.8 1940.5 243.7 1945.9 246.3 1949.4 250.8 1950.4 254.3 1950.7 258.8 1950.0 264.8 1948.6 269.3 1946.8 271.8 1944.5 273.6 1941.5 274.7 1937.0 275.3ZM1933.0 273.3 1927.5 273.3 1924.0 272.5 1921.0 270.3 1919.5 267.3 1919.1 263.3 1919.8 250.8 1921.8 247.3 1925.5 245.3 1933.5 244.7 1941.5 246.0 1946.0 249.1 1948.4 253.8 1948.9 257.8 1948.4 262.8 1947.3 266.8 1946.0 269.3 1944.0 271.2 1941.5 272.4 1933.0 273.3ZM1937.5 270.8 1927.0 270.8 1924.5 269.8 1922.5 267.6 1921.6 263.8 1921.8 253.8 1923.0 250.3 1925.5 248.1 1930.5 246.9 1938.5 247.3 1943.0 249.2 1945.7 252.3 1946.9 257.8 1945.4 265.8 1942.5 269.3 1937.5 270.8ZM1938.0 268.4 1929.5 268.5 1927.0 267.7 1925.4 266.3 1924.4 263.3 1924.3 255.8 1925.0 252.8 1927.0 250.6 1931.0 249.3 1937.5 249.4 1941.0 250.6 1943.5 253.0 1944.7 257.3 1943.7 263.8 1941.5 266.9 1938.0 268.4ZM1937.5 265.8 1931.0 265.8 1928.3 264.3 1927.5 262.3 1927.1 257.3 1927.7 254.8 1929.0 253.2 1932.0 252.1 1936.5 251.9 1939.5 252.8 1941.1 254.3 1942.1 257.3 1941.5 261.8 1940.0 264.5 1937.5 265.8ZM1936.0 262.9 1933.0 262.8 1931.4 261.8 1930.5 258.3 1931.5 256.3 1935.5 255.3 1938.1 256.3 1938.7 258.3 1938.2 260.8 1937.2 262.3 1936.0 262.9Z" fill="none" stroke="#148a14" stroke-width="1.45" stroke-linejoin="round"/><path d="M964.3 607.2 961.3 607.5 958.8 606.8 953.8 602.8 950.2 596.2 948.4 587.7 948.2 579.7 950.0 573.2 954.3 567.9 956.8 566.4 959.8 565.6 965.3 566.4 969.8 569.8 973.8 575.7 975.6 582.2 975.1 590.7 972.8 598.7 968.8 604.6 964.3 607.2ZM964.3 605.4 961.8 605.7 959.3 605.1 954.7 601.7 951.5 596.2 949.5 587.7 949.4 580.2 951.0 574.2 954.8 569.4 959.8 567.3 964.8 568.0 969.2 571.2 972.7 576.2 974.5 582.2 974.2 589.7 972.0 597.2 968.5 602.7 964.3 605.4ZM964.3 603.4 959.8 603.3 955.4 600.2 952.4 595.2 950.7 588.2 950.5 580.7 952.1 575.2 955.3 571.1 959.8 569.0 964.3 569.6 968.3 572.3 971.5 576.7 973.2 582.2 973.1 588.7 971.2 595.7 968.3 600.5 964.3 603.4ZM963.8 601.4 959.8 601.2 956.3 598.7 953.5 594.2 951.9 587.7 951.8 581.2 953.2 576.2 956.3 572.4 960.3 570.8 964.3 571.4 967.8 573.9 970.7 578.2 972.0 583.2 971.9 588.7 970.1 594.7 967.3 599.1 963.8 601.4ZM963.3 599.2 959.8 598.9 956.8 596.7 954.4 592.7 953.1 587.2 953.1 581.7 954.5 577.2 957.0 574.2 960.3 572.7 963.8 573.2 966.9 575.2 969.4 578.7 970.7 583.2 970.5 588.7 968.9 593.7 966.3 597.5 963.3 599.2ZM963.3 596.8 960.3 596.7 957.8 595.0 955.7 591.7 954.5 587.2 954.5 582.7 955.7 578.7 957.8 576.0 960.8 574.8 963.8 575.3 966.3 577.1 968.3 580.2 969.2 583.7 969.1 587.7 968.0 591.7 965.8 595.2 963.3 596.8ZM962.8 594.2 960.3 594.0 958.3 592.4 956.8 589.7 956.1 586.2 956.2 582.7 957.3 579.8 959.3 577.7 961.3 577.1 963.3 577.4 965.3 578.8 966.8 581.2 967.6 584.2 967.4 587.7 966.5 590.7 964.8 593.0 962.8 594.2Z" fill="none" stroke="#f8a00a" stroke-width="1.15" stroke-linejoin="round"/><path d="M934.4 612.7 931.4 612.7 928.9 610.5 927.1 607.1 926.0 601.6 926.2 596.6 927.6 591.6 929.9 588.3 932.9 587.0 935.4 587.8 937.5 590.1 939.3 594.1 940.0 598.6 939.7 603.6 938.7 607.6 936.9 610.8 934.4 612.7ZM933.9 611.2 931.4 610.9 929.4 609.1 927.7 605.6 926.9 601.1 927.2 596.6 928.6 592.1 930.4 589.8 932.9 588.7 934.9 589.2 937.1 591.6 938.5 595.1 939.1 599.1 938.8 603.6 937.7 607.1 935.9 609.9 933.9 611.2ZM933.9 609.3 931.9 609.2 929.9 607.5 928.5 604.6 927.9 601.1 928.1 597.1 929.3 593.6 930.9 591.4 932.9 590.6 934.9 591.2 936.4 593.0 938.1 599.1 937.1 605.6 935.6 608.1 933.9 609.3Z" fill="none" stroke="#f8a00a" stroke-width="1.15" stroke-linejoin="round"/><path d="M1050.1 573.0 1044.1 572.9 1039.6 571.0 1035.8 567.0 1033.9 562.0 1034.1 555.5 1038.9 544.5 1040.2 535.0 1042.3 529.0 1048.1 519.1 1051.1 516.2 1054.6 514.0 1061.1 511.6 1069.1 509.8 1073.6 509.8 1078.1 511.2 1082.1 513.6 1086.6 517.6 1090.8 522.5 1093.0 526.5 1094.4 531.5 1096.8 546.0 1096.7 550.0 1095.5 554.0 1092.9 558.0 1089.1 561.8 1082.6 566.5 1077.1 569.5 1071.1 570.9 1060.1 570.5 1050.1 573.0ZM1048.6 571.0 1044.1 570.6 1040.1 568.4 1037.2 564.5 1036.1 560.0 1036.9 554.5 1041.8 544.5 1043.0 535.5 1045.2 529.5 1051.1 520.9 1054.1 518.3 1058.1 516.0 1063.6 514.0 1069.1 513.1 1073.1 513.3 1077.1 514.7 1081.1 517.3 1085.1 521.1 1088.5 525.5 1090.8 530.0 1092.5 536.5 1093.6 545.0 1093.4 549.5 1092.0 553.5 1089.6 557.0 1086.6 559.9 1074.6 567.1 1069.6 568.2 1060.1 568.0 1048.6 571.0ZM1051.6 567.6 1047.1 567.7 1043.6 566.3 1041.2 563.5 1040.0 559.5 1040.7 554.0 1045.1 545.0 1046.1 536.0 1047.8 531.0 1053.5 523.5 1060.6 518.7 1064.6 517.3 1068.6 516.8 1072.1 517.1 1075.6 518.4 1079.6 520.9 1083.1 524.2 1086.1 528.0 1088.1 532.0 1089.5 537.0 1090.1 543.0 1089.8 547.5 1088.5 551.5 1086.6 554.5 1084.0 557.0 1072.6 564.0 1068.1 565.2 1059.6 565.3 1051.6 567.6ZM1054.1 562.6 1051.1 562.6 1049.1 561.7 1047.1 559.0 1046.2 556.0 1046.6 553.0 1049.3 546.0 1049.8 536.5 1051.4 532.0 1056.3 526.0 1063.1 521.9 1069.6 521.1 1076.1 523.2 1081.9 528.0 1085.5 534.5 1086.3 538.5 1086.2 542.5 1084.1 549.5 1080.1 554.1 1070.1 560.5 1066.6 561.5 1059.6 561.6 1054.1 562.6ZM1066.1 556.5 1060.1 555.8 1057.7 554.5 1056.3 553.0 1055.3 549.0 1054.8 537.0 1056.6 532.5 1060.6 528.4 1065.6 526.1 1070.6 525.9 1075.6 527.6 1079.5 531.0 1081.7 535.5 1081.9 540.5 1080.2 545.5 1077.1 549.8 1071.1 554.4 1066.1 556.5ZM1068.1 548.5 1065.1 548.5 1063.1 546.6 1062.0 543.0 1062.0 538.5 1063.1 535.5 1065.1 533.2 1068.1 531.8 1071.1 531.7 1073.2 532.5 1075.1 534.2 1076.1 536.5 1076.2 539.0 1075.2 542.0 1073.2 545.0 1070.6 547.3 1068.1 548.5Z" fill="none" stroke="#f8a00a" stroke-width="1.15" stroke-linejoin="round"/><path d="M957.8 713.0 948.8 713.1 941.8 711.7 934.8 707.7 930.0 702.5 927.6 696.0 928.1 689.5 931.3 684.0 937.3 679.1 946.3 675.3 950.8 674.6 954.8 674.9 960.3 676.3 966.8 679.1 970.3 681.5 972.9 684.5 974.6 688.5 975.1 693.0 974.5 698.5 972.6 703.5 970.2 707.0 966.3 710.2 962.3 712.1 957.8 713.0ZM958.3 710.5 950.8 710.8 944.3 709.7 938.8 707.2 934.0 703.0 931.2 697.5 930.7 692.0 932.6 687.0 936.3 683.0 944.3 678.7 952.3 677.6 956.8 678.4 962.8 680.7 966.8 682.9 969.6 685.5 971.5 689.0 972.3 693.0 972.0 697.5 970.7 701.5 968.8 704.6 965.8 707.4 962.3 709.4 958.3 710.5ZM956.8 708.1 950.8 708.2 945.3 707.1 940.4 704.5 936.8 701.1 934.7 697.0 934.2 692.5 935.6 688.5 938.8 684.9 945.3 681.6 952.3 680.9 960.8 683.6 964.3 685.7 966.8 688.0 968.5 691.0 969.1 694.0 968.9 697.5 967.9 700.5 966.3 703.1 963.6 705.5 960.3 707.2 956.8 708.1ZM956.3 705.1 951.8 705.3 947.8 704.5 943.8 702.6 940.9 700.0 939.1 697.0 938.5 693.5 939.3 690.4 941.6 687.5 946.8 684.9 952.3 684.6 958.8 686.8 963.3 690.3 965.2 694.5 964.5 699.5 961.3 703.1 956.3 705.1ZM953.3 701.5 948.3 700.3 946.0 698.5 944.7 696.5 944.2 694.5 944.6 692.5 945.8 690.9 947.8 689.5 951.3 688.8 954.8 689.5 958.0 691.5 959.8 694.0 960.2 696.5 959.1 699.0 956.8 700.7 953.3 701.5Z" fill="none" stroke="#f8a00a" stroke-width="1.15" stroke-linejoin="round"/><path d="M1290.3 707.8 1284.8 708.0 1280.3 706.5 1266.6 695.8 1264.2 692.3 1262.5 687.8 1261.4 681.3 1261.6 675.8 1263.1 669.8 1266.0 662.8 1268.3 659.3 1271.3 656.5 1276.3 654.0 1287.3 650.4 1292.8 649.6 1298.3 649.8 1302.8 650.9 1306.3 652.6 1310.2 655.8 1313.7 659.8 1317.1 665.3 1319.5 670.8 1320.5 675.3 1320.5 679.8 1319.1 684.8 1315.9 691.8 1312.9 696.8 1309.8 700.3 1306.3 702.9 1302.3 704.9 1290.3 707.8ZM1291.3 704.9 1285.8 705.1 1281.8 703.9 1277.3 700.9 1269.3 694.0 1267.0 690.8 1265.5 686.8 1264.6 681.3 1264.8 675.8 1266.1 670.3 1268.1 665.3 1270.3 661.8 1273.3 659.1 1278.8 656.5 1287.3 653.9 1292.8 653.0 1298.3 653.1 1302.3 654.2 1305.8 656.0 1312.5 662.8 1316.7 671.3 1317.5 675.3 1317.4 679.3 1316.1 684.3 1313.5 690.3 1308.3 697.8 1301.8 702.0 1291.3 704.9ZM1290.8 701.8 1286.3 701.8 1282.8 700.6 1277.8 697.1 1272.0 691.8 1269.9 688.8 1268.4 684.8 1267.8 680.3 1268.1 675.3 1271.0 666.8 1273.3 663.8 1275.8 661.7 1281.3 659.1 1287.8 657.2 1292.8 656.4 1297.8 656.6 1304.3 659.0 1310.3 664.8 1313.7 671.8 1314.1 679.3 1311.1 688.3 1306.3 695.5 1299.8 699.7 1290.8 701.8ZM1294.3 697.9 1289.8 698.3 1286.3 697.7 1279.3 693.7 1275.6 690.3 1273.3 687.3 1271.9 683.8 1271.3 679.8 1271.5 675.8 1272.6 671.8 1274.5 668.3 1276.7 665.8 1284.3 661.5 1293.3 659.7 1299.8 660.6 1305.3 664.0 1309.4 669.8 1310.8 676.3 1309.5 683.8 1305.6 691.3 1300.8 695.6 1294.3 697.9ZM1294.8 693.8 1288.3 693.6 1282.3 690.8 1277.1 685.8 1275.2 680.3 1275.9 674.3 1278.9 669.3 1284.3 665.3 1291.3 663.2 1296.8 663.5 1301.6 665.8 1305.0 669.8 1306.7 675.3 1306.2 681.8 1303.7 687.8 1299.8 691.8 1294.8 693.8ZM1292.8 689.3 1287.8 688.5 1283.3 685.9 1280.7 682.8 1279.7 678.8 1280.5 674.8 1283.3 670.9 1287.8 668.1 1292.3 667.1 1296.3 667.8 1299.3 669.9 1301.4 673.3 1302.3 677.8 1301.7 682.3 1299.8 685.9 1296.8 688.3 1292.8 689.3Z" fill="none" stroke="#f8a00a" stroke-width="1.15" stroke-linejoin="round"/><path d="M961.4 609.8 956.9 609.8 952.4 608.0 948.5 604.2 945.6 599.2 943.6 593.2 943.1 587.7 943.9 581.7 945.8 576.2 947.9 573.2 950.4 571.1 953.9 569.2 957.9 568.1 963.4 568.1 970.9 570.8 977.9 568.9 982.4 569.7 985.2 572.2 986.6 575.7 986.5 579.7 985.3 583.2 983.4 585.7 977.9 590.4 974.7 599.7 971.9 603.9 966.9 607.8 961.4 609.8ZM959.9 607.7 955.9 607.3 951.9 605.0 948.7 601.2 946.2 596.2 945.0 591.7 944.8 586.7 945.8 581.7 947.9 577.0 952.4 572.5 958.4 570.2 963.4 570.4 970.9 573.5 977.9 570.5 980.4 570.6 982.4 571.4 984.1 573.2 985.3 576.2 985.2 579.7 984.0 582.7 981.9 585.1 976.2 588.7 973.1 598.2 970.1 602.7 965.4 606.1 959.9 607.7ZM960.4 605.2 956.9 605.1 953.4 603.4 950.4 600.2 948.0 595.7 946.7 591.2 946.6 587.2 947.5 582.7 949.4 578.7 953.4 574.6 958.4 572.6 963.9 573.0 971.4 577.1 976.9 572.6 979.4 572.2 981.4 572.8 982.9 574.3 983.9 576.7 983.8 579.2 982.8 581.7 980.4 583.9 974.5 585.7 972.0 595.2 969.9 599.3 965.9 603.1 960.4 605.2ZM979.4 581.9 976.9 581.6 975.3 579.2 976.4 575.7 978.9 574.3 981.1 575.2 982.1 577.7 981.4 580.3 979.4 581.9ZM961.4 602.3 957.4 602.4 953.4 600.2 949.9 595.2 948.4 589.7 949.1 584.2 951.4 579.7 954.9 576.4 959.4 574.9 963.4 575.5 966.9 577.7 970.1 581.7 971.0 585.7 970.5 591.7 968.6 596.7 965.4 600.3 961.4 602.3ZM960.9 599.3 957.4 599.3 953.9 597.2 951.6 593.7 950.5 589.2 951.1 585.2 953.2 581.2 956.4 578.5 959.9 577.6 962.9 578.1 965.9 580.3 967.7 583.2 968.6 587.2 968.1 591.2 966.4 595.1 963.9 597.8 960.9 599.3Z" fill="none" stroke="#05e6e6" stroke-width="1.45" stroke-linejoin="round"/><path d="M938.8 617.0 935.3 616.5 932.3 614.3 930.0 610.4 929.0 605.9 929.5 600.9 931.4 596.9 934.3 594.1 937.8 593.0 941.3 593.8 944.3 596.4 946.2 599.9 947.0 604.4 946.5 608.9 944.8 612.9 942.3 615.5 938.8 617.0ZM938.3 615.4 935.3 614.8 932.8 612.8 930.9 609.4 930.2 605.4 930.6 601.4 932.3 597.9 934.8 595.5 937.8 594.6 940.8 595.2 943.4 597.4 945.2 600.9 945.8 604.9 945.3 608.9 943.5 612.4 941.3 614.5 938.3 615.4ZM939.3 613.6 936.8 613.6 934.3 612.2 932.6 609.9 931.5 606.4 931.6 602.9 932.7 599.9 934.8 597.4 937.3 596.3 939.8 596.6 942.3 598.4 943.8 600.9 944.5 603.9 944.4 606.9 943.4 609.9 941.8 612.1 939.3 613.6Z" fill="none" stroke="#05e6e6" stroke-width="1.45" stroke-linejoin="round"/><path d="M1051.3 573.0 1045.8 572.5 1041.3 570.2 1038.4 566.5 1036.9 561.5 1037.2 553.5 1041.1 543.0 1042.6 533.5 1045.1 526.5 1048.1 521.0 1051.2 517.0 1055.3 513.6 1060.3 510.8 1066.3 508.3 1070.8 507.5 1075.3 507.8 1080.3 509.3 1085.3 512.5 1090.4 517.5 1095.0 523.0 1097.9 528.5 1099.4 534.0 1099.7 540.0 1099.0 548.5 1097.5 554.0 1093.7 559.0 1086.3 563.3 1081.3 564.7 1068.8 566.1 1057.8 571.5 1051.3 573.0ZM1051.3 572.0 1046.3 571.6 1042.0 569.5 1039.2 566.0 1037.8 561.0 1038.4 553.0 1042.5 543.0 1044.1 533.5 1046.6 526.5 1049.4 521.5 1052.3 518.0 1056.3 514.8 1062.3 511.4 1066.8 509.7 1071.3 508.9 1075.3 509.3 1079.8 510.8 1084.3 513.7 1089.6 519.0 1094.3 524.6 1096.9 529.5 1098.2 534.5 1098.4 540.0 1097.4 548.5 1095.9 553.5 1092.3 557.9 1086.3 561.3 1080.8 562.9 1068.3 564.4 1057.8 570.3 1051.3 572.0ZM1053.3 570.6 1048.3 570.8 1043.8 569.4 1040.5 566.0 1039.1 561.5 1039.5 553.5 1044.0 543.0 1045.5 534.0 1047.3 528.5 1049.9 523.5 1052.8 519.7 1056.6 516.5 1061.8 513.3 1066.3 511.3 1070.3 510.4 1074.3 510.6 1078.3 511.8 1082.3 514.1 1087.1 518.5 1092.8 525.0 1095.8 530.0 1097.0 534.5 1097.1 539.0 1096.1 547.0 1094.6 552.0 1091.7 556.0 1086.3 559.4 1080.3 561.2 1067.3 563.0 1058.3 568.7 1053.3 570.6ZM1050.8 569.5 1046.3 569.0 1043.0 567.0 1041.0 563.5 1040.3 559.0 1041.1 553.0 1045.4 543.5 1047.0 534.0 1049.4 527.5 1051.8 523.4 1054.8 520.0 1063.8 513.9 1067.8 512.4 1071.3 511.9 1074.8 512.2 1078.3 513.5 1082.8 516.5 1088.3 521.9 1092.6 527.0 1094.8 531.0 1095.7 534.5 1095.8 539.0 1094.6 546.0 1093.0 551.0 1089.9 555.0 1085.3 557.9 1079.8 559.6 1066.8 561.4 1056.8 567.9 1050.8 569.5ZM1052.3 567.6 1047.8 567.6 1044.8 566.1 1042.8 563.1 1042.1 559.0 1042.7 553.5 1046.9 544.0 1048.5 534.5 1050.5 529.0 1055.3 522.0 1063.8 515.6 1067.3 514.1 1070.8 513.4 1074.3 513.7 1077.3 514.7 1081.7 517.5 1087.3 522.9 1091.3 527.5 1093.6 531.5 1094.5 535.0 1094.4 539.0 1091.6 549.5 1088.7 553.5 1084.3 556.4 1078.8 558.2 1065.8 560.0 1056.8 566.0 1052.3 567.6ZM1052.3 565.0 1048.8 565.0 1046.3 563.5 1045.0 561.0 1044.6 557.0 1045.3 552.5 1048.7 544.0 1050.2 534.5 1052.2 529.5 1057.3 522.5 1065.3 516.6 1071.3 515.0 1077.3 516.4 1081.3 519.2 1087.4 525.0 1090.4 528.5 1092.4 532.0 1093.1 535.5 1093.0 539.0 1089.9 548.5 1087.0 552.5 1082.8 555.3 1077.3 556.9 1064.8 558.5 1056.3 563.7 1052.3 565.0ZM1053.8 560.5 1051.5 560.0 1049.8 558.5 1048.7 556.5 1048.3 554.0 1050.4 545.0 1051.6 536.0 1054.0 530.0 1059.3 523.3 1066.3 518.0 1071.8 516.7 1077.3 518.3 1086.8 526.3 1089.5 529.5 1091.1 532.5 1091.7 535.5 1091.5 539.0 1088.1 548.0 1084.8 552.0 1080.3 554.5 1075.3 555.7 1063.8 556.8 1053.8 560.5ZM1061.3 555.0 1055.5 555.0 1053.8 553.8 1052.8 552.0 1052.7 540.5 1054.0 534.5 1058.3 527.5 1064.8 521.2 1070.3 518.7 1075.3 519.4 1083.3 525.0 1089.0 531.5 1090.2 536.5 1088.6 543.0 1085.2 549.0 1080.3 552.7 1074.3 554.3 1061.3 555.0ZM1071.8 553.0 1062.3 552.7 1057.8 551.2 1055.5 548.0 1054.6 541.5 1055.7 535.5 1059.8 529.3 1066.3 522.9 1069.3 521.3 1071.8 520.9 1076.8 522.4 1083.8 527.6 1087.5 532.0 1088.6 536.0 1087.0 542.5 1083.1 548.5 1078.3 551.7 1071.8 553.0ZM1074.3 551.0 1067.3 551.3 1061.3 549.9 1058.1 547.0 1056.7 542.5 1057.3 537.6 1059.8 533.2 1066.8 525.9 1071.3 523.8 1075.8 524.5 1081.3 527.8 1085.2 531.5 1086.7 535.5 1085.9 540.5 1082.8 546.0 1079.3 549.1 1074.3 551.0ZM1072.3 549.5 1067.3 549.4 1062.8 547.9 1060.1 545.0 1059.2 541.0 1060.7 536.5 1064.8 532.0 1069.8 528.0 1073.8 527.2 1077.8 528.3 1082.0 531.0 1084.2 534.0 1084.7 537.0 1083.3 541.5 1080.3 545.7 1076.8 548.2 1072.3 549.5ZM1073.3 547.1 1069.3 547.4 1065.3 546.2 1062.8 543.6 1062.4 540.5 1064.2 537.0 1068.8 532.8 1072.3 531.1 1075.8 530.9 1078.8 531.9 1080.7 533.5 1081.9 535.5 1082.0 538.0 1080.9 541.0 1078.8 543.9 1076.3 545.9 1073.3 547.1ZM1072.8 544.1 1070.3 544.3 1068.2 543.5 1067.1 542.0 1067.2 540.0 1068.7 537.5 1070.8 535.7 1073.3 534.9 1075.8 535.1 1077.8 536.8 1077.8 539.5 1075.8 542.4 1072.8 544.1Z" fill="none" stroke="#05e6e6" stroke-width="1.45" stroke-linejoin="round"/><path d="M955.3 718.9 950.3 719.1 944.3 717.9 938.3 715.7 934.3 712.9 931.4 709.3 929.2 704.8 928.0 699.8 927.8 693.8 928.3 689.3 929.5 685.3 931.5 681.8 934.2 678.8 941.3 674.0 950.8 670.9 954.8 666.9 957.3 665.9 959.8 667.1 963.3 671.7 971.8 678.9 973.8 679.5 980.3 679.5 984.3 681.7 988.0 687.3 989.1 691.3 989.2 694.8 987.7 700.8 983.8 705.3 980.8 706.7 973.8 707.7 964.3 715.4 959.8 717.6 955.3 718.9ZM955.8 717.4 950.8 717.7 945.8 716.9 939.8 714.7 935.8 712.1 932.9 708.8 930.6 704.3 929.6 699.8 929.3 694.3 930.7 686.3 934.8 680.1 941.3 675.5 950.8 672.3 954.8 667.7 957.3 666.6 959.6 667.8 963.3 673.6 971.3 681.1 973.3 681.5 979.3 680.4 983.8 682.4 987.4 687.8 988.6 694.3 987.1 700.3 983.8 704.2 980.3 705.8 972.8 706.2 964.3 713.9 960.3 716.0 955.8 717.4ZM953.3 716.3 948.8 716.1 943.3 714.6 938.8 712.4 935.7 709.8 933.3 706.3 931.7 702.3 931.0 697.8 931.0 692.3 932.6 685.8 936.7 680.3 942.8 676.3 951.3 673.5 954.8 668.7 957.3 667.4 959.6 668.8 962.8 675.1 970.8 683.8 972.3 683.9 978.8 681.6 981.3 682.0 983.8 683.7 987.0 688.8 987.8 694.8 986.5 699.8 983.3 703.5 979.3 704.8 972.3 704.0 966.5 710.3 963.3 712.9 958.3 715.3 953.3 716.3ZM953.8 714.8 949.3 714.7 944.8 713.5 940.8 711.7 937.3 708.9 935.0 705.8 933.5 702.3 932.7 697.8 932.7 692.8 934.0 686.8 937.4 681.8 943.3 677.6 951.8 674.7 955.1 669.3 957.3 668.2 959.6 669.8 962.3 677.0 969.8 686.8 971.8 687.0 975.3 684.1 977.8 682.9 981.8 683.4 984.1 685.3 986.0 688.3 987.1 694.8 985.8 699.3 982.8 702.7 980.8 703.5 978.3 703.6 972.8 701.4 971.3 701.4 966.2 708.3 963.3 711.1 958.8 713.6 953.8 714.8ZM953.3 713.3 949.3 713.1 945.3 712.0 941.8 710.3 938.7 707.8 936.5 704.8 935.2 701.3 934.5 692.8 935.8 687.3 938.8 682.7 944.3 678.7 952.3 676.1 955.1 670.3 957.3 669.0 959.4 670.8 961.3 678.3 965.5 684.3 970.3 693.7 974.9 686.3 977.3 684.5 979.8 684.1 982.3 685.0 984.7 687.8 986.1 691.3 986.3 694.8 985.6 697.8 984.1 700.3 982.3 701.8 979.8 702.5 977.3 702.1 975.3 700.9 970.8 695.2 970.3 695.5 967.1 703.8 964.0 708.3 959.3 711.7 953.3 713.3ZM955.8 711.3 952.3 711.8 948.3 711.3 944.4 709.8 941.3 707.7 938.8 704.8 937.4 701.8 936.4 693.8 937.4 688.3 940.1 683.8 945.3 680.0 952.8 677.8 955.3 671.3 957.3 670.0 958.6 670.8 959.5 672.8 960.3 680.3 964.1 685.8 965.9 689.8 967.0 696.3 966.0 701.3 963.4 706.3 959.8 709.6 955.8 711.3ZM979.8 701.3 977.8 700.9 975.6 699.3 974.0 696.8 973.4 693.8 973.8 690.8 975.3 687.8 977.3 686.0 979.3 685.4 981.8 686.1 983.6 687.8 984.9 690.3 985.4 693.3 985.1 696.3 984.0 698.8 982.3 700.5 979.8 701.3ZM954.8 709.8 951.8 710.1 948.3 709.5 944.8 707.9 942.3 705.9 940.4 703.3 939.1 700.3 938.5 693.3 939.8 687.8 942.8 683.7 946.8 681.2 954.3 679.3 955.3 672.8 956.3 671.3 957.3 671.0 958.6 672.3 959.1 674.3 958.3 680.8 963.5 689.3 964.6 693.3 964.8 696.8 963.9 701.3 961.8 705.3 958.8 708.1 954.8 709.8ZM980.8 699.8 978.8 699.9 976.9 698.8 975.5 696.8 974.8 694.3 975.9 689.3 977.3 687.6 979.3 686.8 981.3 687.2 982.8 688.5 984.5 692.8 983.7 697.3 980.8 699.8ZM957.3 676.9 956.3 676.6 955.8 675.3 956.0 673.3 956.8 672.3 957.8 672.7 958.2 673.8 957.3 676.9ZM954.8 707.9 950.3 708.0 945.9 706.3 942.9 703.3 941.0 698.8 940.7 693.3 942.0 688.3 944.8 684.6 949.3 682.5 953.8 682.3 956.8 683.6 960.3 687.8 962.3 692.8 962.5 697.8 961.3 702.3 958.6 705.8 954.8 707.9ZM980.3 698.4 977.8 697.6 976.1 694.3 976.8 690.3 979.3 688.4 981.8 689.3 983.4 692.8 982.8 696.4 980.3 698.4ZM953.8 705.9 950.3 705.9 946.9 704.3 944.3 701.3 943.1 697.8 943.0 693.3 944.1 689.3 946.5 686.3 949.8 684.7 953.3 684.9 956.3 686.5 958.8 689.8 960.2 693.8 960.3 697.8 959.0 701.8 956.8 704.5 953.8 705.9ZM980.8 696.3 978.8 696.2 977.6 694.3 977.8 691.8 979.3 690.2 980.8 690.5 982.0 692.3 981.9 694.8 980.8 696.3ZM952.8 703.4 950.3 703.2 948.0 701.8 946.5 699.8 945.5 696.8 945.6 693.3 946.7 690.3 948.3 688.6 950.8 687.6 953.3 688.1 955.3 689.4 957.0 691.8 957.8 694.8 957.8 697.8 956.8 700.5 955.3 702.3 952.8 703.4Z" fill="none" stroke="#05e6e6" stroke-width="1.45" stroke-linejoin="round"/><path d="M1289.1 709.6 1284.1 709.8 1279.1 708.4 1271.6 704.2 1265.8 699.5 1262.9 696.0 1260.8 692.0 1258.4 679.0 1258.3 674.0 1259.5 669.5 1266.8 658.5 1269.8 655.0 1273.1 652.4 1277.1 650.5 1281.6 649.4 1287.6 649.4 1296.1 650.9 1301.6 652.8 1305.1 655.1 1308.5 659.0 1311.3 664.5 1313.3 670.5 1314.5 677.5 1315.0 684.5 1314.5 689.5 1312.8 694.5 1309.7 699.5 1306.6 702.6 1302.6 705.1 1289.1 709.6ZM1289.1 708.1 1284.1 708.4 1279.1 707.0 1272.6 703.3 1266.8 698.5 1263.9 695.0 1262.2 691.5 1259.9 678.5 1259.8 674.0 1260.9 670.0 1263.4 665.5 1268.4 659.0 1274.6 653.3 1278.6 651.6 1282.6 650.7 1288.1 650.8 1295.1 652.1 1300.1 653.7 1304.1 656.1 1307.2 659.5 1309.8 664.0 1311.7 669.5 1312.7 675.5 1313.2 688.5 1311.8 693.5 1309.6 697.5 1306.6 700.9 1302.6 703.6 1289.1 708.1ZM1289.1 706.5 1284.1 706.9 1279.6 705.7 1273.6 702.3 1268.1 697.8 1265.4 694.5 1263.7 691.0 1261.6 678.5 1261.5 674.0 1262.4 670.5 1269.1 660.7 1275.6 654.7 1279.1 653.1 1283.1 652.2 1288.1 652.2 1293.6 653.2 1299.1 655.0 1303.1 657.2 1306.1 660.2 1308.4 664.0 1310.3 669.0 1311.1 674.0 1311.8 688.0 1310.7 692.5 1308.7 696.5 1305.6 699.9 1302.1 702.3 1289.1 706.5ZM1288.6 705.1 1284.1 705.3 1279.6 704.1 1274.1 700.9 1269.1 696.6 1266.7 693.5 1265.1 690.0 1263.3 678.5 1263.3 674.0 1264.3 670.5 1270.2 662.0 1276.6 656.1 1280.1 654.5 1284.1 653.7 1288.6 653.8 1294.1 654.9 1299.1 656.7 1302.6 658.8 1305.4 661.5 1307.5 665.0 1308.9 669.0 1309.7 674.0 1310.1 688.5 1309.3 692.0 1307.6 695.5 1304.6 698.8 1301.1 701.1 1288.6 705.1ZM1288.6 703.5 1284.1 703.7 1280.1 702.6 1275.1 699.6 1270.8 696.0 1268.4 693.0 1266.8 689.5 1265.3 679.0 1265.2 675.0 1266.1 671.5 1271.3 663.5 1278.0 657.5 1281.6 656.0 1285.1 655.3 1289.6 655.6 1294.6 656.7 1302.1 660.3 1304.6 662.9 1306.4 666.0 1308.2 673.5 1308.3 688.5 1306.3 694.5 1303.7 697.5 1300.1 699.9 1288.6 703.5ZM1287.6 702.0 1283.6 701.9 1280.1 700.7 1275.8 698.0 1271.9 694.5 1268.5 688.5 1267.4 679.0 1268.3 672.0 1273.2 664.5 1279.1 659.3 1282.6 657.8 1286.1 657.2 1295.1 658.7 1301.6 662.0 1305.3 667.0 1306.8 674.5 1306.4 688.5 1304.4 694.0 1302.1 696.5 1298.6 698.8 1293.1 700.8 1287.6 702.0ZM1289.6 700.0 1286.1 700.3 1282.6 699.7 1276.3 696.0 1271.6 690.5 1269.8 683.5 1270.1 675.0 1273.0 668.5 1279.1 662.1 1282.6 660.2 1286.1 659.4 1293.6 660.2 1300.1 663.0 1303.6 667.1 1305.2 673.0 1304.5 687.5 1302.9 692.5 1300.8 695.0 1298.1 697.0 1289.6 700.0ZM1290.6 698.0 1284.6 698.2 1279.1 695.5 1274.0 690.0 1272.1 683.5 1272.8 675.5 1275.9 669.0 1281.6 663.7 1287.6 661.8 1294.1 662.4 1299.1 664.6 1302.1 668.0 1303.6 673.0 1302.7 685.5 1301.1 691.0 1297.1 695.3 1290.6 698.0ZM1290.1 696.1 1284.6 695.9 1279.3 692.5 1275.7 687.5 1274.6 681.5 1275.9 675.0 1279.6 669.0 1284.6 665.4 1290.6 664.2 1295.6 665.1 1299.1 667.2 1301.2 670.5 1302.0 675.5 1300.7 685.0 1299.0 690.0 1295.6 693.7 1290.1 696.1ZM1290.6 693.6 1286.1 693.6 1281.6 691.0 1278.3 686.5 1277.3 681.0 1278.6 675.5 1282.1 670.5 1286.6 667.7 1291.6 666.9 1295.1 667.5 1298.1 669.5 1299.7 672.5 1300.1 676.5 1298.9 683.5 1297.1 688.5 1294.6 691.5 1290.6 693.6ZM1290.6 690.6 1286.6 690.6 1283.3 688.5 1280.9 685.0 1280.1 680.5 1281.4 676.0 1284.1 672.6 1288.1 670.3 1292.1 669.7 1294.6 670.4 1296.6 672.0 1297.6 674.5 1297.8 677.5 1296.9 682.5 1295.3 686.5 1293.1 689.2 1290.6 690.6ZM1289.6 687.0 1287.1 686.8 1285.1 685.4 1283.6 683.0 1283.2 680.0 1283.9 677.5 1285.6 675.2 1288.1 673.7 1291.1 673.2 1293.1 673.9 1294.2 675.0 1294.9 679.0 1293.1 684.4 1291.6 686.1 1289.6 687.0Z" fill="none" stroke="#05e6e6" stroke-width="1.45" stroke-linejoin="round"/><path d="M1601.7 539.8 1599.2 540.0 1597.2 539.3 1595.3 537.7 1594.2 535.7 1594.0 533.2 1594.7 531.2 1596.2 529.3 1598.2 528.3 1600.7 528.0 1602.7 528.6 1604.6 530.2 1605.7 532.2 1606.0 534.7 1605.4 536.7 1603.7 538.7 1601.7 539.8Z" fill="none" stroke="#0000ff" stroke-width="1.3" stroke-linejoin="round"/><path d="M1626.5 521.9 1624.5 521.5 1622.9 519.4 1621.6 515.9 1621.0 510.9 1621.3 505.9 1622.3 501.9 1624.0 499.0 1626.0 498.0 1627.5 498.5 1629.3 500.9 1630.6 505.4 1631.0 509.4 1629.8 517.9 1628.1 520.9 1626.5 521.9ZM1626.5 520.0 1624.6 519.4 1623.2 517.4 1621.8 510.4 1622.8 503.4 1624.3 500.9 1626.0 500.0 1627.5 500.6 1628.7 502.4 1630.2 509.4 1629.2 516.4 1628.0 518.8 1626.5 520.0ZM1627.0 517.4 1625.5 517.7 1624.5 516.9 1622.8 511.4 1623.5 504.9 1624.5 503.1 1626.0 502.2 1627.0 502.6 1628.3 504.4 1629.2 508.9 1628.8 513.9 1627.0 517.4Z" fill="none" stroke="#0000ff" stroke-width="1.3" stroke-linejoin="round"/><path d="M1641.1 553.0 1639.7 551.9 1638.8 549.4 1638.0 540.9 1638.9 532.4 1639.9 529.9 1641.1 529.0 1642.1 529.9 1643.2 532.9 1644.0 540.9 1643.3 548.9 1642.3 551.9 1641.1 553.0ZM1641.1 551.0 1640.1 550.4 1639.3 548.4 1638.5 540.9 1639.2 533.9 1640.1 531.6 1641.1 531.0 1642.8 533.9 1643.5 540.9 1642.8 547.9 1641.1 551.0ZM1641.6 548.4 1640.6 548.6 1639.9 547.4 1639.1 541.9 1639.5 535.9 1640.1 534.1 1641.1 533.2 1642.4 535.4 1642.9 539.9 1642.7 544.9 1641.6 548.4Z" fill="none" stroke="#0000ff" stroke-width="1.3" stroke-linejoin="round"/><path d="M1648.5 549.9 1647.0 549.5 1645.8 547.4 1644.5 538.9 1645.3 530.4 1646.5 527.2 1648.0 526.0 1649.3 526.9 1650.3 528.9 1651.5 537.4 1650.7 545.9 1649.8 548.4 1648.5 549.9ZM1648.5 547.9 1647.5 547.8 1646.2 545.9 1645.1 538.9 1645.8 531.4 1646.8 528.9 1648.0 528.0 1649.0 528.5 1650.1 530.9 1650.9 536.9 1650.3 544.4 1648.5 547.9ZM1648.5 545.6 1647.5 545.6 1646.7 544.4 1645.7 538.9 1646.3 532.9 1648.0 530.2 1649.5 532.0 1650.3 536.9 1649.9 542.4 1648.5 545.6Z" fill="none" stroke="#0000ff" stroke-width="1.3" stroke-linejoin="round"/><path d="M1690.4 573.4 1685.9 573.1 1681.9 571.4 1677.9 568.1 1674.1 563.4 1671.2 558.4 1669.2 552.9 1667.0 538.9 1667.2 533.4 1668.2 527.9 1670.1 522.4 1672.6 517.9 1675.9 514.1 1679.9 511.1 1683.4 509.6 1687.9 508.8 1692.9 509.3 1697.9 511.2 1702.4 514.8 1706.2 519.4 1709.2 526.4 1711.3 543.4 1711.0 547.9 1709.7 552.4 1702.7 564.9 1696.9 571.1 1693.9 572.6 1690.4 573.4ZM1690.4 571.9 1686.4 571.7 1682.4 569.9 1678.4 566.5 1674.4 561.5 1672.1 557.4 1670.2 552.4 1668.1 538.9 1669.3 528.4 1671.2 522.9 1673.4 518.9 1676.4 515.4 1679.9 512.6 1683.9 510.8 1687.9 510.2 1692.9 510.8 1697.4 512.6 1701.4 515.7 1705.0 519.9 1708.0 526.9 1710.1 542.9 1709.9 547.4 1708.7 551.9 1702.8 562.4 1696.9 569.3 1693.9 571.1 1690.4 571.9ZM1691.9 570.0 1687.9 570.2 1684.4 569.1 1680.4 566.2 1676.4 561.9 1673.7 557.9 1671.8 553.4 1669.4 541.4 1669.3 535.9 1670.0 530.4 1673.6 520.9 1676.2 517.4 1679.4 514.6 1682.9 512.7 1686.9 511.7 1691.4 512.0 1695.9 513.5 1699.9 516.2 1703.3 519.9 1706.7 526.9 1708.9 541.4 1708.4 548.9 1705.1 556.4 1697.9 566.3 1694.9 568.7 1691.9 570.0ZM1691.9 568.0 1688.4 568.3 1684.9 567.2 1680.9 564.3 1677.1 560.4 1674.7 556.9 1672.7 552.4 1670.6 541.9 1671.0 531.9 1674.2 522.4 1676.7 518.9 1679.9 515.9 1683.4 514.0 1686.9 513.3 1691.4 513.5 1695.4 515.0 1699.0 517.4 1702.3 520.9 1705.6 527.9 1707.6 540.9 1707.3 548.4 1704.6 554.9 1697.9 563.9 1694.9 566.6 1691.9 568.0ZM1690.9 566.0 1687.9 566.0 1684.4 564.5 1680.4 561.4 1677.2 557.9 1673.6 550.9 1671.7 540.9 1672.3 531.4 1673.8 526.4 1675.8 522.4 1678.1 519.4 1680.9 517.0 1683.9 515.5 1687.4 514.8 1690.9 515.1 1694.9 516.6 1698.4 518.9 1701.5 522.4 1704.4 528.9 1706.5 541.9 1705.8 548.9 1702.8 555.4 1696.4 563.0 1693.4 565.1 1690.9 566.0ZM1690.9 563.4 1687.9 563.4 1684.9 562.2 1678.4 556.8 1674.8 550.4 1673.0 541.4 1673.4 532.4 1676.3 524.4 1680.9 518.9 1683.9 517.3 1686.9 516.6 1690.4 516.8 1694.4 518.2 1697.6 520.4 1700.3 523.4 1703.2 529.9 1705.2 541.4 1704.8 547.9 1701.9 554.3 1696.4 560.5 1693.4 562.6 1690.9 563.4ZM1692.4 560.4 1689.9 560.9 1686.9 560.4 1683.4 558.7 1680.4 556.4 1676.6 550.9 1674.5 543.4 1674.4 534.9 1676.6 526.9 1680.9 521.1 1683.4 519.5 1686.4 518.5 1689.4 518.5 1692.9 519.6 1698.4 523.7 1701.5 529.4 1703.6 538.9 1703.8 545.9 1702.0 551.4 1697.9 556.8 1692.4 560.4ZM1692.4 557.9 1689.9 558.3 1686.9 557.8 1681.4 554.7 1677.9 549.9 1675.9 543.4 1675.7 535.4 1677.6 528.4 1681.4 523.0 1683.9 521.4 1686.4 520.6 1691.9 521.3 1697.0 524.9 1700.0 529.9 1702.1 538.4 1702.5 544.9 1700.9 550.4 1697.4 555.0 1692.4 557.9ZM1692.9 555.5 1688.4 555.8 1683.4 553.7 1679.8 549.9 1677.7 544.4 1677.1 536.9 1678.6 530.4 1681.8 525.4 1685.9 523.1 1690.9 523.4 1695.4 526.2 1698.3 530.4 1700.3 536.9 1701.1 543.4 1700.1 548.4 1697.1 552.9 1692.9 555.5ZM1691.9 553.4 1687.4 553.2 1683.4 551.0 1680.6 547.4 1679.1 542.9 1678.8 536.9 1680.2 531.4 1682.9 527.5 1686.4 525.6 1690.4 525.9 1694.4 528.5 1697.2 532.9 1699.0 538.9 1699.4 544.4 1698.3 548.4 1695.4 551.8 1691.9 553.4ZM1692.4 550.9 1688.9 551.1 1685.4 549.7 1682.7 546.9 1681.2 543.4 1680.7 538.4 1681.6 533.9 1683.4 530.7 1686.4 528.7 1689.9 528.9 1692.9 530.7 1695.3 533.9 1697.0 538.4 1697.6 542.9 1697.0 546.4 1695.0 549.4 1692.4 550.9ZM1691.4 548.4 1688.9 548.5 1686.4 547.3 1684.6 545.4 1683.3 542.4 1683.1 538.9 1683.7 535.9 1685.3 533.4 1687.4 532.3 1689.9 532.6 1691.9 533.9 1693.9 536.7 1695.1 539.9 1695.4 542.9 1694.8 545.4 1693.4 547.4 1691.4 548.4Z" fill="none" stroke="#0000ff" stroke-width="1.3" stroke-linejoin="round"/><path d="M1556.1 625.9 1553.1 625.6 1549.9 622.8 1547.8 618.3 1547.0 613.3 1547.4 607.8 1549.0 602.8 1551.6 599.3 1554.6 598.0 1557.6 598.8 1560.2 601.3 1562.2 605.8 1563.0 610.8 1562.7 615.8 1561.2 620.8 1559.1 624.0 1556.1 625.9ZM1556.6 624.4 1553.6 624.5 1550.7 622.3 1548.8 618.8 1547.8 613.8 1548.0 608.8 1549.4 603.8 1551.6 600.8 1554.6 599.3 1557.1 599.8 1559.7 602.3 1561.4 605.8 1562.2 610.3 1562.0 615.3 1561.0 619.3 1559.1 622.5 1556.6 624.4ZM1555.1 623.3 1552.6 622.5 1550.3 619.8 1548.9 615.8 1548.5 611.8 1549.0 607.8 1550.5 603.8 1552.6 601.5 1555.1 600.7 1557.6 601.6 1559.5 603.8 1560.9 607.3 1561.5 611.8 1561.0 616.3 1559.7 619.8 1557.6 622.4 1555.1 623.3ZM1555.6 621.8 1553.1 621.3 1551.2 619.3 1549.9 616.3 1549.4 612.3 1549.8 608.3 1550.9 605.3 1552.6 603.1 1555.1 602.1 1557.1 602.8 1558.9 604.8 1560.2 608.3 1560.6 611.8 1559.3 618.3 1557.6 620.8 1555.6 621.8ZM1556.1 620.0 1554.1 620.1 1552.3 618.8 1551.0 616.3 1550.3 613.3 1550.5 609.8 1551.3 606.8 1552.7 604.8 1554.6 603.8 1556.6 604.2 1558.1 605.8 1559.7 610.8 1558.8 616.8 1557.6 618.9 1556.1 620.0Z" fill="none" stroke="#0000ff" stroke-width="1.3" stroke-linejoin="round"/><path d="M1536.8 676.1 1531.8 676.3 1514.3 674.1 1506.3 670.3 1499.3 665.1 1495.8 659.6 1494.8 652.6 1496.4 645.6 1500.3 639.8 1505.8 635.5 1511.8 632.2 1517.3 630.8 1524.3 630.3 1531.3 630.7 1536.8 632.1 1544.3 635.8 1549.3 639.6 1552.2 643.6 1553.7 648.1 1554.1 654.1 1553.0 659.6 1550.2 665.6 1546.3 670.6 1541.3 674.4 1536.8 676.1ZM1534.8 675.1 1518.8 673.6 1514.3 672.6 1506.8 668.8 1500.3 663.8 1497.1 658.6 1496.4 652.1 1498.1 645.6 1501.8 640.6 1507.3 636.3 1512.8 633.4 1518.3 632.0 1524.8 631.6 1530.8 632.0 1536.3 633.3 1543.3 636.8 1548.3 640.6 1551.2 644.6 1552.5 649.1 1552.5 654.6 1551.1 660.1 1548.0 666.1 1544.3 670.7 1539.8 673.8 1534.8 675.1ZM1536.3 673.6 1530.8 673.8 1515.3 671.4 1509.8 668.9 1502.8 664.0 1499.1 659.1 1497.9 653.6 1499.0 647.6 1502.2 642.6 1507.3 638.3 1512.3 635.3 1517.3 633.6 1523.3 632.9 1529.8 633.2 1535.3 634.5 1541.3 637.3 1546.7 641.1 1549.5 644.6 1550.9 648.6 1551.1 653.1 1550.1 658.1 1547.4 664.1 1544.4 668.6 1540.8 671.7 1536.3 673.6ZM1533.3 672.6 1515.3 669.9 1509.3 666.9 1503.3 662.1 1500.5 657.6 1499.8 652.1 1501.5 646.6 1505.2 642.1 1510.3 638.2 1514.8 635.9 1520.3 634.5 1525.8 634.2 1531.3 634.8 1536.3 636.5 1542.3 639.8 1546.4 643.1 1548.7 646.6 1549.6 651.1 1549.1 655.6 1547.1 661.1 1544.4 666.1 1541.3 669.6 1537.3 671.9 1533.3 672.6ZM1534.3 671.2 1528.8 671.0 1516.8 668.9 1511.3 666.4 1506.2 662.6 1503.0 658.6 1501.7 653.6 1502.6 648.6 1505.7 644.1 1509.8 640.6 1514.3 637.8 1518.8 636.2 1524.3 635.5 1529.3 635.9 1534.3 637.3 1539.8 640.1 1544.3 643.4 1546.5 646.1 1547.8 649.6 1547.8 653.6 1546.6 658.1 1544.1 663.6 1541.3 667.5 1538.3 669.9 1534.3 671.2ZM1534.3 669.7 1529.3 669.7 1518.3 667.8 1513.3 665.8 1508.1 662.1 1504.9 658.1 1503.7 653.6 1504.6 649.1 1507.3 645.1 1510.8 641.9 1515.3 639.1 1519.8 637.5 1524.3 636.9 1528.8 637.3 1533.3 638.7 1538.3 641.3 1542.8 644.6 1544.9 647.1 1545.9 650.1 1546.0 653.1 1545.1 657.1 1542.7 662.6 1540.4 666.1 1537.8 668.3 1534.3 669.7ZM1533.8 668.1 1528.3 668.2 1518.8 666.5 1513.8 664.4 1510.0 661.6 1506.9 657.6 1505.9 653.6 1506.7 649.6 1509.4 645.6 1512.8 642.6 1516.8 640.2 1520.8 638.9 1524.8 638.4 1528.8 638.9 1532.3 640.1 1540.9 645.6 1542.9 648.1 1543.8 650.6 1543.2 656.6 1539.3 664.6 1536.8 666.9 1533.8 668.1ZM1531.8 666.7 1525.8 666.4 1518.8 664.9 1514.3 662.8 1510.5 659.6 1508.5 656.1 1508.2 652.1 1509.6 648.6 1512.6 645.1 1518.8 641.2 1522.3 640.3 1525.8 640.1 1532.3 642.1 1539.5 647.6 1541.1 650.1 1541.6 652.6 1540.2 659.1 1536.8 664.4 1534.3 666.0 1531.8 666.7ZM1531.8 664.6 1527.3 664.9 1520.8 663.8 1516.8 662.3 1513.3 659.9 1511.2 657.1 1510.3 653.6 1511.2 650.1 1513.3 647.2 1518.8 643.3 1524.3 642.0 1529.8 643.2 1535.5 647.1 1538.4 651.1 1538.6 656.1 1535.9 662.1 1531.8 664.6ZM1529.8 662.6 1525.8 662.8 1521.3 662.1 1517.8 660.8 1514.9 658.6 1513.3 656.1 1512.8 653.6 1513.6 650.6 1515.5 648.1 1519.8 645.2 1524.3 644.2 1528.4 645.1 1532.6 648.1 1535.3 652.1 1535.6 656.1 1533.5 660.6 1529.8 662.6ZM1527.3 660.2 1521.3 659.8 1518.7 658.6 1516.8 656.8 1515.9 654.6 1516.0 652.6 1516.9 650.6 1518.8 648.8 1521.8 647.3 1525.3 647.1 1528.3 648.4 1530.6 650.6 1532.0 653.6 1531.7 656.6 1529.9 659.1 1527.3 660.2Z" fill="none" stroke="#0000ff" stroke-width="1.3" stroke-linejoin="round"/><path d="M1662.7 705.5 1660.7 705.6 1658.2 704.7 1654.7 701.5 1651.9 695.5 1650.8 688.5 1651.4 681.5 1654.0 674.0 1657.2 669.2 1659.2 667.8 1661.2 667.3 1665.2 668.6 1669.2 672.7 1671.9 678.0 1673.0 684.5 1672.3 692.0 1670.3 698.5 1666.7 703.4 1662.7 705.5ZM1663.7 703.5 1659.7 703.6 1655.7 700.6 1653.1 695.5 1651.9 689.0 1652.3 682.0 1654.3 676.0 1657.7 671.0 1661.2 669.3 1664.7 670.2 1668.6 674.0 1670.9 678.5 1672.0 684.0 1671.6 690.5 1669.9 696.5 1667.2 701.0 1663.7 703.5ZM1662.2 702.1 1658.7 701.3 1655.7 698.3 1653.6 693.0 1652.9 687.5 1653.5 682.0 1655.5 676.5 1658.2 672.8 1661.7 671.4 1665.2 672.6 1668.2 675.8 1670.3 680.5 1671.0 685.5 1670.3 691.5 1668.4 697.0 1665.7 700.4 1662.2 702.1ZM1662.7 700.0 1659.7 699.8 1657.0 697.5 1655.0 693.5 1654.1 688.0 1654.5 683.0 1656.3 678.0 1658.7 674.8 1661.7 673.5 1664.7 674.4 1667.2 676.9 1669.0 680.5 1669.8 685.0 1669.4 690.0 1667.9 695.0 1665.7 698.2 1662.7 700.0ZM1661.7 698.0 1659.2 697.2 1657.0 694.5 1655.6 690.5 1655.3 686.5 1655.9 682.5 1657.7 678.6 1659.7 676.5 1662.2 675.8 1664.7 676.8 1666.7 679.0 1668.1 682.5 1668.5 686.5 1667.9 691.0 1666.5 694.5 1664.2 697.2 1661.7 698.0ZM1662.2 695.5 1660.2 695.2 1658.5 693.5 1657.2 690.5 1656.8 687.0 1657.2 683.5 1658.5 680.5 1660.2 678.8 1662.2 678.2 1664.2 679.0 1665.7 680.7 1666.8 683.5 1667.1 686.5 1665.7 692.5 1664.2 694.5 1662.2 695.5ZM1662.2 692.5 1660.7 692.2 1659.7 691.2 1658.5 687.0 1659.7 682.6 1660.7 681.5 1662.2 681.0 1664.3 682.5 1665.3 686.5 1664.4 690.5 1662.2 692.5ZM1662.2 687.3 1661.5 686.5 1662.2 685.5 1662.2 687.3Z" fill="none" stroke="#0000ff" stroke-width="1.3" stroke-linejoin="round"/><path d="M1925.0 706.7 1918.5 706.3 1912.5 703.2 1908.6 698.2 1906.6 691.2 1906.8 682.2 1909.2 674.7 1914.0 668.7 1917.0 666.8 1920.5 665.9 1926.0 666.7 1931.0 670.0 1934.8 675.2 1936.7 681.7 1936.3 691.7 1934.3 699.2 1930.5 704.3 1928.0 705.8 1925.0 706.7ZM1924.5 705.2 1918.5 704.8 1913.0 701.8 1909.5 697.2 1907.8 690.7 1907.9 682.7 1910.2 675.7 1912.5 672.3 1915.0 669.9 1917.5 668.4 1920.5 667.6 1925.5 668.4 1930.5 671.7 1933.9 676.7 1935.3 682.2 1935.1 690.7 1933.3 698.2 1929.5 703.2 1924.5 705.2ZM1923.5 703.8 1918.0 703.0 1913.3 700.2 1910.3 695.7 1908.9 689.2 1909.3 682.2 1911.8 675.7 1916.0 671.2 1921.0 669.4 1926.0 670.5 1930.0 673.6 1932.9 678.2 1934.0 683.7 1933.6 691.7 1931.7 698.2 1928.5 701.9 1923.5 703.8ZM1925.0 701.8 1920.0 701.9 1915.0 699.7 1912.1 696.2 1910.4 690.7 1910.4 684.2 1912.2 678.2 1916.0 673.4 1920.5 671.4 1924.5 671.9 1928.2 674.2 1930.8 677.7 1932.4 682.7 1932.4 689.7 1931.1 695.7 1928.5 699.7 1925.0 701.8ZM1923.5 700.2 1919.0 699.9 1915.2 697.7 1912.9 694.2 1911.7 689.2 1911.9 683.7 1913.7 678.7 1917.0 674.9 1921.0 673.4 1924.5 674.1 1927.5 676.2 1929.8 679.7 1930.9 684.2 1930.8 690.2 1929.5 695.2 1927.0 698.6 1923.5 700.2ZM1923.0 698.3 1919.5 698.1 1916.3 696.2 1914.3 693.2 1913.2 688.7 1913.5 683.7 1915.1 679.7 1918.0 676.7 1921.0 675.7 1924.0 676.2 1926.6 678.2 1928.4 681.2 1929.3 685.2 1929.2 690.2 1928.0 694.2 1926.0 696.8 1923.0 698.3ZM1923.0 695.9 1920.5 696.0 1917.8 694.7 1915.9 692.2 1915.0 688.7 1915.1 685.2 1916.3 681.7 1918.5 679.1 1921.0 678.2 1923.5 678.7 1925.4 680.2 1926.8 682.7 1927.5 685.7 1926.6 692.2 1925.0 694.7 1923.0 695.9ZM1922.5 692.9 1920.5 693.0 1919.0 692.2 1917.2 688.2 1918.0 683.6 1919.5 681.8 1921.0 681.2 1923.6 682.2 1925.3 685.7 1924.8 690.2 1922.5 692.9Z" fill="none" stroke="#0000ff" stroke-width="1.3" stroke-linejoin="round"/><path d="M1609.8 521.9 1608.3 521.9 1606.7 520.6 1605.0 515.1 1606.0 508.6 1607.3 506.7 1608.8 506.0 1610.3 506.4 1611.7 508.1 1613.0 513.1 1612.1 519.1 1609.8 521.9ZM1609.3 520.7 1607.8 520.2 1606.8 519.1 1605.6 514.6 1606.5 509.6 1608.8 507.3 1610.3 507.8 1611.3 509.1 1612.3 513.6 1611.7 518.1 1610.8 519.6 1609.3 520.7Z" fill="none" stroke="#870a0a" stroke-width="1.35" stroke-linejoin="round"/><path d="M1618.3 532.0 1616.8 531.5 1615.5 529.4 1614.0 520.9 1615.0 511.9 1616.3 509.1 1617.8 508.0 1619.3 508.6 1620.6 510.9 1622.0 519.4 1621.0 527.9 1619.8 530.7 1618.3 532.0ZM1618.3 530.0 1617.3 529.8 1615.9 527.9 1614.6 520.9 1615.5 513.4 1616.6 510.9 1617.8 510.0 1618.9 510.4 1620.2 512.4 1621.3 519.4 1620.6 526.4 1619.5 528.9 1618.3 530.0ZM1618.8 527.4 1617.8 527.8 1616.8 526.9 1615.4 521.4 1615.9 515.4 1616.8 513.1 1617.8 512.2 1618.8 512.6 1619.6 513.9 1620.6 518.4 1620.2 523.9 1618.8 527.4Z" fill="none" stroke="#870a0a" stroke-width="1.35" stroke-linejoin="round"/><path d="M1714.5 564.9 1709.5 565.3 1705.5 564.8 1702.1 563.3 1699.0 560.7 1688.5 550.0 1685.6 546.3 1683.4 540.8 1682.8 533.8 1683.3 528.3 1684.7 523.8 1687.1 519.8 1690.8 515.8 1695.5 512.6 1706.0 507.6 1711.0 505.9 1715.5 505.3 1719.5 506.0 1724.0 508.1 1730.5 512.2 1734.5 515.8 1737.8 520.3 1740.7 525.8 1742.5 531.3 1743.0 536.3 1742.3 540.8 1740.1 546.3 1736.8 551.8 1732.7 556.8 1729.5 559.5 1725.5 561.8 1714.5 564.9ZM1712.0 563.3 1707.0 563.1 1703.0 561.5 1689.8 548.8 1687.2 545.3 1685.4 541.3 1684.6 536.8 1684.5 531.8 1685.3 527.3 1686.9 523.3 1689.5 519.5 1692.8 516.3 1698.0 513.0 1707.5 508.6 1712.0 507.1 1716.0 506.8 1720.0 507.6 1724.5 509.9 1730.0 513.6 1733.8 517.3 1736.9 521.8 1739.4 526.8 1740.8 531.8 1741.1 536.3 1740.1 541.3 1737.8 546.8 1734.6 552.3 1731.0 556.4 1727.5 559.1 1723.5 560.9 1712.0 563.3ZM1713.5 561.3 1708.0 561.1 1704.0 559.6 1692.7 549.3 1689.4 545.3 1687.6 541.8 1686.4 537.3 1686.2 532.8 1686.9 528.3 1688.5 524.3 1690.7 520.8 1694.0 517.5 1698.5 514.5 1708.0 510.0 1712.5 508.6 1716.0 508.3 1719.5 509.0 1723.5 510.9 1728.5 514.3 1732.1 517.8 1737.4 526.3 1738.8 530.8 1739.1 535.3 1738.3 540.3 1736.3 545.8 1733.7 550.8 1730.5 554.8 1727.5 557.3 1724.0 559.1 1713.5 561.3ZM1714.5 559.3 1709.5 559.1 1705.5 557.8 1701.5 555.2 1696.5 550.7 1692.4 546.3 1690.1 542.8 1688.6 538.8 1688.1 533.8 1688.5 529.8 1689.8 525.8 1692.2 521.8 1695.1 518.8 1699.5 515.8 1707.0 512.1 1711.5 510.5 1715.5 510.0 1719.0 510.6 1722.5 512.1 1727.0 515.1 1730.5 518.4 1735.5 526.3 1736.8 530.3 1737.1 534.3 1736.5 538.8 1734.7 544.8 1732.4 549.8 1729.8 553.3 1727.0 555.7 1723.5 557.5 1714.5 559.3ZM1715.0 557.3 1710.5 557.0 1706.5 555.8 1702.5 553.4 1698.0 549.7 1694.3 545.8 1691.9 542.3 1690.5 538.3 1690.0 534.3 1690.4 530.3 1691.7 526.3 1693.8 522.8 1696.5 519.8 1700.5 517.0 1706.5 514.0 1711.5 512.2 1715.0 511.7 1718.0 512.1 1721.5 513.5 1729.0 519.2 1733.6 526.3 1735.1 533.3 1734.7 537.8 1733.1 543.8 1731.2 548.3 1729.0 551.7 1726.5 554.0 1723.5 555.7 1715.0 557.3ZM1720.0 554.8 1711.5 554.9 1707.5 553.7 1703.5 551.7 1699.5 548.6 1695.8 544.8 1693.6 541.3 1692.3 537.3 1692.0 533.8 1692.6 529.8 1694.2 525.8 1696.2 522.8 1702.5 517.7 1712.0 513.9 1715.5 513.6 1718.5 514.2 1725.0 517.8 1730.3 523.8 1732.9 530.3 1732.7 537.8 1729.5 547.8 1725.5 552.5 1720.0 554.8ZM1719.5 552.8 1711.5 552.6 1704.0 549.5 1697.5 543.8 1694.6 537.8 1694.6 530.8 1697.5 524.3 1703.0 519.4 1711.0 516.0 1717.0 515.9 1723.0 518.7 1728.1 523.8 1730.8 529.8 1730.8 537.3 1728.1 546.3 1724.5 550.8 1719.5 552.8ZM1718.0 550.8 1711.0 550.2 1704.5 547.3 1699.5 542.8 1696.8 537.3 1696.9 531.3 1699.5 525.3 1704.5 520.8 1711.0 518.0 1716.5 518.0 1722.0 520.5 1726.3 524.8 1728.8 530.3 1728.8 537.3 1726.3 545.3 1723.0 549.1 1718.0 550.8ZM1718.0 548.4 1712.0 548.0 1706.5 545.9 1702.2 542.3 1699.7 537.8 1699.3 532.8 1701.3 527.3 1705.0 523.2 1710.0 520.7 1715.0 520.3 1720.0 522.0 1724.3 525.8 1726.6 530.3 1726.9 536.3 1725.0 542.8 1722.0 546.8 1718.0 548.4ZM1717.0 545.8 1712.5 545.6 1708.0 543.9 1704.5 540.9 1702.7 537.3 1702.5 533.3 1704.0 528.8 1707.0 525.3 1710.5 523.4 1715.0 523.1 1719.0 524.5 1722.3 527.3 1724.2 530.8 1724.6 535.8 1723.2 540.8 1720.6 544.3 1717.0 545.8ZM1716.0 542.9 1712.5 542.8 1709.5 541.5 1707.2 539.3 1706.1 536.8 1706.0 533.8 1707.0 530.8 1709.1 528.3 1712.0 526.8 1715.0 526.6 1718.0 527.6 1720.4 529.8 1721.6 532.3 1721.8 535.8 1720.7 539.3 1718.5 541.8 1716.0 542.9ZM1715.0 538.9 1712.0 538.6 1710.1 536.3 1710.6 533.3 1713.5 531.3 1716.0 531.8 1717.7 534.3 1717.1 537.3 1715.0 538.9Z" fill="none" stroke="#870a0a" stroke-width="1.35" stroke-linejoin="round"/><path d="M1563.7 650.3 1561.7 650.2 1559.7 649.1 1555.6 643.7 1552.8 635.7 1551.6 626.2 1552.5 617.7 1555.8 607.7 1559.2 602.2 1561.2 600.6 1563.2 600.1 1565.7 600.9 1567.7 602.7 1571.0 608.7 1572.5 615.7 1573.4 628.7 1572.8 635.7 1570.6 642.7 1567.2 648.1 1563.7 650.3ZM1563.7 648.3 1561.7 648.2 1559.7 647.1 1556.1 642.2 1553.5 634.7 1552.4 626.2 1553.3 618.2 1556.3 609.2 1559.7 603.9 1563.2 602.3 1565.2 602.8 1567.2 604.5 1570.2 609.7 1571.6 616.2 1572.6 628.7 1572.0 635.2 1570.1 641.2 1567.2 646.0 1563.7 648.3ZM1563.7 646.2 1560.2 645.3 1556.9 641.2 1554.4 634.7 1553.3 626.7 1554.1 619.2 1556.9 610.7 1559.7 606.3 1561.2 605.1 1563.2 604.5 1566.7 606.4 1569.4 611.2 1570.9 617.7 1571.8 628.2 1571.3 634.2 1569.7 639.7 1566.7 644.4 1563.7 646.2ZM1563.2 644.2 1561.2 643.8 1559.7 642.8 1556.9 638.7 1554.9 632.7 1554.2 626.2 1555.0 619.7 1557.3 612.7 1560.2 608.3 1563.2 606.9 1566.2 608.4 1568.6 612.7 1570.1 619.2 1570.9 628.7 1570.4 634.2 1568.7 639.1 1566.2 642.7 1563.2 644.2ZM1564.2 641.9 1561.2 641.7 1558.3 638.7 1556.0 633.2 1555.2 627.2 1555.7 621.2 1557.7 615.0 1560.2 611.0 1563.2 609.5 1565.7 610.8 1567.7 614.2 1569.3 620.7 1570.0 627.7 1569.8 632.2 1568.6 636.7 1566.7 639.9 1564.2 641.9ZM1564.2 639.7 1561.7 639.7 1559.0 637.2 1557.0 632.7 1556.2 627.7 1556.5 622.7 1558.0 617.7 1560.2 613.9 1562.7 612.3 1564.7 612.9 1566.7 615.9 1568.1 620.7 1569.0 626.7 1568.9 631.2 1568.1 634.7 1566.2 638.2 1564.2 639.7ZM1563.2 637.8 1561.2 637.2 1559.2 634.8 1557.9 631.2 1557.4 627.2 1557.7 623.2 1559.0 619.2 1560.7 616.5 1562.7 615.4 1564.7 616.3 1566.1 618.7 1568.0 627.7 1567.8 631.2 1566.7 634.7 1565.2 636.8 1563.2 637.8ZM1563.7 635.2 1562.2 635.2 1560.4 633.7 1559.3 631.2 1558.7 627.7 1559.7 621.7 1561.2 619.3 1562.7 618.6 1564.2 619.3 1565.2 620.8 1566.8 627.2 1566.1 632.2 1565.2 634.0 1563.7 635.2Z" fill="none" stroke="#870a0a" stroke-width="1.35" stroke-linejoin="round"/><path d="M1540.7 675.0 1536.7 675.2 1533.2 674.4 1530.2 672.9 1526.8 670.0 1523.5 666.0 1520.9 661.5 1519.6 657.5 1519.2 653.0 1519.9 643.5 1521.4 639.5 1523.8 635.5 1526.9 632.0 1530.7 629.2 1534.7 627.3 1538.7 626.6 1542.7 626.9 1547.2 628.4 1550.7 630.5 1553.9 633.5 1556.3 637.0 1558.0 641.0 1559.4 650.5 1558.8 660.0 1557.5 664.0 1555.7 667.0 1553.2 669.6 1549.7 671.9 1540.7 675.0ZM1539.7 673.5 1536.2 673.4 1532.7 672.3 1529.2 670.1 1526.2 667.0 1521.9 659.5 1520.6 650.0 1521.8 642.0 1526.0 635.0 1529.2 632.0 1532.7 629.8 1536.2 628.5 1539.7 628.1 1543.7 628.7 1547.7 630.3 1550.9 632.5 1553.7 635.5 1557.0 642.5 1558.0 652.5 1557.0 661.0 1553.9 667.0 1551.2 669.4 1547.7 671.3 1539.7 673.5ZM1541.7 671.6 1538.2 671.8 1534.7 671.2 1531.7 669.8 1528.7 667.3 1524.1 660.5 1522.2 652.0 1522.8 644.0 1525.9 637.5 1531.7 632.2 1535.2 630.5 1538.7 629.8 1545.2 630.8 1551.2 634.8 1554.9 640.5 1556.4 648.0 1556.1 658.0 1553.9 664.5 1549.2 668.9 1541.7 671.6ZM1542.7 669.6 1536.2 669.6 1530.7 666.7 1528.1 664.0 1526.0 660.5 1523.9 653.0 1524.0 645.5 1526.4 639.5 1531.7 634.2 1538.2 631.6 1544.2 632.2 1549.2 635.0 1553.0 640.0 1554.7 646.0 1554.7 656.0 1553.1 662.5 1549.2 666.9 1542.7 669.6ZM1543.2 667.6 1537.2 667.8 1534.2 666.7 1531.7 665.1 1527.8 660.0 1525.6 652.5 1525.6 646.0 1527.7 640.5 1532.2 635.9 1538.2 633.5 1543.2 633.8 1548.2 636.4 1551.5 640.5 1553.0 645.5 1553.2 654.5 1551.8 661.0 1548.7 665.0 1543.2 667.6ZM1542.7 665.5 1537.2 665.5 1532.6 663.0 1529.1 658.0 1527.3 651.5 1527.5 645.5 1529.5 641.0 1533.7 637.2 1538.7 635.5 1543.2 635.8 1547.2 638.0 1550.0 641.5 1551.5 646.5 1551.6 654.0 1550.1 660.0 1547.2 663.6 1542.7 665.5ZM1542.7 663.1 1538.2 663.2 1534.2 661.3 1531.2 657.5 1529.3 652.0 1529.2 647.0 1530.6 643.0 1533.7 639.7 1538.2 637.8 1542.2 637.9 1545.7 639.5 1548.3 642.5 1549.7 646.5 1549.9 652.5 1548.6 658.0 1546.2 661.3 1542.7 663.1ZM1541.2 660.6 1537.7 660.2 1534.7 658.2 1532.5 655.0 1531.3 650.5 1531.5 646.5 1533.0 643.5 1535.7 641.3 1539.2 640.2 1542.7 640.6 1545.2 642.2 1547.1 645.0 1547.9 648.5 1547.8 653.0 1546.4 657.0 1544.2 659.4 1541.2 660.6ZM1541.7 657.0 1539.2 657.3 1536.7 656.1 1534.9 654.0 1533.9 651.5 1533.7 649.0 1534.4 646.5 1535.9 644.5 1538.2 643.3 1540.7 643.2 1542.7 643.9 1544.3 645.5 1545.4 648.0 1545.0 653.5 1543.7 655.7 1541.7 657.0ZM1539.7 653.1 1537.7 652.0 1537.2 650.0 1538.0 648.0 1539.7 647.4 1541.2 648.1 1542.0 650.0 1541.5 652.0 1539.7 653.1Z" fill="none" stroke="#870a0a" stroke-width="1.35" stroke-linejoin="round"/><path d="M1674.6 709.3 1671.6 709.7 1668.1 709.0 1658.6 703.6 1653.6 706.1 1650.6 706.0 1647.4 702.7 1645.5 696.2 1645.9 686.2 1648.7 677.7 1651.1 674.9 1656.1 672.3 1660.2 664.7 1662.6 661.5 1665.1 659.6 1668.1 658.6 1671.1 658.7 1674.6 659.8 1680.1 663.7 1684.4 670.7 1686.4 678.2 1686.2 690.7 1684.5 699.2 1680.2 705.7 1677.6 707.9 1674.6 709.3ZM1673.6 707.7 1670.6 707.8 1667.6 707.0 1659.1 701.8 1657.6 702.0 1653.1 705.0 1650.6 704.8 1647.5 701.2 1646.0 695.2 1646.5 686.2 1649.1 678.8 1651.6 676.2 1656.6 674.7 1662.4 663.7 1665.1 661.2 1668.6 660.0 1674.1 661.0 1679.6 664.9 1683.5 671.2 1685.5 678.7 1685.2 690.7 1683.4 698.7 1679.1 704.8 1676.6 706.6 1673.6 707.7ZM1674.1 705.8 1671.1 706.1 1667.6 705.2 1658.6 699.7 1653.6 703.5 1651.1 703.7 1648.4 701.2 1646.7 695.7 1646.9 687.2 1649.3 680.2 1652.1 677.6 1656.1 677.8 1657.1 677.4 1663.0 665.2 1665.6 662.7 1668.6 661.6 1673.6 662.3 1678.6 665.7 1682.3 671.2 1684.4 678.2 1684.4 688.2 1682.8 696.7 1679.2 702.7 1674.1 705.8ZM1673.1 704.3 1670.1 704.3 1666.6 703.2 1658.6 697.3 1653.6 702.0 1651.1 702.3 1648.6 699.7 1647.2 694.2 1647.7 686.7 1649.8 681.2 1652.6 679.2 1656.6 680.7 1657.6 680.5 1663.6 666.9 1666.3 664.2 1669.6 663.1 1674.6 664.4 1678.7 667.7 1682.0 673.2 1683.5 679.7 1683.2 689.2 1681.5 696.7 1678.1 701.7 1675.6 703.4 1673.1 704.3ZM1671.6 702.7 1668.6 702.3 1665.1 700.7 1658.6 694.0 1654.1 700.0 1652.6 700.9 1651.1 700.8 1648.9 698.2 1647.8 692.7 1648.4 686.7 1650.5 682.2 1651.6 681.3 1653.1 681.1 1657.1 684.5 1658.1 684.5 1664.0 669.2 1666.6 666.2 1670.1 664.9 1674.6 666.1 1678.6 669.8 1681.4 675.2 1682.5 681.7 1681.9 690.7 1680.1 696.7 1676.6 701.0 1674.1 702.3 1671.6 702.7ZM1673.1 700.8 1669.1 700.8 1664.6 698.5 1661.3 694.2 1659.9 689.2 1660.8 681.7 1663.7 673.2 1666.6 668.7 1670.1 666.9 1674.1 667.8 1677.6 670.8 1680.1 675.2 1681.3 680.7 1681.2 687.7 1679.7 694.2 1677.1 698.5 1673.1 700.8ZM1652.1 699.3 1650.6 698.7 1649.6 697.2 1648.6 691.2 1649.9 685.2 1651.1 683.5 1652.6 682.9 1654.1 683.7 1655.5 685.7 1656.6 690.7 1655.0 696.7 1653.6 698.6 1652.1 699.3ZM1672.6 699.2 1668.6 699.1 1665.1 697.0 1662.4 693.2 1661.4 688.7 1661.9 682.7 1664.4 675.2 1667.1 671.0 1670.6 669.2 1674.1 670.0 1677.1 672.7 1679.2 676.7 1680.2 681.7 1680.0 688.2 1678.5 693.7 1676.1 697.3 1672.6 699.2ZM1652.1 697.2 1650.2 695.7 1649.4 691.7 1650.2 687.2 1652.1 685.0 1653.1 685.2 1654.3 686.7 1655.2 690.7 1654.3 695.2 1652.1 697.2ZM1673.1 697.3 1669.6 697.6 1666.1 695.9 1663.7 692.7 1662.7 688.7 1663.2 683.2 1665.2 677.2 1668.1 673.0 1671.1 671.6 1674.1 672.5 1676.5 674.7 1678.2 678.2 1678.9 682.2 1678.8 687.7 1677.6 692.2 1675.6 695.5 1673.1 697.3ZM1652.6 694.4 1651.1 693.8 1650.6 691.7 1651.0 688.7 1652.1 687.4 1653.1 688.0 1653.8 690.2 1653.6 692.7 1652.6 694.4ZM1671.6 695.8 1668.6 695.4 1666.2 693.7 1664.6 690.7 1664.1 687.2 1664.7 682.7 1666.6 678.1 1669.1 675.2 1671.6 674.3 1674.1 675.2 1676.1 677.6 1677.3 680.7 1677.6 684.7 1677.2 688.7 1676.0 692.2 1674.1 694.6 1671.6 695.8ZM1670.6 693.7 1668.6 693.2 1667.0 691.7 1665.9 689.2 1665.7 686.2 1667.6 680.1 1669.6 677.9 1671.6 677.2 1673.6 678.0 1674.9 679.7 1675.8 682.2 1676.1 685.7 1675.5 689.2 1674.2 691.7 1672.6 693.2 1670.6 693.7Z" fill="none" stroke="#870a0a" stroke-width="1.35" stroke-linejoin="round"/><path d="M1935.4 704.9 1931.4 705.3 1927.4 705.0 1922.9 703.8 1918.9 701.9 1915.4 699.2 1912.6 695.9 1910.8 692.4 1909.8 688.9 1909.5 683.9 1910.2 678.4 1911.2 674.4 1913.2 670.4 1915.9 667.2 1919.4 664.5 1927.4 661.3 1930.9 661.0 1934.9 661.6 1942.9 665.3 1948.6 670.9 1950.3 673.9 1951.5 677.9 1951.6 686.9 1950.7 690.9 1949.0 694.4 1946.4 698.0 1942.9 701.2 1939.4 703.5 1935.4 704.9ZM1932.9 703.4 1924.9 702.6 1918.3 699.4 1913.4 693.9 1912.0 690.9 1911.2 686.9 1911.9 677.4 1913.2 673.4 1915.0 670.4 1917.4 667.8 1920.9 665.4 1924.9 663.6 1928.9 662.7 1932.4 662.8 1936.4 663.7 1943.4 667.5 1948.1 672.9 1950.3 679.9 1949.7 688.4 1946.6 694.9 1940.4 700.8 1936.9 702.5 1932.9 703.4ZM1932.9 701.5 1925.9 701.0 1919.4 698.0 1915.2 693.4 1913.0 686.9 1913.3 678.4 1915.8 671.9 1920.9 667.2 1924.4 665.5 1928.4 664.5 1935.4 665.1 1942.4 668.7 1946.6 673.4 1948.7 679.9 1948.2 687.4 1945.1 693.9 1939.4 699.2 1932.9 701.5ZM1932.9 699.4 1926.4 699.2 1920.9 696.8 1916.8 692.4 1914.8 686.4 1914.9 678.9 1917.1 672.9 1921.9 668.5 1928.4 666.2 1934.9 666.7 1940.9 669.6 1945.3 674.4 1947.1 679.9 1946.7 686.4 1943.8 692.4 1938.9 697.1 1932.9 699.4ZM1931.9 697.4 1926.4 697.1 1921.4 694.6 1918.0 690.4 1916.5 684.9 1916.8 678.4 1918.9 673.4 1923.4 669.6 1928.9 668.0 1934.4 668.5 1939.9 671.1 1943.8 675.4 1945.4 680.4 1944.7 686.4 1942.1 691.4 1937.4 695.5 1931.9 697.4ZM1932.9 694.9 1928.4 695.2 1923.9 693.7 1920.5 690.4 1918.7 685.9 1918.5 679.9 1919.9 675.4 1922.9 672.2 1927.4 670.2 1932.4 670.0 1937.4 671.8 1941.1 674.9 1943.3 679.4 1943.2 684.4 1941.3 688.9 1937.4 692.9 1932.9 694.9ZM1932.9 692.4 1928.9 692.8 1925.4 691.7 1922.8 689.4 1921.0 685.9 1920.5 681.4 1921.4 677.3 1923.9 674.1 1927.4 672.4 1931.9 672.2 1935.9 673.4 1939.0 675.9 1940.9 679.4 1941.1 683.4 1939.5 687.4 1936.4 690.7 1932.9 692.4ZM1931.4 690.0 1928.4 689.9 1925.9 688.6 1924.1 686.4 1923.1 683.4 1923.2 679.9 1924.4 677.4 1926.4 675.6 1928.9 674.7 1931.9 674.7 1935.0 675.9 1937.2 677.9 1938.4 680.9 1938.2 683.9 1936.9 686.5 1934.4 688.8 1931.4 690.0ZM1931.9 686.5 1928.9 686.4 1926.6 683.9 1926.8 680.4 1928.9 678.4 1932.4 678.5 1934.6 680.9 1934.4 684.2 1931.9 686.5Z" fill="none" stroke="#870a0a" stroke-width="1.35" stroke-linejoin="round"/><path d="M1903.6 708.8 1902.1 708.5 1901.2 706.7 1900.0 698.7 1900.9 690.2 1902.0 687.7 1903.1 687.0 1905.0 689.7 1906.0 696.7 1905.4 704.7 1903.6 708.8ZM1903.6 706.9 1902.6 707.1 1901.4 705.2 1900.5 698.7 1901.2 691.7 1902.1 689.4 1903.1 688.8 1904.7 691.2 1905.5 696.7 1905.0 703.7 1903.6 706.9Z" fill="none" stroke="#870a0a" stroke-width="1.35" stroke-linejoin="round"/><line x1="925.1" y1="123.9" x2="956.5" y2="175.3" stroke="#000" stroke-width="4.2" stroke-linecap="round"/><line x1="925.1" y1="123.9" x2="964.5" y2="158.4" stroke="#000" stroke-width="4.2" stroke-linecap="round"/><text x="872.5" y="113.7" font-size="29.78" fill="#000" style="">M204</text><text x="948.1" y="101.6" font-size="19.58" fill="#000" style="">4.60</text><line x1="1123.3" y1="151.3" x2="1074.0" y2="119.3" stroke="#000" stroke-width="4.2" stroke-linecap="round"/><line x1="1123.3" y1="151.3" x2="1052.4" y2="138.7" stroke="#000" stroke-width="4.2" stroke-linecap="round"/><text x="1130.2" y="169.3" font-size="29.82" fill="#000" style="">M244</text><text x="1206.3" y="157.2" font-size="18.60" fill="#000" style="">5.45</text><line x1="935.1" y1="276.0" x2="977.6" y2="317.8" stroke="#000" stroke-width="4.2" stroke-linecap="round"/><text x="980.8" y="335.0" font-size="29.63" fill="#000" style="">M330</text><text x="1056.0" y="322.9" font-size="19.62" fill="#000" style="">6.57</text><line x1="1289.4" y1="256.6" x2="1323.0" y2="308.0" stroke="#000" stroke-width="4.2" stroke-linecap="round"/><text x="1292.6" y="339.4" font-size="29.63" fill="#000" style="">M250</text><text x="1368.5" y="327.4" font-size="17.91" fill="#000" style="">5.51</text><line x1="1615.7" y1="46.3" x2="1612.0" y2="75.4" stroke="#000" stroke-width="4.2" stroke-linecap="round"/><line x1="1615.7" y1="46.3" x2="1628.4" y2="70.1" stroke="#000" stroke-width="4.2" stroke-linecap="round"/><text x="1565.2" y="40.3" font-size="29.82" fill="#000" style="">M204</text><text x="1641.5" y="27.6" font-size="18.94" fill="#000" style="">4.60</text><line x1="1716.2" y1="113.7" x2="1777.5" y2="139.0" stroke="#000" stroke-width="4.2" stroke-linecap="round"/><text x="1783.7" y="153.5" font-size="29.12" fill="#000" style="">M244</text><text x="1859.6" y="140.8" font-size="18.75" fill="#000" style="">5.45</text><line x1="1562.3" y1="184.4" x2="1610.5" y2="184.4" stroke="#000" stroke-width="4.2" stroke-linecap="round"/><text x="1615.4" y="197.0" font-size="30.22" fill="#000" style="">M352</text><text x="1691.2" y="185.6" font-size="19.65" fill="#000" style="">7.36</text><text x="1738.5" y="197.0" font-size="31.01" fill="#000" style="font-style:italic;">B</text><line x1="1529.0" y1="230.3" x2="1552.0" y2="282.0" stroke="#000" stroke-width="4.2" stroke-linecap="round"/><text x="1508.7" y="314.1" font-size="29.72" fill="#000" style="">M330</text><text x="1584.5" y="302.6" font-size="19.09" fill="#000" style="">6.57</text><line x1="1666.7" y1="262.5" x2="1692.0" y2="303.8" stroke="#000" stroke-width="4.2" stroke-linecap="round"/><text x="1653.3" y="335.9" font-size="29.72" fill="#000" style="">M352</text><text x="1729.0" y="323.6" font-size="19.06" fill="#000" style="">7.36</text><text x="1776.4" y="335.9" font-size="28.81" fill="#000" style="font-style:italic;">A</text><line x1="1932.0" y1="259.7" x2="1888.8" y2="300.1" stroke="#000" stroke-width="4.2" stroke-linecap="round"/><text x="1836.3" y="332.3" font-size="29.93" fill="#000" style="">M250</text><text x="1912.1" y="320.3" font-size="18.49" fill="#000" style="">5.51</text><line x1="932.0" y1="534.8" x2="944.9" y2="590.8" stroke="#000" stroke-width="4.2" stroke-linecap="round"/><line x1="932.0" y1="534.8" x2="962.7" y2="585.6" stroke="#000" stroke-width="4.2" stroke-linecap="round"/><line x1="932.0" y1="534.8" x2="978.5" y2="577.9" stroke="#000" stroke-width="4.2" stroke-linecap="round"/><text x="883.2" y="529.3" font-size="29.21" fill="#000" style="">M204</text><text x="959.3" y="517.2" font-size="19.15" fill="#000" style="">4.60</text><line x1="938.8" y1="605.5" x2="986.6" y2="634.0" stroke="#000" stroke-width="4.2" stroke-linecap="round"/><text x="988.3" y="652.4" font-size="30.30" fill="#000" style="">M352</text><text x="1064.8" y="640.4" font-size="18.69" fill="#000" style="">7.36</text><text x="1111.0" y="652.4" font-size="28.91" fill="#000" style="font-style:italic;">B</text><line x1="1070.3" y1="543.2" x2="1119.0" y2="575.3" stroke="#000" stroke-width="4.2" stroke-linecap="round"/><text x="1122.5" y="593.7" font-size="29.50" fill="#000" style="">M244</text><text x="1198.3" y="580.8" font-size="18.97" fill="#000" style="">5.45</text><line x1="997.6" y1="736.0" x2="956.3" y2="694.6" stroke="#000" stroke-width="4.2" stroke-linecap="round"/><line x1="997.6" y1="736.0" x2="972.8" y2="694.6" stroke="#000" stroke-width="4.2" stroke-linecap="round"/><text x="1001.1" y="751.6" font-size="29.59" fill="#000" style="">M330</text><text x="1075.9" y="739.7" font-size="19.20" fill="#000" style="">6.57</text><line x1="1289.0" y1="676.6" x2="1317.2" y2="730.5" stroke="#000" stroke-width="4.2" stroke-linecap="round"/><text x="1301.5" y="758.6" font-size="29.22" fill="#000" style="">M250</text><text x="1376.9" y="745.7" font-size="18.33" fill="#000" style="">5.51</text><line x1="1592.0" y1="477.8" x2="1606.6" y2="511.0" stroke="#000" stroke-width="4.2" stroke-linecap="round"/><line x1="1592.0" y1="477.8" x2="1615.4" y2="512.0" stroke="#000" stroke-width="4.2" stroke-linecap="round"/><line x1="1592.0" y1="477.8" x2="1622.2" y2="509.0" stroke="#000" stroke-width="4.2" stroke-linecap="round"/><text x="1529.5" y="472.0" font-size="29.74" fill="#000" style="">M204</text><text x="1605.3" y="460.3" font-size="19.42" fill="#000" style="">4.60</text><line x1="1714.0" y1="540.3" x2="1782.0" y2="578.3" stroke="#000" stroke-width="4.2" stroke-linecap="round"/><text x="1786.8" y="594.9" font-size="29.33" fill="#000" style="">M244</text><text x="1862.4" y="582.2" font-size="19.07" fill="#000" style="">5.45</text><line x1="1560.8" y1="625.3" x2="1616.2" y2="625.3" stroke="#000" stroke-width="4.2" stroke-linecap="round"/><text x="1621.5" y="637.9" font-size="29.72" fill="#000" style="">M352</text><text x="1697.4" y="625.6" font-size="19.38" fill="#000" style="">7.36</text><text x="1744.8" y="637.9" font-size="30.56" fill="#000" style="font-style:italic;">B</text><line x1="1539.0" y1="652.3" x2="1563.2" y2="699.4" stroke="#000" stroke-width="4.2" stroke-linecap="round"/><text x="1519.0" y="731.2" font-size="29.72" fill="#000" style="">M330</text><text x="1593.8" y="719.4" font-size="19.41" fill="#000" style="">6.57</text><line x1="1691.0" y1="746.4" x2="1652.4" y2="687.3" stroke="#000" stroke-width="4.2" stroke-linecap="round"/><line x1="1691.0" y1="746.4" x2="1671.7" y2="686.1" stroke="#000" stroke-width="4.2" stroke-linecap="round"/><text x="1657.6" y="774.8" font-size="29.76" fill="#000" style="">M352</text><text x="1733.6" y="762.8" font-size="18.74" fill="#000" style="">7.36</text><text x="1781.2" y="774.8" font-size="28.36" fill="#000" style="font-style:italic;">A</text><line x1="1931.0" y1="685.0" x2="1888.3" y2="731.2" stroke="#000" stroke-width="4.2" stroke-linecap="round"/><text x="1843.4" y="760.5" font-size="29.34" fill="#000" style="">M250</text><text x="1919.0" y="748.5" font-size="18.12" fill="#000" style="">5.51</text></svg></body></html>
